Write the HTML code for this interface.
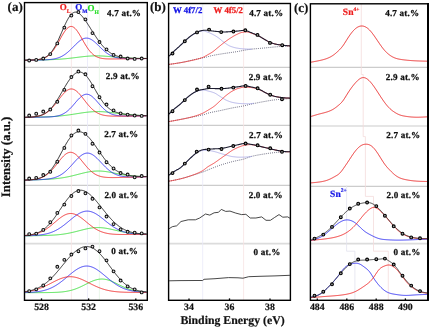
<!DOCTYPE html>
<html><head><meta charset="utf-8"><title>XPS spectra</title><style>
html,body{margin:0;padding:0;background:#fff;}
svg{display:block;will-change:transform;}
text{font-family:"Liberation Serif",serif;font-weight:bold;text-rendering:geometricPrecision;}
.lb{font-size:9.1px;fill:#111;stroke:#111;stroke-width:0.25px;letter-spacing:0.18px;}
.lw{font-size:8.8px;stroke-width:0.25px;}
.ls{font-size:9.6px;stroke-width:0.2px;}
.sup{font-size:5.5px;}
.sub{font-size:5.5px;}
.lo{font-size:9px;stroke-width:0.2px;}
.tk{font-size:9.8px;fill:#111;stroke:#111;stroke-width:0.2px;}
.ax{font-size:11.8px;fill:#111;stroke:#111;stroke-width:0.2px;}
.ay{font-size:12.9px;fill:#111;stroke:#111;stroke-width:0.2px;}
.pl{font-size:13px;fill:#111;stroke:#111;stroke-width:0.2px;}
</style></head>
<body><svg width="430" height="327" viewBox="0 0 430 327">
<rect width="430" height="327" fill="#fff"/>
<line x1="24.5" y1="67.3" x2="147.3" y2="67.3" stroke="#cccccc" stroke-width="1.2"/>
<line x1="24.5" y1="125.3" x2="147.3" y2="125.3" stroke="#cccccc" stroke-width="1.2"/>
<line x1="24.5" y1="185.3" x2="147.3" y2="185.3" stroke="#cccccc" stroke-width="1.2"/>
<line x1="24.5" y1="243.7" x2="147.3" y2="243.7" stroke="#dcdcdc" stroke-width="1.7"/>
<line x1="168.6" y1="67.3" x2="290.4" y2="67.3" stroke="#cccccc" stroke-width="1.2"/>
<line x1="168.6" y1="125.3" x2="290.4" y2="125.3" stroke="#cccccc" stroke-width="1.2"/>
<line x1="168.6" y1="185.3" x2="290.4" y2="185.3" stroke="#cccccc" stroke-width="1.2"/>
<line x1="168.6" y1="243.7" x2="290.4" y2="243.7" stroke="#dcdcdc" stroke-width="1.7"/>
<line x1="310.4" y1="67.3" x2="428.0" y2="67.3" stroke="#cccccc" stroke-width="1.2"/>
<line x1="310.4" y1="126.0" x2="428.0" y2="126.0" stroke="#cccccc" stroke-width="1.2"/>
<line x1="310.4" y1="186.4" x2="428.0" y2="186.4" stroke="#cccccc" stroke-width="1.2"/>
<line x1="310.4" y1="243.7" x2="428.0" y2="243.7" stroke="#dcdcdc" stroke-width="1.7"/>
<line x1="71.4" y1="2.6" x2="71.4" y2="300.0" stroke="#f6e2e2" stroke-width="0.8"/>
<line x1="87.5" y1="2.6" x2="87.5" y2="300.0" stroke="#e9e9f9" stroke-width="0.8"/>
<line x1="99.4" y1="2.6" x2="99.4" y2="300.0" stroke="#e4f5e4" stroke-width="0.8"/>
<line x1="202.7" y1="3.5" x2="202.7" y2="300" stroke="#e9e9f9" stroke-width="0.8"/>
<line x1="243.6" y1="3.5" x2="243.6" y2="300" stroke="#f6e2e2" stroke-width="0.8"/>
<path d="M361.3,3.8 V74.5 H363.2 V136.6 H365.4 V196.4 H373.5 V251.2 H388.3 V300" stroke="#f4dcdc" stroke-width="0.8" fill="none"/>
<path d="M346.6,185.5 V251.2 H354.9 V300" stroke="#e2e2ee" stroke-width="0.8" fill="none"/>
<path d="M25.1,60.22 L25.6,60.22 L26.1,60.21 L26.6,60.2 L27.1,60.19 L27.6,60.19 L28.1,60.18 L28.6,60.17 L29.1,60.16 L29.6,60.16 L30.1,60.15 L30.6,60.14 L31.1,60.13 L31.6,60.13 L32.1,60.12 L32.6,60.11 L33.1,60.1 L33.6,60.09 L34.1,60.09 L34.6,60.08 L35.1,60.07 L35.6,60.06 L36.1,60.05 L36.6,60.04 L37.1,60.03 L37.6,60.02 L38.1,60.01 L38.6,60.01 L39.1,60 L39.6,59.99 L40.1,59.98 L40.6,59.97 L41.1,59.95 L41.6,59.94 L42.1,59.93 L42.6,59.92 L43.1,59.91 L43.6,59.9 L44.1,59.88 L44.6,59.87 L45.1,59.86 L45.6,59.85 L46.1,59.83 L46.6,59.82 L47.1,59.8 L47.6,59.79 L48.1,59.77 L48.6,59.75 L49.1,59.74 L49.6,59.72 L50.1,59.7 L50.6,59.68 L51.1,59.66 L51.6,59.64 L52.1,59.62 L52.6,59.6 L53.1,59.58 L53.6,59.56 L54.1,59.53 L54.6,59.51 L55.1,59.48 L55.6,59.45 L56.1,59.43 L56.6,59.4 L57.1,59.37 L57.6,59.34 L58.1,59.31 L58.6,59.28 L59.1,59.24 L59.6,59.21 L60.1,59.17 L60.6,59.14 L61.1,59.1 L61.6,59.06 L62.1,59.02 L62.6,58.98 L63.1,58.94 L63.6,58.89 L64.1,58.85 L64.6,58.8 L65.1,58.76 L65.6,58.71 L66.1,58.66 L66.6,58.61 L67.1,58.56 L67.6,58.51 L68.1,58.46 L68.6,58.4 L69.1,58.35 L69.6,58.29 L70.1,58.24 L70.6,58.18 L71.1,58.12 L71.6,58.06 L72.1,58 L72.6,57.94 L73.1,57.88 L73.6,57.82 L74.1,57.76 L74.6,57.7 L75.1,57.63 L75.6,57.57 L76.1,57.51 L76.6,57.44 L77.1,57.38 L77.6,57.32 L78.1,57.26 L78.6,57.19 L79.1,57.13 L79.6,57.07 L80.1,57.01 L80.6,56.95 L81.1,56.89 L81.6,56.83 L82.1,56.77 L82.6,56.72 L83.1,56.66 L83.6,56.6 L84.1,56.55 L84.6,56.5 L85.1,56.45 L85.6,56.4 L86.1,56.35 L86.6,56.31 L87.1,56.26 L87.6,56.22 L88.1,56.18 L88.6,56.14 L89.1,56.11 L89.6,56.07 L90.1,56.04 L90.6,56.01 L91.1,55.98 L91.6,55.96 L92.1,55.94 L92.6,55.92 L93.1,55.9 L93.6,55.88 L94.1,55.87 L94.6,55.86 L95.1,55.85 L95.6,55.85 L96.1,55.84 L96.6,55.84 L97.1,55.85 L97.6,55.85 L98.1,55.86 L98.6,55.87 L99.1,55.88 L99.6,55.89 L100.1,55.91 L100.6,55.93 L101.1,55.95 L101.6,55.97 L102.1,56 L102.6,56.02 L103.1,56.05 L103.6,56.08 L104.1,56.12 L104.6,56.15 L105.1,56.19 L105.6,56.22 L106.1,56.26 L106.6,56.3 L107.1,56.34 L107.6,56.39 L108.1,56.43 L108.6,56.47 L109.1,56.52 L109.6,56.56 L110.1,56.61 L110.6,56.66 L111.1,56.71 L111.6,56.75 L112.1,56.8 L112.6,56.85 L113.1,56.9 L113.6,56.95 L114.1,57 L114.6,57.05 L115.1,57.1 L115.6,57.14 L116.1,57.19 L116.6,57.24 L117.1,57.29 L117.6,57.33 L118.1,57.38 L118.6,57.42 L119.1,57.47 L119.6,57.51 L120.1,57.56 L120.6,57.6 L121.1,57.64 L121.6,57.68 L122.1,57.72 L122.6,57.76 L123.1,57.79 L123.6,57.83 L124.1,57.87 L124.6,57.9 L125.1,57.93 L125.6,57.96 L126.1,58 L126.6,58.03 L127.1,58.05 L127.6,58.08 L128.1,58.11 L128.6,58.13 L129.1,58.16 L129.6,58.18 L130.1,58.2 L130.6,58.22 L131.1,58.24 L131.6,58.26 L132.1,58.28 L132.6,58.3 L133.1,58.31 L133.6,58.33 L134.1,58.34 L134.6,58.36 L135.1,58.37 L135.6,58.38 L136.1,58.39 L136.6,58.4 L137.1,58.41 L137.6,58.42 L138.1,58.42 L138.6,58.43 L139.1,58.44 L139.6,58.44 L140.1,58.44 L140.6,58.45 L141.1,58.45 L141.6,58.45 L142.1,58.46 L142.6,58.46 L143.1,58.46 L143.6,58.46 L144.1,58.46 L144.6,58.46 L145.1,58.46 L145.6,58.46 L146.1,58.46 L146.6,58.46" stroke="#33dd33" stroke-width="0.9" fill="none"/>
<path d="M25.1,60.23 L25.6,60.22 L26.1,60.21 L26.6,60.2 L27.1,60.2 L27.6,60.19 L28.1,60.18 L28.6,60.18 L29.1,60.17 L29.6,60.16 L30.1,60.15 L30.6,60.15 L31.1,60.14 L31.6,60.13 L32.1,60.12 L32.6,60.12 L33.1,60.11 L33.6,60.1 L34.1,60.09 L34.6,60.09 L35.1,60.08 L35.6,60.07 L36.1,60.06 L36.6,60.05 L37.1,60.04 L37.6,60.03 L38.1,60.03 L38.6,60.02 L39.1,60.01 L39.6,59.99 L40.1,59.98 L40.6,59.97 L41.1,59.96 L41.6,59.95 L42.1,59.93 L42.6,59.92 L43.1,59.9 L43.6,59.88 L44.1,59.87 L44.6,59.85 L45.1,59.82 L45.6,59.8 L46.1,59.78 L46.6,59.75 L47.1,59.72 L47.6,59.69 L48.1,59.65 L48.6,59.62 L49.1,59.58 L49.6,59.53 L50.1,59.48 L50.6,59.43 L51.1,59.38 L51.6,59.31 L52.1,59.25 L52.6,59.18 L53.1,59.1 L53.6,59.01 L54.1,58.92 L54.6,58.82 L55.1,58.72 L55.6,58.6 L56.1,58.48 L56.6,58.35 L57.1,58.2 L57.6,58.05 L58.1,57.89 L58.6,57.72 L59.1,57.53 L59.6,57.34 L60.1,57.13 L60.6,56.91 L61.1,56.67 L61.6,56.42 L62.1,56.16 L62.6,55.89 L63.1,55.6 L63.6,55.29 L64.1,54.97 L64.6,54.64 L65.1,54.3 L65.6,53.93 L66.1,53.56 L66.6,53.17 L67.1,52.77 L67.6,52.35 L68.1,51.92 L68.6,51.48 L69.1,51.03 L69.6,50.57 L70.1,50.1 L70.6,49.62 L71.1,49.13 L71.6,48.63 L72.1,48.13 L72.6,47.63 L73.1,47.12 L73.6,46.61 L74.1,46.1 L74.6,45.59 L75.1,45.09 L75.6,44.59 L76.1,44.1 L76.6,43.61 L77.1,43.14 L77.6,42.68 L78.1,42.23 L78.6,41.8 L79.1,41.38 L79.6,40.98 L80.1,40.6 L80.6,40.25 L81.1,39.92 L81.6,39.61 L82.1,39.32 L82.6,39.07 L83.1,38.84 L83.6,38.64 L84.1,38.48 L84.6,38.34 L85.1,38.23 L85.6,38.16 L86.1,38.12 L86.6,38.11 L87.1,38.13 L87.6,38.18 L88.1,38.27 L88.6,38.39 L89.1,38.53 L89.6,38.71 L90.1,38.92 L90.6,39.16 L91.1,39.42 L91.6,39.71 L92.1,40.02 L92.6,40.36 L93.1,40.72 L93.6,41.1 L94.1,41.5 L94.6,41.92 L95.1,42.35 L95.6,42.8 L96.1,43.25 L96.6,43.72 L97.1,44.2 L97.6,44.68 L98.1,45.17 L98.6,45.66 L99.1,46.16 L99.6,46.65 L100.1,47.15 L100.6,47.64 L101.1,48.13 L101.6,48.61 L102.1,49.09 L102.6,49.55 L103.1,50.01 L103.6,50.46 L104.1,50.9 L104.6,51.33 L105.1,51.75 L105.6,52.15 L106.1,52.54 L106.6,52.92 L107.1,53.29 L107.6,53.64 L108.1,53.97 L108.6,54.29 L109.1,54.6 L109.6,54.89 L110.1,55.17 L110.6,55.43 L111.1,55.68 L111.6,55.92 L112.1,56.14 L112.6,56.35 L113.1,56.55 L113.6,56.73 L114.1,56.91 L114.6,57.07 L115.1,57.22 L115.6,57.36 L116.1,57.49 L116.6,57.61 L117.1,57.72 L117.6,57.82 L118.1,57.91 L118.6,58 L119.1,58.08 L119.6,58.15 L120.1,58.22 L120.6,58.28 L121.1,58.33 L121.6,58.38 L122.1,58.42 L122.6,58.46 L123.1,58.49 L123.6,58.53 L124.1,58.55 L124.6,58.58 L125.1,58.6 L125.6,58.62 L126.1,58.63 L126.6,58.65 L127.1,58.66 L127.6,58.67 L128.1,58.67 L128.6,58.68 L129.1,58.68 L129.6,58.69 L130.1,58.69 L130.6,58.69 L131.1,58.69 L131.6,58.69 L132.1,58.69 L132.6,58.69 L133.1,58.68 L133.6,58.68 L134.1,58.68 L134.6,58.67 L135.1,58.67 L135.6,58.66 L136.1,58.66 L136.6,58.65 L137.1,58.65 L137.6,58.64 L138.1,58.64 L138.6,58.63 L139.1,58.62 L139.6,58.62 L140.1,58.61 L140.6,58.6 L141.1,58.6 L141.6,58.59 L142.1,58.58 L142.6,58.58 L143.1,58.57 L143.6,58.56 L144.1,58.56 L144.6,58.55 L145.1,58.54 L145.6,58.54 L146.1,58.53 L146.6,58.52" stroke="#2a2af0" stroke-width="0.9" fill="none"/>
<path d="M25.1,60.22 L25.6,60.21 L26.1,60.2 L26.6,60.19 L27.1,60.18 L27.6,60.17 L28.1,60.16 L28.6,60.15 L29.1,60.14 L29.6,60.13 L30.1,60.11 L30.6,60.1 L31.1,60.08 L31.6,60.06 L32.1,60.05 L32.6,60.03 L33.1,60 L33.6,59.98 L34.1,59.95 L34.6,59.92 L35.1,59.89 L35.6,59.85 L36.1,59.81 L36.6,59.76 L37.1,59.71 L37.6,59.66 L38.1,59.59 L38.6,59.52 L39.1,59.45 L39.6,59.36 L40.1,59.27 L40.6,59.16 L41.1,59.05 L41.6,58.93 L42.1,58.79 L42.6,58.64 L43.1,58.47 L43.6,58.29 L44.1,58.09 L44.6,57.88 L45.1,57.64 L45.6,57.39 L46.1,57.11 L46.6,56.82 L47.1,56.5 L47.6,56.15 L48.1,55.78 L48.6,55.39 L49.1,54.97 L49.6,54.52 L50.1,54.04 L50.6,53.54 L51.1,53.01 L51.6,52.44 L52.1,51.85 L52.6,51.23 L53.1,50.58 L53.6,49.9 L54.1,49.19 L54.6,48.46 L55.1,47.7 L55.6,46.92 L56.1,46.11 L56.6,45.28 L57.1,44.44 L57.6,43.57 L58.1,42.7 L58.6,41.81 L59.1,40.92 L59.6,40.02 L60.1,39.12 L60.6,38.22 L61.1,37.32 L61.6,36.44 L62.1,35.57 L62.6,34.72 L63.1,33.88 L63.6,33.08 L64.1,32.3 L64.6,31.56 L65.1,30.85 L65.6,30.19 L66.1,29.57 L66.6,29 L67.1,28.48 L67.6,28.01 L68.1,27.6 L68.6,27.25 L69.1,26.96 L69.6,26.73 L70.1,26.57 L70.6,26.47 L71.1,26.44 L71.6,26.47 L72.1,26.57 L72.6,26.73 L73.1,26.96 L73.6,27.25 L74.1,27.6 L74.6,28.01 L75.1,28.47 L75.6,28.99 L76.1,29.56 L76.6,30.17 L77.1,30.83 L77.6,31.53 L78.1,32.27 L78.6,33.04 L79.1,33.83 L79.6,34.66 L80.1,35.5 L80.6,36.36 L81.1,37.23 L81.6,38.11 L82.1,39 L82.6,39.88 L83.1,40.77 L83.6,41.65 L84.1,42.52 L84.6,43.38 L85.1,44.22 L85.6,45.05 L86.1,45.86 L86.6,46.65 L87.1,47.41 L87.6,48.15 L88.1,48.87 L88.6,49.55 L89.1,50.21 L89.6,50.84 L90.1,51.44 L90.6,52.02 L91.1,52.56 L91.6,53.07 L92.1,53.56 L92.6,54.01 L93.1,54.44 L93.6,54.84 L94.1,55.22 L94.6,55.57 L95.1,55.89 L95.6,56.19 L96.1,56.47 L96.6,56.73 L97.1,56.96 L97.6,57.18 L98.1,57.38 L98.6,57.56 L99.1,57.72 L99.6,57.87 L100.1,58 L100.6,58.12 L101.1,58.23 L101.6,58.33 L102.1,58.42 L102.6,58.5 L103.1,58.57 L103.6,58.63 L104.1,58.68 L104.6,58.73 L105.1,58.77 L105.6,58.8 L106.1,58.83 L106.6,58.86 L107.1,58.88 L107.6,58.9 L108.1,58.92 L108.6,58.93 L109.1,58.94 L109.6,58.95 L110.1,58.96 L110.6,58.96 L111.1,58.96 L111.6,58.96 L112.1,58.96 L112.6,58.96 L113.1,58.96 L113.6,58.96 L114.1,58.96 L114.6,58.95 L115.1,58.95 L115.6,58.94 L116.1,58.94 L116.6,58.93 L117.1,58.93 L117.6,58.92 L118.1,58.92 L118.6,58.91 L119.1,58.9 L119.6,58.9 L120.1,58.89 L120.6,58.88 L121.1,58.88 L121.6,58.87 L122.1,58.86 L122.6,58.86 L123.1,58.85 L123.6,58.84 L124.1,58.84 L124.6,58.83 L125.1,58.82 L125.6,58.82 L126.1,58.81 L126.6,58.8 L127.1,58.8 L127.6,58.79 L128.1,58.78 L128.6,58.77 L129.1,58.77 L129.6,58.76 L130.1,58.75 L130.6,58.75 L131.1,58.74 L131.6,58.73 L132.1,58.73 L132.6,58.72 L133.1,58.71 L133.6,58.7 L134.1,58.7 L134.6,58.69 L135.1,58.68 L135.6,58.68 L136.1,58.67 L136.6,58.66 L137.1,58.66 L137.6,58.65 L138.1,58.64 L138.6,58.63 L139.1,58.63 L139.6,58.62 L140.1,58.61 L140.6,58.61 L141.1,58.6 L141.6,58.59 L142.1,58.59 L142.6,58.58 L143.1,58.57 L143.6,58.56 L144.1,58.56 L144.6,58.55 L145.1,58.54 L145.6,58.54 L146.1,58.53 L146.6,58.52" stroke="#ee2222" stroke-width="0.9" fill="none"/>
<path d="M25.1,60.22 L25.6,60.21 L26.1,60.2 L26.6,60.19 L27.1,60.18 L27.6,60.17 L28.1,60.16 L28.6,60.14 L29.1,60.13 L29.6,60.12 L30.1,60.1 L30.6,60.09 L31.1,60.07 L31.6,60.05 L32.1,60.03 L32.6,60.01 L33.1,59.99 L33.6,59.96 L34.1,59.93 L34.6,59.9 L35.1,59.86 L35.6,59.82 L36.1,59.78 L36.6,59.73 L37.1,59.67 L37.6,59.61 L38.1,59.55 L38.6,59.47 L39.1,59.39 L39.6,59.3 L40.1,59.2 L40.6,59.09 L41.1,58.96 L41.6,58.83 L42.1,58.68 L42.6,58.51 L43.1,58.33 L43.6,58.14 L44.1,57.92 L44.6,57.69 L45.1,57.43 L45.6,57.16 L46.1,56.86 L46.6,56.54 L47.1,56.19 L47.6,55.81 L48.1,55.4 L48.6,54.97 L49.1,54.51 L49.6,54.01 L50.1,53.48 L50.6,52.92 L51.1,52.32 L51.6,51.69 L52.1,51.03 L52.6,50.32 L53.1,49.59 L53.6,48.81 L54.1,48.01 L54.6,47.16 L55.1,46.29 L55.6,45.38 L56.1,44.43 L56.6,43.46 L57.1,42.46 L57.6,41.43 L58.1,40.37 L58.6,39.29 L59.1,38.19 L59.6,37.08 L60.1,35.94 L60.6,34.8 L61.1,33.65 L61.6,32.49 L62.1,31.34 L62.6,30.18 L63.1,29.03 L63.6,27.89 L64.1,26.77 L64.6,25.66 L65.1,24.58 L65.6,23.52 L66.1,22.49 L66.6,21.49 L67.1,20.53 L67.6,19.61 L68.1,18.73 L68.6,17.9 L69.1,17.12 L69.6,16.39 L70.1,15.71 L70.6,15.09 L71.1,14.52 L71.6,14.02 L72.1,13.57 L72.6,13.18 L73.1,12.85 L73.6,12.59 L74.1,12.38 L74.6,12.23 L75.1,12.14 L75.6,12.11 L76.1,12.14 L76.6,12.22 L77.1,12.36 L77.6,12.55 L78.1,12.79 L78.6,13.07 L79.1,13.41 L79.6,13.78 L80.1,14.2 L80.6,14.66 L81.1,15.15 L81.6,15.68 L82.1,16.24 L82.6,16.83 L83.1,17.45 L83.6,18.09 L84.1,18.75 L84.6,19.43 L85.1,20.14 L85.6,20.85 L86.1,21.59 L86.6,22.33 L87.1,23.09 L87.6,23.86 L88.1,24.63 L88.6,25.41 L89.1,26.2 L89.6,26.98 L90.1,27.78 L90.6,28.57 L91.1,29.36 L91.6,30.15 L92.1,30.95 L92.6,31.73 L93.1,32.52 L93.6,33.3 L94.1,34.07 L94.6,34.84 L95.1,35.61 L95.6,36.36 L96.1,37.11 L96.6,37.85 L97.1,38.58 L97.6,39.29 L98.1,40 L98.6,40.7 L99.1,41.38 L99.6,42.05 L100.1,42.71 L100.6,43.36 L101.1,43.99 L101.6,44.61 L102.1,45.21 L102.6,45.8 L103.1,46.37 L103.6,46.93 L104.1,47.46 L104.6,47.99 L105.1,48.5 L105.6,48.99 L106.1,49.46 L106.6,49.92 L107.1,50.36 L107.6,50.79 L108.1,51.19 L108.6,51.59 L109.1,51.96 L109.6,52.32 L110.1,52.67 L110.6,53 L111.1,53.31 L111.6,53.61 L112.1,53.9 L112.6,54.17 L113.1,54.43 L113.6,54.67 L114.1,54.91 L114.6,55.13 L115.1,55.34 L115.6,55.53 L116.1,55.72 L116.6,55.9 L117.1,56.06 L117.6,56.22 L118.1,56.37 L118.6,56.51 L119.1,56.64 L119.6,56.76 L120.1,56.88 L120.6,56.98 L121.1,57.09 L121.6,57.18 L122.1,57.27 L122.6,57.36 L123.1,57.44 L123.6,57.51 L124.1,57.58 L124.6,57.65 L125.1,57.71 L125.6,57.76 L126.1,57.82 L126.6,57.87 L127.1,57.91 L127.6,57.96 L128.1,58 L128.6,58.04 L129.1,58.07 L129.6,58.11 L130.1,58.14 L130.6,58.17 L131.1,58.19 L131.6,58.22 L132.1,58.24 L132.6,58.26 L133.1,58.28 L133.6,58.3 L134.1,58.32 L134.6,58.34 L135.1,58.35 L135.6,58.36 L136.1,58.38 L136.6,58.39 L137.1,58.4 L137.6,58.41 L138.1,58.42 L138.6,58.42 L139.1,58.43 L139.6,58.44 L140.1,58.44 L140.6,58.45 L141.1,58.45 L141.6,58.45 L142.1,58.46 L142.6,58.46 L143.1,58.46 L143.6,58.46 L144.1,58.46 L144.6,58.46 L145.1,58.46 L145.6,58.46 L146.1,58.46 L146.6,58.46" stroke="#1a1a1a" stroke-width="0.9" fill="none"/>
<circle cx="29.2" cy="60.5" r="1.4" fill="#ddd" stroke="#111" stroke-width="1.05"/>
<circle cx="36.23" cy="59.9" r="1.4" fill="#ddd" stroke="#111" stroke-width="1.05"/>
<circle cx="43.26" cy="58.5" r="1.4" fill="#ddd" stroke="#111" stroke-width="1.05"/>
<circle cx="50.29" cy="54.1" r="1.4" fill="#ddd" stroke="#111" stroke-width="1.05"/>
<circle cx="57.32" cy="43.4" r="1.4" fill="#ddd" stroke="#111" stroke-width="1.05"/>
<circle cx="64.35" cy="27.6" r="1.4" fill="#ddd" stroke="#111" stroke-width="1.05"/>
<circle cx="71.38" cy="15.5" r="1.4" fill="#ddd" stroke="#111" stroke-width="1.05"/>
<circle cx="78.41" cy="12" r="1.4" fill="#ddd" stroke="#111" stroke-width="1.05"/>
<circle cx="85.44" cy="19.4" r="1.4" fill="#ddd" stroke="#111" stroke-width="1.05"/>
<circle cx="92.47" cy="33.1" r="1.4" fill="#ddd" stroke="#111" stroke-width="1.05"/>
<circle cx="99.5" cy="42" r="1.4" fill="#ddd" stroke="#111" stroke-width="1.05"/>
<circle cx="106.53" cy="49.4" r="1.4" fill="#ddd" stroke="#111" stroke-width="1.05"/>
<circle cx="113.56" cy="54.9" r="1.4" fill="#ddd" stroke="#111" stroke-width="1.05"/>
<circle cx="120.59" cy="56.5" r="1.4" fill="#ddd" stroke="#111" stroke-width="1.05"/>
<circle cx="127.62" cy="58.5" r="1.4" fill="#ddd" stroke="#111" stroke-width="1.05"/>
<circle cx="134.65" cy="58.9" r="1.4" fill="#ddd" stroke="#111" stroke-width="1.05"/>
<circle cx="141.68" cy="58.5" r="1.4" fill="#ddd" stroke="#111" stroke-width="1.05"/>
<text x="107.1" y="15.5" class="lb">4.7 at.%</text>
<path d="M25.1,117.33 L25.6,117.33 L26.1,117.32 L26.6,117.31 L27.1,117.3 L27.6,117.3 L28.1,117.29 L28.6,117.28 L29.1,117.27 L29.6,117.27 L30.1,117.26 L30.6,117.25 L31.1,117.24 L31.6,117.23 L32.1,117.23 L32.6,117.22 L33.1,117.21 L33.6,117.2 L34.1,117.19 L34.6,117.18 L35.1,117.17 L35.6,117.16 L36.1,117.15 L36.6,117.14 L37.1,117.13 L37.6,117.12 L38.1,117.11 L38.6,117.1 L39.1,117.09 L39.6,117.07 L40.1,117.06 L40.6,117.05 L41.1,117.03 L41.6,117.02 L42.1,117.01 L42.6,116.99 L43.1,116.98 L43.6,116.96 L44.1,116.94 L44.6,116.93 L45.1,116.91 L45.6,116.89 L46.1,116.87 L46.6,116.85 L47.1,116.83 L47.6,116.81 L48.1,116.79 L48.6,116.77 L49.1,116.74 L49.6,116.72 L50.1,116.69 L50.6,116.67 L51.1,116.64 L51.6,116.61 L52.1,116.58 L52.6,116.55 L53.1,116.52 L53.6,116.49 L54.1,116.45 L54.6,116.42 L55.1,116.39 L55.6,116.35 L56.1,116.31 L56.6,116.27 L57.1,116.23 L57.6,116.19 L58.1,116.15 L58.6,116.1 L59.1,116.06 L59.6,116.01 L60.1,115.96 L60.6,115.91 L61.1,115.86 L61.6,115.81 L62.1,115.76 L62.6,115.7 L63.1,115.65 L63.6,115.59 L64.1,115.53 L64.6,115.47 L65.1,115.41 L65.6,115.35 L66.1,115.28 L66.6,115.22 L67.1,115.15 L67.6,115.08 L68.1,115.02 L68.6,114.95 L69.1,114.88 L69.6,114.8 L70.1,114.73 L70.6,114.66 L71.1,114.58 L71.6,114.51 L72.1,114.43 L72.6,114.36 L73.1,114.28 L73.6,114.2 L74.1,114.12 L74.6,114.04 L75.1,113.97 L75.6,113.89 L76.1,113.81 L76.6,113.73 L77.1,113.65 L77.6,113.57 L78.1,113.49 L78.6,113.41 L79.1,113.33 L79.6,113.26 L80.1,113.18 L80.6,113.1 L81.1,113.03 L81.6,112.95 L82.1,112.88 L82.6,112.81 L83.1,112.73 L83.6,112.66 L84.1,112.6 L84.6,112.53 L85.1,112.46 L85.6,112.4 L86.1,112.34 L86.6,112.28 L87.1,112.22 L87.6,112.16 L88.1,112.11 L88.6,112.06 L89.1,112.01 L89.6,111.96 L90.1,111.92 L90.6,111.88 L91.1,111.84 L91.6,111.8 L92.1,111.77 L92.6,111.74 L93.1,111.71 L93.6,111.69 L94.1,111.66 L94.6,111.64 L95.1,111.63 L95.6,111.61 L96.1,111.6 L96.6,111.6 L97.1,111.59 L97.6,111.59 L98.1,111.59 L98.6,111.6 L99.1,111.6 L99.6,111.61 L100.1,111.63 L100.6,111.64 L101.1,111.66 L101.6,111.68 L102.1,111.71 L102.6,111.73 L103.1,111.76 L103.6,111.8 L104.1,111.83 L104.6,111.87 L105.1,111.91 L105.6,111.95 L106.1,111.99 L106.6,112.04 L107.1,112.09 L107.6,112.14 L108.1,112.19 L108.6,112.24 L109.1,112.3 L109.6,112.35 L110.1,112.41 L110.6,112.47 L111.1,112.53 L111.6,112.59 L112.1,112.65 L112.6,112.72 L113.1,112.78 L113.6,112.85 L114.1,112.91 L114.6,112.98 L115.1,113.04 L115.6,113.11 L116.1,113.18 L116.6,113.24 L117.1,113.31 L117.6,113.38 L118.1,113.44 L118.6,113.51 L119.1,113.58 L119.6,113.64 L120.1,113.71 L120.6,113.77 L121.1,113.84 L121.6,113.9 L122.1,113.96 L122.6,114.03 L123.1,114.09 L123.6,114.15 L124.1,114.21 L124.6,114.27 L125.1,114.32 L125.6,114.38 L126.1,114.43 L126.6,114.49 L127.1,114.54 L127.6,114.59 L128.1,114.64 L128.6,114.69 L129.1,114.74 L129.6,114.78 L130.1,114.83 L130.6,114.87 L131.1,114.91 L131.6,114.96 L132.1,115 L132.6,115.03 L133.1,115.07 L133.6,115.11 L134.1,115.14 L134.6,115.17 L135.1,115.21 L135.6,115.24 L136.1,115.26 L136.6,115.29 L137.1,115.32 L137.6,115.34 L138.1,115.37 L138.6,115.39 L139.1,115.41 L139.6,115.44 L140.1,115.46 L140.6,115.47 L141.1,115.49 L141.6,115.51 L142.1,115.52 L142.6,115.54 L143.1,115.55 L143.6,115.57 L144.1,115.58 L144.6,115.59 L145.1,115.6 L145.6,115.61 L146.1,115.62 L146.6,115.63" stroke="#33dd33" stroke-width="0.9" fill="none"/>
<path d="M25.1,117.34 L25.6,117.34 L26.1,117.33 L26.6,117.32 L27.1,117.32 L27.6,117.31 L28.1,117.3 L28.6,117.3 L29.1,117.29 L29.6,117.29 L30.1,117.28 L30.6,117.27 L31.1,117.27 L31.6,117.26 L32.1,117.26 L32.6,117.25 L33.1,117.24 L33.6,117.24 L34.1,117.23 L34.6,117.22 L35.1,117.22 L35.6,117.21 L36.1,117.2 L36.6,117.2 L37.1,117.19 L37.6,117.19 L38.1,117.18 L38.6,117.17 L39.1,117.16 L39.6,117.16 L40.1,117.15 L40.6,117.14 L41.1,117.13 L41.6,117.13 L42.1,117.12 L42.6,117.11 L43.1,117.1 L43.6,117.09 L44.1,117.08 L44.6,117.07 L45.1,117.06 L45.6,117.04 L46.1,117.03 L46.6,117.02 L47.1,117 L47.6,116.98 L48.1,116.96 L48.6,116.94 L49.1,116.92 L49.6,116.9 L50.1,116.87 L50.6,116.84 L51.1,116.81 L51.6,116.77 L52.1,116.73 L52.6,116.69 L53.1,116.64 L53.6,116.59 L54.1,116.53 L54.6,116.47 L55.1,116.4 L55.6,116.32 L56.1,116.24 L56.6,116.14 L57.1,116.04 L57.6,115.93 L58.1,115.82 L58.6,115.69 L59.1,115.55 L59.6,115.39 L60.1,115.23 L60.6,115.05 L61.1,114.86 L61.6,114.66 L62.1,114.44 L62.6,114.2 L63.1,113.95 L63.6,113.68 L64.1,113.4 L64.6,113.1 L65.1,112.78 L65.6,112.44 L66.1,112.08 L66.6,111.71 L67.1,111.32 L67.6,110.91 L68.1,110.48 L68.6,110.03 L69.1,109.57 L69.6,109.08 L70.1,108.59 L70.6,108.08 L71.1,107.55 L71.6,107.01 L72.1,106.46 L72.6,105.9 L73.1,105.33 L73.6,104.75 L74.1,104.16 L74.6,103.58 L75.1,102.99 L75.6,102.4 L76.1,101.82 L76.6,101.24 L77.1,100.67 L77.6,100.1 L78.1,99.56 L78.6,99.02 L79.1,98.5 L79.6,98 L80.1,97.53 L80.6,97.08 L81.1,96.65 L81.6,96.26 L82.1,95.89 L82.6,95.56 L83.1,95.26 L83.6,94.99 L84.1,94.77 L84.6,94.58 L85.1,94.43 L85.6,94.32 L86.1,94.26 L86.6,94.23 L87.1,94.25 L87.6,94.3 L88.1,94.4 L88.6,94.54 L89.1,94.71 L89.6,94.93 L90.1,95.18 L90.6,95.47 L91.1,95.79 L91.6,96.14 L92.1,96.53 L92.6,96.94 L93.1,97.38 L93.6,97.84 L94.1,98.33 L94.6,98.84 L95.1,99.36 L95.6,99.9 L96.1,100.45 L96.6,101.01 L97.1,101.57 L97.6,102.15 L98.1,102.72 L98.6,103.3 L99.1,103.87 L99.6,104.44 L100.1,105.01 L100.6,105.57 L101.1,106.11 L101.6,106.65 L102.1,107.18 L102.6,107.69 L103.1,108.19 L103.6,108.68 L104.1,109.15 L104.6,109.6 L105.1,110.03 L105.6,110.45 L106.1,110.85 L106.6,111.23 L107.1,111.59 L107.6,111.93 L108.1,112.26 L108.6,112.56 L109.1,112.85 L109.6,113.13 L110.1,113.38 L110.6,113.62 L111.1,113.84 L111.6,114.05 L112.1,114.24 L112.6,114.42 L113.1,114.58 L113.6,114.73 L114.1,114.87 L114.6,115 L115.1,115.12 L115.6,115.22 L116.1,115.32 L116.6,115.41 L117.1,115.49 L117.6,115.56 L118.1,115.62 L118.6,115.68 L119.1,115.73 L119.6,115.78 L120.1,115.82 L120.6,115.85 L121.1,115.89 L121.6,115.91 L122.1,115.94 L122.6,115.96 L123.1,115.97 L123.6,115.99 L124.1,116 L124.6,116.01 L125.1,116.02 L125.6,116.03 L126.1,116.03 L126.6,116.03 L127.1,116.04 L127.6,116.04 L128.1,116.04 L128.6,116.04 L129.1,116.04 L129.6,116.03 L130.1,116.03 L130.6,116.03 L131.1,116.03 L131.6,116.02 L132.1,116.02 L132.6,116.01 L133.1,116.01 L133.6,116 L134.1,116 L134.6,115.99 L135.1,115.99 L135.6,115.98 L136.1,115.98 L136.6,115.97 L137.1,115.97 L137.6,115.96 L138.1,115.95 L138.6,115.95 L139.1,115.94 L139.6,115.94 L140.1,115.93 L140.6,115.92 L141.1,115.92 L141.6,115.91 L142.1,115.91 L142.6,115.9 L143.1,115.89 L143.6,115.89 L144.1,115.88 L144.6,115.87 L145.1,115.87 L145.6,115.86 L146.1,115.86 L146.6,115.85" stroke="#2a2af0" stroke-width="0.9" fill="none"/>
<path d="M25.1,117.3 L25.6,117.28 L26.1,117.27 L26.6,117.26 L27.1,117.24 L27.6,117.22 L28.1,117.21 L28.6,117.19 L29.1,117.16 L29.6,117.14 L30.1,117.11 L30.6,117.09 L31.1,117.06 L31.6,117.02 L32.1,116.99 L32.6,116.95 L33.1,116.9 L33.6,116.85 L34.1,116.8 L34.6,116.75 L35.1,116.68 L35.6,116.62 L36.1,116.54 L36.6,116.46 L37.1,116.38 L37.6,116.28 L38.1,116.18 L38.6,116.07 L39.1,115.95 L39.6,115.82 L40.1,115.68 L40.6,115.53 L41.1,115.36 L41.6,115.19 L42.1,115 L42.6,114.8 L43.1,114.58 L43.6,114.36 L44.1,114.11 L44.6,113.85 L45.1,113.57 L45.6,113.28 L46.1,112.97 L46.6,112.64 L47.1,112.3 L47.6,111.93 L48.1,111.55 L48.6,111.15 L49.1,110.73 L49.6,110.29 L50.1,109.84 L50.6,109.36 L51.1,108.87 L51.6,108.35 L52.1,107.83 L52.6,107.28 L53.1,106.72 L53.6,106.14 L54.1,105.55 L54.6,104.94 L55.1,104.32 L55.6,103.7 L56.1,103.06 L56.6,102.41 L57.1,101.76 L57.6,101.1 L58.1,100.44 L58.6,99.78 L59.1,99.11 L59.6,98.46 L60.1,97.8 L60.6,97.16 L61.1,96.52 L61.6,95.9 L62.1,95.29 L62.6,94.69 L63.1,94.11 L63.6,93.56 L64.1,93.02 L64.6,92.52 L65.1,92.04 L65.6,91.58 L66.1,91.16 L66.6,90.77 L67.1,90.42 L67.6,90.1 L68.1,89.82 L68.6,89.58 L69.1,89.37 L69.6,89.21 L70.1,89.09 L70.6,89 L71.1,88.97 L71.6,88.97 L72.1,89.01 L72.6,89.1 L73.1,89.23 L73.6,89.4 L74.1,89.61 L74.6,89.85 L75.1,90.14 L75.6,90.46 L76.1,90.82 L76.6,91.21 L77.1,91.63 L77.6,92.08 L78.1,92.57 L78.6,93.07 L79.1,93.6 L79.6,94.16 L80.1,94.73 L80.6,95.32 L81.1,95.92 L81.6,96.54 L82.1,97.17 L82.6,97.81 L83.1,98.45 L83.6,99.1 L84.1,99.75 L84.6,100.4 L85.1,101.04 L85.6,101.69 L86.1,102.33 L86.6,102.96 L87.1,103.58 L87.6,104.19 L88.1,104.79 L88.6,105.38 L89.1,105.95 L89.6,106.51 L90.1,107.05 L90.6,107.58 L91.1,108.09 L91.6,108.58 L92.1,109.06 L92.6,109.51 L93.1,109.95 L93.6,110.37 L94.1,110.77 L94.6,111.15 L95.1,111.51 L95.6,111.85 L96.1,112.18 L96.6,112.48 L97.1,112.78 L97.6,113.05 L98.1,113.31 L98.6,113.55 L99.1,113.77 L99.6,113.98 L100.1,114.18 L100.6,114.36 L101.1,114.53 L101.6,114.69 L102.1,114.83 L102.6,114.97 L103.1,115.09 L103.6,115.21 L104.1,115.31 L104.6,115.4 L105.1,115.49 L105.6,115.57 L106.1,115.64 L106.6,115.71 L107.1,115.77 L107.6,115.82 L108.1,115.87 L108.6,115.91 L109.1,115.95 L109.6,115.98 L110.1,116.01 L110.6,116.04 L111.1,116.06 L111.6,116.08 L112.1,116.1 L112.6,116.11 L113.1,116.12 L113.6,116.13 L114.1,116.14 L114.6,116.15 L115.1,116.15 L115.6,116.16 L116.1,116.16 L116.6,116.16 L117.1,116.16 L117.6,116.16 L118.1,116.16 L118.6,116.16 L119.1,116.16 L119.6,116.16 L120.1,116.16 L120.6,116.15 L121.1,116.15 L121.6,116.14 L122.1,116.14 L122.6,116.14 L123.1,116.13 L123.6,116.13 L124.1,116.12 L124.6,116.12 L125.1,116.11 L125.6,116.1 L126.1,116.1 L126.6,116.09 L127.1,116.09 L127.6,116.08 L128.1,116.08 L128.6,116.07 L129.1,116.06 L129.6,116.06 L130.1,116.05 L130.6,116.05 L131.1,116.04 L131.6,116.03 L132.1,116.03 L132.6,116.02 L133.1,116.02 L133.6,116.01 L134.1,116 L134.6,116 L135.1,115.99 L135.6,115.99 L136.1,115.98 L136.6,115.97 L137.1,115.97 L137.6,115.96 L138.1,115.95 L138.6,115.95 L139.1,115.94 L139.6,115.94 L140.1,115.93 L140.6,115.92 L141.1,115.92 L141.6,115.91 L142.1,115.91 L142.6,115.9 L143.1,115.89 L143.6,115.89 L144.1,115.88 L144.6,115.87 L145.1,115.87 L145.6,115.86 L146.1,115.86 L146.6,115.85" stroke="#ee2222" stroke-width="0.9" fill="none"/>
<path d="M25.1,117.29 L25.6,117.27 L26.1,117.26 L26.6,117.24 L27.1,117.23 L27.6,117.21 L28.1,117.19 L28.6,117.17 L29.1,117.15 L29.6,117.12 L30.1,117.09 L30.6,117.06 L31.1,117.03 L31.6,116.99 L32.1,116.96 L32.6,116.91 L33.1,116.87 L33.6,116.82 L34.1,116.76 L34.6,116.7 L35.1,116.64 L35.6,116.56 L36.1,116.49 L36.6,116.4 L37.1,116.31 L37.6,116.21 L38.1,116.1 L38.6,115.98 L39.1,115.86 L39.6,115.72 L40.1,115.57 L40.6,115.41 L41.1,115.24 L41.6,115.06 L42.1,114.86 L42.6,114.65 L43.1,114.42 L43.6,114.18 L44.1,113.92 L44.6,113.64 L45.1,113.35 L45.6,113.04 L46.1,112.71 L46.6,112.36 L47.1,111.99 L47.6,111.6 L48.1,111.19 L48.6,110.75 L49.1,110.3 L49.6,109.83 L50.1,109.33 L50.6,108.81 L51.1,108.27 L51.6,107.7 L52.1,107.12 L52.6,106.51 L53.1,105.88 L53.6,105.23 L54.1,104.56 L54.6,103.87 L55.1,103.16 L55.6,102.43 L56.1,101.68 L56.6,100.91 L57.1,100.13 L57.6,99.34 L58.1,98.53 L58.6,97.7 L59.1,96.87 L59.6,96.02 L60.1,95.17 L60.6,94.31 L61.1,93.45 L61.6,92.58 L62.1,91.7 L62.6,90.83 L63.1,89.96 L63.6,89.09 L64.1,88.23 L64.6,87.37 L65.1,86.52 L65.6,85.68 L66.1,84.85 L66.6,84.04 L67.1,83.23 L67.6,82.45 L68.1,81.68 L68.6,80.94 L69.1,80.21 L69.6,79.5 L70.1,78.83 L70.6,78.17 L71.1,77.54 L71.6,76.94 L72.1,76.37 L72.6,75.83 L73.1,75.33 L73.6,74.85 L74.1,74.41 L74.6,74.01 L75.1,73.64 L75.6,73.31 L76.1,73.01 L76.6,72.76 L77.1,72.54 L77.6,72.36 L78.1,72.23 L78.6,72.13 L79.1,72.08 L79.6,72.07 L80.1,72.1 L80.6,72.18 L81.1,72.29 L81.6,72.45 L82.1,72.65 L82.6,72.9 L83.1,73.18 L83.6,73.51 L84.1,73.88 L84.6,74.28 L85.1,74.73 L85.6,75.21 L86.1,75.74 L86.6,76.29 L87.1,76.88 L87.6,77.51 L88.1,78.16 L88.6,78.85 L89.1,79.56 L89.6,80.3 L90.1,81.06 L90.6,81.85 L91.1,82.65 L91.6,83.48 L92.1,84.31 L92.6,85.16 L93.1,86.02 L93.6,86.89 L94.1,87.77 L94.6,88.65 L95.1,89.53 L95.6,90.41 L96.1,91.29 L96.6,92.16 L97.1,93.02 L97.6,93.88 L98.1,94.73 L98.6,95.56 L99.1,96.38 L99.6,97.18 L100.1,97.97 L100.6,98.74 L101.1,99.49 L101.6,100.22 L102.1,100.93 L102.6,101.62 L103.1,102.28 L103.6,102.92 L104.1,103.54 L104.6,104.14 L105.1,104.71 L105.6,105.26 L106.1,105.79 L106.6,106.29 L107.1,106.77 L107.6,107.23 L108.1,107.66 L108.6,108.08 L109.1,108.47 L109.6,108.85 L110.1,109.2 L110.6,109.54 L111.1,109.86 L111.6,110.16 L112.1,110.44 L112.6,110.71 L113.1,110.96 L113.6,111.2 L114.1,111.43 L114.6,111.64 L115.1,111.84 L115.6,112.03 L116.1,112.21 L116.6,112.38 L117.1,112.54 L117.6,112.69 L118.1,112.83 L118.6,112.97 L119.1,113.09 L119.6,113.22 L120.1,113.33 L120.6,113.44 L121.1,113.54 L121.6,113.64 L122.1,113.74 L122.6,113.83 L123.1,113.91 L123.6,114 L124.1,114.08 L124.6,114.15 L125.1,114.22 L125.6,114.29 L126.1,114.36 L126.6,114.42 L127.1,114.48 L127.6,114.54 L128.1,114.6 L128.6,114.66 L129.1,114.71 L129.6,114.76 L130.1,114.81 L130.6,114.85 L131.1,114.9 L131.6,114.94 L132.1,114.98 L132.6,115.02 L133.1,115.06 L133.6,115.1 L134.1,115.13 L134.6,115.17 L135.1,115.2 L135.6,115.23 L136.1,115.26 L136.6,115.29 L137.1,115.32 L137.6,115.34 L138.1,115.37 L138.6,115.39 L139.1,115.41 L139.6,115.43 L140.1,115.45 L140.6,115.47 L141.1,115.49 L141.6,115.51 L142.1,115.52 L142.6,115.54 L143.1,115.55 L143.6,115.57 L144.1,115.58 L144.6,115.59 L145.1,115.6 L145.6,115.61 L146.1,115.62 L146.6,115.63" stroke="#1a1a1a" stroke-width="0.9" fill="none"/>
<circle cx="29.2" cy="115.5" r="1.4" fill="#ddd" stroke="#111" stroke-width="1.05"/>
<circle cx="36.23" cy="113.7" r="1.4" fill="#ddd" stroke="#111" stroke-width="1.05"/>
<circle cx="43.26" cy="111.5" r="1.4" fill="#ddd" stroke="#111" stroke-width="1.05"/>
<circle cx="50.29" cy="109.5" r="1.4" fill="#ddd" stroke="#111" stroke-width="1.05"/>
<circle cx="57.32" cy="101.75" r="1.4" fill="#ddd" stroke="#111" stroke-width="1.05"/>
<circle cx="64.35" cy="89.8" r="1.4" fill="#ddd" stroke="#111" stroke-width="1.05"/>
<circle cx="71.38" cy="77" r="1.4" fill="#ddd" stroke="#111" stroke-width="1.05"/>
<circle cx="78.41" cy="71.5" r="1.4" fill="#ddd" stroke="#111" stroke-width="1.05"/>
<circle cx="85.44" cy="74.25" r="1.4" fill="#ddd" stroke="#111" stroke-width="1.05"/>
<circle cx="92.47" cy="86.2" r="1.4" fill="#ddd" stroke="#111" stroke-width="1.05"/>
<circle cx="99.5" cy="97.2" r="1.4" fill="#ddd" stroke="#111" stroke-width="1.05"/>
<circle cx="106.53" cy="104.5" r="1.4" fill="#ddd" stroke="#111" stroke-width="1.05"/>
<circle cx="113.56" cy="110.4" r="1.4" fill="#ddd" stroke="#111" stroke-width="1.05"/>
<circle cx="120.59" cy="113.3" r="1.4" fill="#ddd" stroke="#111" stroke-width="1.05"/>
<circle cx="127.62" cy="114.6" r="1.4" fill="#ddd" stroke="#111" stroke-width="1.05"/>
<circle cx="134.65" cy="115.5" r="1.4" fill="#ddd" stroke="#111" stroke-width="1.05"/>
<circle cx="141.68" cy="115.9" r="1.4" fill="#ddd" stroke="#111" stroke-width="1.05"/>
<text x="105.8" y="79.4" class="lb">2.9 at.%</text>
<path d="M25.1,180.13 L25.6,180.12 L26.1,180.1 L26.6,180.09 L27.1,180.07 L27.6,180.06 L28.1,180.05 L28.6,180.03 L29.1,180.02 L29.6,180 L30.1,179.99 L30.6,179.97 L31.1,179.96 L31.6,179.94 L32.1,179.92 L32.6,179.91 L33.1,179.89 L33.6,179.88 L34.1,179.86 L34.6,179.84 L35.1,179.83 L35.6,179.81 L36.1,179.79 L36.6,179.78 L37.1,179.76 L37.6,179.74 L38.1,179.72 L38.6,179.71 L39.1,179.69 L39.6,179.67 L40.1,179.65 L40.6,179.63 L41.1,179.61 L41.6,179.59 L42.1,179.57 L42.6,179.55 L43.1,179.52 L43.6,179.5 L44.1,179.48 L44.6,179.45 L45.1,179.43 L45.6,179.4 L46.1,179.38 L46.6,179.35 L47.1,179.32 L47.6,179.29 L48.1,179.26 L48.6,179.23 L49.1,179.2 L49.6,179.17 L50.1,179.13 L50.6,179.1 L51.1,179.06 L51.6,179.02 L52.1,178.98 L52.6,178.94 L53.1,178.9 L53.6,178.86 L54.1,178.81 L54.6,178.77 L55.1,178.72 L55.6,178.67 L56.1,178.62 L56.6,178.57 L57.1,178.51 L57.6,178.46 L58.1,178.4 L58.6,178.34 L59.1,178.27 L59.6,178.21 L60.1,178.14 L60.6,178.07 L61.1,178 L61.6,177.93 L62.1,177.85 L62.6,177.77 L63.1,177.69 L63.6,177.61 L64.1,177.53 L64.6,177.44 L65.1,177.35 L65.6,177.26 L66.1,177.17 L66.6,177.07 L67.1,176.97 L67.6,176.87 L68.1,176.77 L68.6,176.66 L69.1,176.56 L69.6,176.45 L70.1,176.34 L70.6,176.22 L71.1,176.11 L71.6,175.99 L72.1,175.88 L72.6,175.76 L73.1,175.63 L73.6,175.51 L74.1,175.39 L74.6,175.26 L75.1,175.14 L75.6,175.01 L76.1,174.88 L76.6,174.75 L77.1,174.62 L77.6,174.49 L78.1,174.36 L78.6,174.23 L79.1,174.1 L79.6,173.97 L80.1,173.84 L80.6,173.72 L81.1,173.59 L81.6,173.46 L82.1,173.34 L82.6,173.21 L83.1,173.09 L83.6,172.97 L84.1,172.85 L84.6,172.74 L85.1,172.62 L85.6,172.51 L86.1,172.4 L86.6,172.3 L87.1,172.2 L87.6,172.1 L88.1,172 L88.6,171.91 L89.1,171.82 L89.6,171.74 L90.1,171.66 L90.6,171.58 L91.1,171.51 L91.6,171.44 L92.1,171.38 L92.6,171.32 L93.1,171.27 L93.6,171.22 L94.1,171.18 L94.6,171.14 L95.1,171.1 L95.6,171.08 L96.1,171.05 L96.6,171.03 L97.1,171.02 L97.6,171.01 L98.1,171.01 L98.6,171.01 L99.1,171.02 L99.6,171.03 L100.1,171.05 L100.6,171.07 L101.1,171.1 L101.6,171.13 L102.1,171.17 L102.6,171.21 L103.1,171.25 L103.6,171.3 L104.1,171.36 L104.6,171.41 L105.1,171.48 L105.6,171.54 L106.1,171.61 L106.6,171.68 L107.1,171.76 L107.6,171.84 L108.1,171.92 L108.6,172 L109.1,172.09 L109.6,172.18 L110.1,172.27 L110.6,172.36 L111.1,172.46 L111.6,172.55 L112.1,172.65 L112.6,172.75 L113.1,172.85 L113.6,172.95 L114.1,173.05 L114.6,173.15 L115.1,173.25 L115.6,173.36 L116.1,173.46 L116.6,173.56 L117.1,173.66 L117.6,173.76 L118.1,173.86 L118.6,173.96 L119.1,174.06 L119.6,174.15 L120.1,174.25 L120.6,174.34 L121.1,174.44 L121.6,174.53 L122.1,174.62 L122.6,174.71 L123.1,174.79 L123.6,174.88 L124.1,174.96 L124.6,175.04 L125.1,175.12 L125.6,175.19 L126.1,175.27 L126.6,175.34 L127.1,175.41 L127.6,175.48 L128.1,175.54 L128.6,175.6 L129.1,175.66 L129.6,175.72 L130.1,175.78 L130.6,175.83 L131.1,175.88 L131.6,175.93 L132.1,175.98 L132.6,176.02 L133.1,176.06 L133.6,176.1 L134.1,176.14 L134.6,176.18 L135.1,176.21 L135.6,176.24 L136.1,176.27 L136.6,176.3 L137.1,176.33 L137.6,176.35 L138.1,176.37 L138.6,176.4 L139.1,176.41 L139.6,176.43 L140.1,176.45 L140.6,176.46 L141.1,176.48 L141.6,176.49 L142.1,176.5 L142.6,176.51 L143.1,176.52 L143.6,176.52 L144.1,176.53 L144.6,176.53 L145.1,176.54 L145.6,176.54 L146.1,176.54 L146.6,176.54" stroke="#33dd33" stroke-width="0.9" fill="none"/>
<path d="M25.1,180.14 L25.6,180.12 L26.1,180.11 L26.6,180.09 L27.1,180.08 L27.6,180.06 L28.1,180.05 L28.6,180.03 L29.1,180.02 L29.6,180.01 L30.1,179.99 L30.6,179.98 L31.1,179.96 L31.6,179.95 L32.1,179.93 L32.6,179.91 L33.1,179.9 L33.6,179.88 L34.1,179.87 L34.6,179.85 L35.1,179.83 L35.6,179.81 L36.1,179.8 L36.6,179.78 L37.1,179.76 L37.6,179.74 L38.1,179.72 L38.6,179.7 L39.1,179.67 L39.6,179.65 L40.1,179.63 L40.6,179.6 L41.1,179.58 L41.6,179.55 L42.1,179.52 L42.6,179.49 L43.1,179.45 L43.6,179.42 L44.1,179.38 L44.6,179.34 L45.1,179.3 L45.6,179.25 L46.1,179.2 L46.6,179.15 L47.1,179.1 L47.6,179.04 L48.1,178.98 L48.6,178.91 L49.1,178.84 L49.6,178.76 L50.1,178.67 L50.6,178.59 L51.1,178.49 L51.6,178.39 L52.1,178.28 L52.6,178.16 L53.1,178.04 L53.6,177.91 L54.1,177.77 L54.6,177.62 L55.1,177.46 L55.6,177.29 L56.1,177.11 L56.6,176.92 L57.1,176.72 L57.6,176.51 L58.1,176.28 L58.6,176.04 L59.1,175.79 L59.6,175.53 L60.1,175.25 L60.6,174.96 L61.1,174.66 L61.6,174.34 L62.1,174.01 L62.6,173.66 L63.1,173.3 L63.6,172.93 L64.1,172.54 L64.6,172.14 L65.1,171.72 L65.6,171.29 L66.1,170.84 L66.6,170.39 L67.1,169.92 L67.6,169.43 L68.1,168.94 L68.6,168.43 L69.1,167.92 L69.6,167.39 L70.1,166.86 L70.6,166.32 L71.1,165.77 L71.6,165.22 L72.1,164.66 L72.6,164.11 L73.1,163.54 L73.6,162.98 L74.1,162.42 L74.6,161.87 L75.1,161.31 L75.6,160.77 L76.1,160.22 L76.6,159.69 L77.1,159.17 L77.6,158.66 L78.1,158.17 L78.6,157.69 L79.1,157.22 L79.6,156.78 L80.1,156.35 L80.6,155.94 L81.1,155.56 L81.6,155.2 L82.1,154.87 L82.6,154.56 L83.1,154.28 L83.6,154.02 L84.1,153.8 L84.6,153.6 L85.1,153.44 L85.6,153.31 L86.1,153.21 L86.6,153.14 L87.1,153.1 L87.6,153.1 L88.1,153.12 L88.6,153.18 L89.1,153.27 L89.6,153.39 L90.1,153.55 L90.6,153.73 L91.1,153.94 L91.6,154.18 L92.1,154.45 L92.6,154.75 L93.1,155.07 L93.6,155.41 L94.1,155.78 L94.6,156.17 L95.1,156.58 L95.6,157.01 L96.1,157.45 L96.6,157.92 L97.1,158.39 L97.6,158.88 L98.1,159.38 L98.6,159.89 L99.1,160.4 L99.6,160.93 L100.1,161.45 L100.6,161.99 L101.1,162.52 L101.6,163.05 L102.1,163.58 L102.6,164.11 L103.1,164.64 L103.6,165.16 L104.1,165.68 L104.6,166.18 L105.1,166.68 L105.6,167.18 L106.1,167.66 L106.6,168.13 L107.1,168.59 L107.6,169.04 L108.1,169.47 L108.6,169.9 L109.1,170.3 L109.6,170.7 L110.1,171.08 L110.6,171.45 L111.1,171.8 L111.6,172.14 L112.1,172.47 L112.6,172.78 L113.1,173.07 L113.6,173.35 L114.1,173.62 L114.6,173.88 L115.1,174.12 L115.6,174.34 L116.1,174.56 L116.6,174.76 L117.1,174.95 L117.6,175.13 L118.1,175.3 L118.6,175.45 L119.1,175.6 L119.6,175.74 L120.1,175.86 L120.6,175.98 L121.1,176.09 L121.6,176.18 L122.1,176.28 L122.6,176.36 L123.1,176.44 L123.6,176.51 L124.1,176.57 L124.6,176.63 L125.1,176.68 L125.6,176.73 L126.1,176.77 L126.6,176.81 L127.1,176.84 L127.6,176.87 L128.1,176.89 L128.6,176.91 L129.1,176.93 L129.6,176.95 L130.1,176.96 L130.6,176.97 L131.1,176.98 L131.6,176.99 L132.1,176.99 L132.6,176.99 L133.1,176.99 L133.6,176.99 L134.1,176.99 L134.6,176.99 L135.1,176.98 L135.6,176.98 L136.1,176.97 L136.6,176.96 L137.1,176.96 L137.6,176.95 L138.1,176.94 L138.6,176.93 L139.1,176.92 L139.6,176.91 L140.1,176.9 L140.6,176.88 L141.1,176.87 L141.6,176.86 L142.1,176.85 L142.6,176.84 L143.1,176.82 L143.6,176.81 L144.1,176.8 L144.6,176.79 L145.1,176.77 L145.6,176.76 L146.1,176.75 L146.6,176.73" stroke="#2a2af0" stroke-width="0.9" fill="none"/>
<path d="M25.1,180.09 L25.6,180.07 L26.1,180.04 L26.6,180.02 L27.1,180 L27.6,179.97 L28.1,179.94 L28.6,179.91 L29.1,179.88 L29.6,179.85 L30.1,179.82 L30.6,179.78 L31.1,179.74 L31.6,179.69 L32.1,179.65 L32.6,179.6 L33.1,179.54 L33.6,179.48 L34.1,179.42 L34.6,179.35 L35.1,179.28 L35.6,179.2 L36.1,179.11 L36.6,179.02 L37.1,178.92 L37.6,178.81 L38.1,178.69 L38.6,178.57 L39.1,178.43 L39.6,178.29 L40.1,178.13 L40.6,177.96 L41.1,177.78 L41.6,177.59 L42.1,177.38 L42.6,177.17 L43.1,176.93 L43.6,176.68 L44.1,176.42 L44.6,176.14 L45.1,175.85 L45.6,175.53 L46.1,175.2 L46.6,174.86 L47.1,174.49 L47.6,174.11 L48.1,173.71 L48.6,173.29 L49.1,172.85 L49.6,172.39 L50.1,171.92 L50.6,171.43 L51.1,170.92 L51.6,170.39 L52.1,169.85 L52.6,169.3 L53.1,168.72 L53.6,168.14 L54.1,167.54 L54.6,166.93 L55.1,166.31 L55.6,165.68 L56.1,165.05 L56.6,164.41 L57.1,163.77 L57.6,163.12 L58.1,162.47 L58.6,161.83 L59.1,161.19 L59.6,160.56 L60.1,159.93 L60.6,159.32 L61.1,158.71 L61.6,158.13 L62.1,157.56 L62.6,157 L63.1,156.48 L63.6,155.97 L64.1,155.49 L64.6,155.04 L65.1,154.61 L65.6,154.22 L66.1,153.86 L66.6,153.54 L67.1,153.25 L67.6,153 L68.1,152.78 L68.6,152.61 L69.1,152.47 L69.6,152.38 L70.1,152.32 L70.6,152.31 L71.1,152.34 L71.6,152.4 L72.1,152.51 L72.6,152.66 L73.1,152.85 L73.6,153.07 L74.1,153.34 L74.6,153.63 L75.1,153.97 L75.6,154.33 L76.1,154.73 L76.6,155.15 L77.1,155.61 L77.6,156.09 L78.1,156.59 L78.6,157.11 L79.1,157.65 L79.6,158.21 L80.1,158.79 L80.6,159.38 L81.1,159.97 L81.6,160.58 L82.1,161.19 L82.6,161.81 L83.1,162.43 L83.6,163.04 L84.1,163.66 L84.6,164.27 L85.1,164.88 L85.6,165.48 L86.1,166.07 L86.6,166.65 L87.1,167.22 L87.6,167.78 L88.1,168.32 L88.6,168.85 L89.1,169.36 L89.6,169.86 L90.1,170.34 L90.6,170.8 L91.1,171.25 L91.6,171.67 L92.1,172.08 L92.6,172.47 L93.1,172.85 L93.6,173.2 L94.1,173.54 L94.6,173.86 L95.1,174.16 L95.6,174.44 L96.1,174.71 L96.6,174.96 L97.1,175.19 L97.6,175.41 L98.1,175.62 L98.6,175.81 L99.1,175.99 L99.6,176.15 L100.1,176.3 L100.6,176.44 L101.1,176.57 L101.6,176.69 L102.1,176.79 L102.6,176.89 L103.1,176.98 L103.6,177.06 L104.1,177.13 L104.6,177.2 L105.1,177.25 L105.6,177.31 L106.1,177.35 L106.6,177.39 L107.1,177.43 L107.6,177.46 L108.1,177.48 L108.6,177.51 L109.1,177.53 L109.6,177.54 L110.1,177.55 L110.6,177.56 L111.1,177.57 L111.6,177.57 L112.1,177.58 L112.6,177.58 L113.1,177.58 L113.6,177.58 L114.1,177.57 L114.6,177.57 L115.1,177.56 L115.6,177.55 L116.1,177.55 L116.6,177.54 L117.1,177.53 L117.6,177.52 L118.1,177.51 L118.6,177.5 L119.1,177.49 L119.6,177.48 L120.1,177.46 L120.6,177.45 L121.1,177.44 L121.6,177.43 L122.1,177.41 L122.6,177.4 L123.1,177.39 L123.6,177.37 L124.1,177.36 L124.6,177.35 L125.1,177.33 L125.6,177.32 L126.1,177.31 L126.6,177.29 L127.1,177.28 L127.6,177.27 L128.1,177.25 L128.6,177.24 L129.1,177.22 L129.6,177.21 L130.1,177.2 L130.6,177.18 L131.1,177.17 L131.6,177.15 L132.1,177.14 L132.6,177.13 L133.1,177.11 L133.6,177.1 L134.1,177.08 L134.6,177.07 L135.1,177.06 L135.6,177.04 L136.1,177.03 L136.6,177.01 L137.1,177 L137.6,176.99 L138.1,176.97 L138.6,176.96 L139.1,176.94 L139.6,176.93 L140.1,176.92 L140.6,176.9 L141.1,176.89 L141.6,176.87 L142.1,176.86 L142.6,176.85 L143.1,176.83 L143.6,176.82 L144.1,176.8 L144.6,176.79 L145.1,176.78 L145.6,176.76 L146.1,176.75 L146.6,176.73" stroke="#ee2222" stroke-width="0.9" fill="none"/>
<path d="M25.1,180.08 L25.6,180.06 L26.1,180.04 L26.6,180.01 L27.1,179.99 L27.6,179.96 L28.1,179.93 L28.6,179.9 L29.1,179.87 L29.6,179.84 L30.1,179.8 L30.6,179.76 L31.1,179.72 L31.6,179.67 L32.1,179.62 L32.6,179.57 L33.1,179.51 L33.6,179.44 L34.1,179.38 L34.6,179.3 L35.1,179.22 L35.6,179.14 L36.1,179.04 L36.6,178.94 L37.1,178.83 L37.6,178.72 L38.1,178.59 L38.6,178.45 L39.1,178.3 L39.6,178.14 L40.1,177.97 L40.6,177.79 L41.1,177.59 L41.6,177.38 L42.1,177.15 L42.6,176.9 L43.1,176.64 L43.6,176.37 L44.1,176.07 L44.6,175.75 L45.1,175.42 L45.6,175.06 L46.1,174.69 L46.6,174.29 L47.1,173.87 L47.6,173.43 L48.1,172.96 L48.6,172.47 L49.1,171.95 L49.6,171.42 L50.1,170.85 L50.6,170.27 L51.1,169.65 L51.6,169.02 L52.1,168.36 L52.6,167.67 L53.1,166.96 L53.6,166.23 L54.1,165.47 L54.6,164.7 L55.1,163.9 L55.6,163.08 L56.1,162.24 L56.6,161.39 L57.1,160.51 L57.6,159.63 L58.1,158.73 L58.6,157.81 L59.1,156.89 L59.6,155.95 L60.1,155.01 L60.6,154.07 L61.1,153.12 L61.6,152.17 L62.1,151.22 L62.6,150.27 L63.1,149.33 L63.6,148.39 L64.1,147.47 L64.6,146.55 L65.1,145.65 L65.6,144.76 L66.1,143.89 L66.6,143.04 L67.1,142.21 L67.6,141.41 L68.1,140.62 L68.6,139.87 L69.1,139.14 L69.6,138.44 L70.1,137.77 L70.6,137.13 L71.1,136.52 L71.6,135.95 L72.1,135.41 L72.6,134.91 L73.1,134.44 L73.6,134.01 L74.1,133.62 L74.6,133.26 L75.1,132.94 L75.6,132.66 L76.1,132.41 L76.6,132.21 L77.1,132.04 L77.6,131.91 L78.1,131.81 L78.6,131.75 L79.1,131.73 L79.6,131.74 L80.1,131.79 L80.6,131.87 L81.1,131.99 L81.6,132.13 L82.1,132.31 L82.6,132.53 L83.1,132.77 L83.6,133.04 L84.1,133.34 L84.6,133.67 L85.1,134.03 L85.6,134.41 L86.1,134.82 L86.6,135.26 L87.1,135.71 L87.6,136.19 L88.1,136.7 L88.6,137.22 L89.1,137.76 L89.6,138.33 L90.1,138.91 L90.6,139.51 L91.1,140.12 L91.6,140.75 L92.1,141.39 L92.6,142.05 L93.1,142.72 L93.6,143.39 L94.1,144.08 L94.6,144.78 L95.1,145.49 L95.6,146.2 L96.1,146.92 L96.6,147.64 L97.1,148.36 L97.6,149.09 L98.1,149.82 L98.6,150.55 L99.1,151.28 L99.6,152.01 L100.1,152.73 L100.6,153.45 L101.1,154.17 L101.6,154.88 L102.1,155.58 L102.6,156.28 L103.1,156.97 L103.6,157.64 L104.1,158.31 L104.6,158.97 L105.1,159.62 L105.6,160.26 L106.1,160.88 L106.6,161.49 L107.1,162.09 L107.6,162.68 L108.1,163.25 L108.6,163.81 L109.1,164.35 L109.6,164.88 L110.1,165.39 L110.6,165.89 L111.1,166.37 L111.6,166.84 L112.1,167.29 L112.6,167.73 L113.1,168.15 L113.6,168.56 L114.1,168.95 L114.6,169.33 L115.1,169.7 L115.6,170.05 L116.1,170.39 L116.6,170.71 L117.1,171.02 L117.6,171.32 L118.1,171.6 L118.6,171.87 L119.1,172.13 L119.6,172.38 L120.1,172.62 L120.6,172.85 L121.1,173.06 L121.6,173.27 L122.1,173.47 L122.6,173.65 L123.1,173.83 L123.6,174 L124.1,174.16 L124.6,174.31 L125.1,174.46 L125.6,174.59 L126.1,174.72 L126.6,174.85 L127.1,174.96 L127.6,175.07 L128.1,175.18 L128.6,175.28 L129.1,175.37 L129.6,175.46 L130.1,175.54 L130.6,175.62 L131.1,175.69 L131.6,175.76 L132.1,175.83 L132.6,175.89 L133.1,175.94 L133.6,176 L134.1,176.05 L134.6,176.09 L135.1,176.14 L135.6,176.18 L136.1,176.22 L136.6,176.25 L137.1,176.28 L137.6,176.31 L138.1,176.34 L138.6,176.37 L139.1,176.39 L139.6,176.41 L140.1,176.43 L140.6,176.45 L141.1,176.46 L141.6,176.47 L142.1,176.49 L142.6,176.5 L143.1,176.51 L143.6,176.51 L144.1,176.52 L144.6,176.53 L145.1,176.53 L145.6,176.53 L146.1,176.54 L146.6,176.54" stroke="#1a1a1a" stroke-width="0.9" fill="none"/>
<circle cx="29.2" cy="178.5" r="1.4" fill="#ddd" stroke="#111" stroke-width="1.05"/>
<circle cx="36.23" cy="177.8" r="1.4" fill="#ddd" stroke="#111" stroke-width="1.05"/>
<circle cx="43.26" cy="175" r="1.4" fill="#ddd" stroke="#111" stroke-width="1.05"/>
<circle cx="50.29" cy="171.75" r="1.4" fill="#ddd" stroke="#111" stroke-width="1.05"/>
<circle cx="57.32" cy="161.7" r="1.4" fill="#ddd" stroke="#111" stroke-width="1.05"/>
<circle cx="64.35" cy="147.9" r="1.4" fill="#ddd" stroke="#111" stroke-width="1.05"/>
<circle cx="71.38" cy="135.45" r="1.4" fill="#ddd" stroke="#111" stroke-width="1.05"/>
<circle cx="78.41" cy="130.5" r="1.4" fill="#ddd" stroke="#111" stroke-width="1.05"/>
<circle cx="85.44" cy="133.8" r="1.4" fill="#ddd" stroke="#111" stroke-width="1.05"/>
<circle cx="92.47" cy="143.7" r="1.4" fill="#ddd" stroke="#111" stroke-width="1.05"/>
<circle cx="99.5" cy="152.5" r="1.4" fill="#ddd" stroke="#111" stroke-width="1.05"/>
<circle cx="106.53" cy="162.2" r="1.4" fill="#ddd" stroke="#111" stroke-width="1.05"/>
<circle cx="113.56" cy="168.45" r="1.4" fill="#ddd" stroke="#111" stroke-width="1.05"/>
<circle cx="120.59" cy="173" r="1.4" fill="#ddd" stroke="#111" stroke-width="1.05"/>
<circle cx="127.62" cy="174.5" r="1.4" fill="#ddd" stroke="#111" stroke-width="1.05"/>
<circle cx="134.65" cy="177.25" r="1.4" fill="#ddd" stroke="#111" stroke-width="1.05"/>
<circle cx="141.68" cy="176" r="1.4" fill="#ddd" stroke="#111" stroke-width="1.05"/>
<text x="104.2" y="136.9" class="lb">2.7 at.%</text>
<path d="M25.1,235.84 L25.6,235.84 L26.1,235.83 L26.6,235.82 L27.1,235.81 L27.6,235.81 L28.1,235.8 L28.6,235.79 L29.1,235.79 L29.6,235.78 L30.1,235.77 L30.6,235.77 L31.1,235.76 L31.6,235.75 L32.1,235.74 L32.6,235.74 L33.1,235.73 L33.6,235.72 L34.1,235.71 L34.6,235.7 L35.1,235.7 L35.6,235.69 L36.1,235.68 L36.6,235.67 L37.1,235.66 L37.6,235.65 L38.1,235.64 L38.6,235.63 L39.1,235.62 L39.6,235.61 L40.1,235.6 L40.6,235.59 L41.1,235.58 L41.6,235.57 L42.1,235.56 L42.6,235.55 L43.1,235.53 L43.6,235.52 L44.1,235.51 L44.6,235.49 L45.1,235.48 L45.6,235.46 L46.1,235.45 L46.6,235.43 L47.1,235.41 L47.6,235.39 L48.1,235.37 L48.6,235.35 L49.1,235.33 L49.6,235.31 L50.1,235.29 L50.6,235.26 L51.1,235.24 L51.6,235.21 L52.1,235.18 L52.6,235.15 L53.1,235.12 L53.6,235.09 L54.1,235.06 L54.6,235.02 L55.1,234.99 L55.6,234.95 L56.1,234.91 L56.6,234.87 L57.1,234.83 L57.6,234.78 L58.1,234.73 L58.6,234.69 L59.1,234.63 L59.6,234.58 L60.1,234.53 L60.6,234.47 L61.1,234.41 L61.6,234.35 L62.1,234.28 L62.6,234.22 L63.1,234.15 L63.6,234.08 L64.1,234 L64.6,233.93 L65.1,233.85 L65.6,233.77 L66.1,233.68 L66.6,233.6 L67.1,233.51 L67.6,233.42 L68.1,233.32 L68.6,233.23 L69.1,233.13 L69.6,233.03 L70.1,232.92 L70.6,232.82 L71.1,232.71 L71.6,232.6 L72.1,232.49 L72.6,232.37 L73.1,232.25 L73.6,232.14 L74.1,232.02 L74.6,231.89 L75.1,231.77 L75.6,231.65 L76.1,231.52 L76.6,231.39 L77.1,231.27 L77.6,231.14 L78.1,231.01 L78.6,230.88 L79.1,230.75 L79.6,230.62 L80.1,230.49 L80.6,230.36 L81.1,230.23 L81.6,230.1 L82.1,229.97 L82.6,229.85 L83.1,229.72 L83.6,229.6 L84.1,229.48 L84.6,229.36 L85.1,229.24 L85.6,229.13 L86.1,229.01 L86.6,228.9 L87.1,228.8 L87.6,228.69 L88.1,228.59 L88.6,228.5 L89.1,228.41 L89.6,228.32 L90.1,228.23 L90.6,228.15 L91.1,228.08 L91.6,228.01 L92.1,227.94 L92.6,227.88 L93.1,227.83 L93.6,227.78 L94.1,227.73 L94.6,227.69 L95.1,227.66 L95.6,227.63 L96.1,227.61 L96.6,227.59 L97.1,227.58 L97.6,227.57 L98.1,227.57 L98.6,227.58 L99.1,227.59 L99.6,227.6 L100.1,227.63 L100.6,227.65 L101.1,227.69 L101.6,227.72 L102.1,227.77 L102.6,227.82 L103.1,227.87 L103.6,227.93 L104.1,227.99 L104.6,228.06 L105.1,228.13 L105.6,228.21 L106.1,228.29 L106.6,228.37 L107.1,228.46 L107.6,228.55 L108.1,228.64 L108.6,228.74 L109.1,228.84 L109.6,228.94 L110.1,229.05 L110.6,229.15 L111.1,229.26 L111.6,229.37 L112.1,229.48 L112.6,229.6 L113.1,229.71 L113.6,229.83 L114.1,229.94 L114.6,230.06 L115.1,230.18 L115.6,230.3 L116.1,230.41 L116.6,230.53 L117.1,230.65 L117.6,230.76 L118.1,230.88 L118.6,230.99 L119.1,231.1 L119.6,231.21 L120.1,231.33 L120.6,231.43 L121.1,231.54 L121.6,231.65 L122.1,231.75 L122.6,231.85 L123.1,231.95 L123.6,232.05 L124.1,232.14 L124.6,232.23 L125.1,232.33 L125.6,232.41 L126.1,232.5 L126.6,232.58 L127.1,232.66 L127.6,232.74 L128.1,232.82 L128.6,232.89 L129.1,232.96 L129.6,233.03 L130.1,233.09 L130.6,233.16 L131.1,233.22 L131.6,233.28 L132.1,233.33 L132.6,233.38 L133.1,233.44 L133.6,233.48 L134.1,233.53 L134.6,233.58 L135.1,233.62 L135.6,233.66 L136.1,233.69 L136.6,233.73 L137.1,233.76 L137.6,233.8 L138.1,233.83 L138.6,233.85 L139.1,233.88 L139.6,233.91 L140.1,233.93 L140.6,233.95 L141.1,233.97 L141.6,233.99 L142.1,234.01 L142.6,234.02 L143.1,234.04 L143.6,234.05 L144.1,234.06 L144.6,234.07 L145.1,234.08 L145.6,234.09 L146.1,234.1 L146.6,234.11" stroke="#33dd33" stroke-width="0.9" fill="none"/>
<path d="M25.1,235.79 L25.6,235.78 L26.1,235.77 L26.6,235.76 L27.1,235.74 L27.6,235.73 L28.1,235.71 L28.6,235.7 L29.1,235.68 L29.6,235.66 L30.1,235.65 L30.6,235.63 L31.1,235.61 L31.6,235.59 L32.1,235.56 L32.6,235.54 L33.1,235.51 L33.6,235.49 L34.1,235.46 L34.6,235.43 L35.1,235.4 L35.6,235.36 L36.1,235.33 L36.6,235.29 L37.1,235.25 L37.6,235.2 L38.1,235.16 L38.6,235.11 L39.1,235.06 L39.6,235 L40.1,234.95 L40.6,234.88 L41.1,234.82 L41.6,234.75 L42.1,234.68 L42.6,234.6 L43.1,234.52 L43.6,234.44 L44.1,234.34 L44.6,234.25 L45.1,234.15 L45.6,234.04 L46.1,233.93 L46.6,233.82 L47.1,233.69 L47.6,233.56 L48.1,233.43 L48.6,233.29 L49.1,233.14 L49.6,232.98 L50.1,232.82 L50.6,232.65 L51.1,232.47 L51.6,232.29 L52.1,232.1 L52.6,231.9 L53.1,231.69 L53.6,231.47 L54.1,231.25 L54.6,231.01 L55.1,230.77 L55.6,230.52 L56.1,230.26 L56.6,230 L57.1,229.72 L57.6,229.44 L58.1,229.14 L58.6,228.84 L59.1,228.53 L59.6,228.21 L60.1,227.89 L60.6,227.56 L61.1,227.21 L61.6,226.86 L62.1,226.51 L62.6,226.15 L63.1,225.78 L63.6,225.4 L64.1,225.02 L64.6,224.63 L65.1,224.24 L65.6,223.84 L66.1,223.44 L66.6,223.03 L67.1,222.62 L67.6,222.21 L68.1,221.79 L68.6,221.38 L69.1,220.96 L69.6,220.54 L70.1,220.13 L70.6,219.71 L71.1,219.3 L71.6,218.89 L72.1,218.48 L72.6,218.07 L73.1,217.67 L73.6,217.28 L74.1,216.89 L74.6,216.51 L75.1,216.13 L75.6,215.77 L76.1,215.41 L76.6,215.06 L77.1,214.73 L77.6,214.4 L78.1,214.09 L78.6,213.79 L79.1,213.5 L79.6,213.23 L80.1,212.97 L80.6,212.72 L81.1,212.49 L81.6,212.28 L82.1,212.08 L82.6,211.91 L83.1,211.74 L83.6,211.6 L84.1,211.47 L84.6,211.37 L85.1,211.28 L85.6,211.21 L86.1,211.16 L86.6,211.12 L87.1,211.11 L87.6,211.12 L88.1,211.14 L88.6,211.19 L89.1,211.25 L89.6,211.33 L90.1,211.43 L90.6,211.55 L91.1,211.69 L91.6,211.84 L92.1,212.02 L92.6,212.21 L93.1,212.41 L93.6,212.63 L94.1,212.87 L94.6,213.12 L95.1,213.39 L95.6,213.66 L96.1,213.96 L96.6,214.26 L97.1,214.58 L97.6,214.9 L98.1,215.24 L98.6,215.59 L99.1,215.95 L99.6,216.31 L100.1,216.68 L100.6,217.06 L101.1,217.44 L101.6,217.83 L102.1,218.22 L102.6,218.62 L103.1,219.02 L103.6,219.42 L104.1,219.83 L104.6,220.23 L105.1,220.63 L105.6,221.04 L106.1,221.44 L106.6,221.84 L107.1,222.24 L107.6,222.63 L108.1,223.03 L108.6,223.41 L109.1,223.8 L109.6,224.18 L110.1,224.55 L110.6,224.92 L111.1,225.28 L111.6,225.63 L112.1,225.98 L112.6,226.32 L113.1,226.66 L113.6,226.98 L114.1,227.3 L114.6,227.61 L115.1,227.91 L115.6,228.21 L116.1,228.49 L116.6,228.77 L117.1,229.04 L117.6,229.3 L118.1,229.55 L118.6,229.79 L119.1,230.03 L119.6,230.25 L120.1,230.47 L120.6,230.68 L121.1,230.88 L121.6,231.07 L122.1,231.26 L122.6,231.44 L123.1,231.61 L123.6,231.77 L124.1,231.92 L124.6,232.07 L125.1,232.21 L125.6,232.34 L126.1,232.47 L126.6,232.59 L127.1,232.7 L127.6,232.81 L128.1,232.91 L128.6,233.01 L129.1,233.1 L129.6,233.19 L130.1,233.27 L130.6,233.34 L131.1,233.41 L131.6,233.48 L132.1,233.54 L132.6,233.6 L133.1,233.66 L133.6,233.71 L134.1,233.75 L134.6,233.8 L135.1,233.84 L135.6,233.88 L136.1,233.91 L136.6,233.94 L137.1,233.97 L137.6,234 L138.1,234.02 L138.6,234.05 L139.1,234.07 L139.6,234.09 L140.1,234.1 L140.6,234.12 L141.1,234.13 L141.6,234.14 L142.1,234.15 L142.6,234.16 L143.1,234.17 L143.6,234.18 L144.1,234.18 L144.6,234.19 L145.1,234.19 L145.6,234.2 L146.1,234.2 L146.6,234.2" stroke="#2a2af0" stroke-width="0.9" fill="none"/>
<path d="M25.1,235.52 L25.6,235.49 L26.1,235.45 L26.6,235.4 L27.1,235.36 L27.6,235.31 L28.1,235.26 L28.6,235.2 L29.1,235.14 L29.6,235.08 L30.1,235.01 L30.6,234.94 L31.1,234.86 L31.6,234.78 L32.1,234.69 L32.6,234.6 L33.1,234.5 L33.6,234.4 L34.1,234.29 L34.6,234.17 L35.1,234.05 L35.6,233.92 L36.1,233.78 L36.6,233.63 L37.1,233.48 L37.6,233.32 L38.1,233.15 L38.6,232.97 L39.1,232.78 L39.6,232.59 L40.1,232.38 L40.6,232.17 L41.1,231.94 L41.6,231.71 L42.1,231.46 L42.6,231.21 L43.1,230.95 L43.6,230.68 L44.1,230.39 L44.6,230.1 L45.1,229.8 L45.6,229.49 L46.1,229.16 L46.6,228.83 L47.1,228.49 L47.6,228.14 L48.1,227.78 L48.6,227.42 L49.1,227.04 L49.6,226.66 L50.1,226.27 L50.6,225.87 L51.1,225.47 L51.6,225.06 L52.1,224.65 L52.6,224.23 L53.1,223.81 L53.6,223.39 L54.1,222.96 L54.6,222.53 L55.1,222.11 L55.6,221.68 L56.1,221.25 L56.6,220.83 L57.1,220.41 L57.6,219.99 L58.1,219.58 L58.6,219.17 L59.1,218.77 L59.6,218.38 L60.1,218 L60.6,217.62 L61.1,217.26 L61.6,216.91 L62.1,216.57 L62.6,216.25 L63.1,215.94 L63.6,215.64 L64.1,215.36 L64.6,215.1 L65.1,214.86 L65.6,214.63 L66.1,214.42 L66.6,214.24 L67.1,214.07 L67.6,213.92 L68.1,213.8 L68.6,213.69 L69.1,213.61 L69.6,213.55 L70.1,213.51 L70.6,213.49 L71.1,213.5 L71.6,213.53 L72.1,213.58 L72.6,213.65 L73.1,213.74 L73.6,213.86 L74.1,213.99 L74.6,214.15 L75.1,214.33 L75.6,214.52 L76.1,214.74 L76.6,214.97 L77.1,215.22 L77.6,215.49 L78.1,215.77 L78.6,216.07 L79.1,216.39 L79.6,216.71 L80.1,217.05 L80.6,217.4 L81.1,217.76 L81.6,218.13 L82.1,218.51 L82.6,218.9 L83.1,219.3 L83.6,219.7 L84.1,220.1 L84.6,220.51 L85.1,220.92 L85.6,221.34 L86.1,221.75 L86.6,222.17 L87.1,222.58 L87.6,222.99 L88.1,223.41 L88.6,223.81 L89.1,224.22 L89.6,224.62 L90.1,225.01 L90.6,225.4 L91.1,225.78 L91.6,226.16 L92.1,226.53 L92.6,226.89 L93.1,227.24 L93.6,227.59 L94.1,227.92 L94.6,228.25 L95.1,228.57 L95.6,228.87 L96.1,229.17 L96.6,229.46 L97.1,229.74 L97.6,230.01 L98.1,230.27 L98.6,230.52 L99.1,230.76 L99.6,230.99 L100.1,231.21 L100.6,231.42 L101.1,231.62 L101.6,231.81 L102.1,231.99 L102.6,232.16 L103.1,232.33 L103.6,232.48 L104.1,232.63 L104.6,232.77 L105.1,232.9 L105.6,233.03 L106.1,233.15 L106.6,233.26 L107.1,233.36 L107.6,233.46 L108.1,233.55 L108.6,233.63 L109.1,233.71 L109.6,233.79 L110.1,233.85 L110.6,233.92 L111.1,233.98 L111.6,234.03 L112.1,234.08 L112.6,234.13 L113.1,234.17 L113.6,234.21 L114.1,234.24 L114.6,234.28 L115.1,234.31 L115.6,234.33 L116.1,234.36 L116.6,234.38 L117.1,234.4 L117.6,234.42 L118.1,234.43 L118.6,234.45 L119.1,234.46 L119.6,234.47 L120.1,234.48 L120.6,234.48 L121.1,234.49 L121.6,234.5 L122.1,234.5 L122.6,234.5 L123.1,234.51 L123.6,234.51 L124.1,234.51 L124.6,234.51 L125.1,234.51 L125.6,234.51 L126.1,234.51 L126.6,234.5 L127.1,234.5 L127.6,234.5 L128.1,234.49 L128.6,234.49 L129.1,234.49 L129.6,234.48 L130.1,234.48 L130.6,234.47 L131.1,234.47 L131.6,234.46 L132.1,234.46 L132.6,234.45 L133.1,234.45 L133.6,234.44 L134.1,234.44 L134.6,234.43 L135.1,234.43 L135.6,234.42 L136.1,234.41 L136.6,234.41 L137.1,234.4 L137.6,234.4 L138.1,234.39 L138.6,234.38 L139.1,234.38 L139.6,234.37 L140.1,234.36 L140.6,234.36 L141.1,234.35 L141.6,234.35 L142.1,234.34 L142.6,234.33 L143.1,234.33 L143.6,234.32 L144.1,234.31 L144.6,234.31 L145.1,234.3 L145.6,234.29 L146.1,234.29 L146.6,234.28" stroke="#ee2222" stroke-width="0.9" fill="none"/>
<path d="M25.1,235.47 L25.6,235.43 L26.1,235.38 L26.6,235.33 L27.1,235.28 L27.6,235.22 L28.1,235.16 L28.6,235.1 L29.1,235.03 L29.6,234.95 L30.1,234.87 L30.6,234.78 L31.1,234.69 L31.6,234.59 L32.1,234.49 L32.6,234.38 L33.1,234.26 L33.6,234.14 L34.1,234 L34.6,233.86 L35.1,233.71 L35.6,233.55 L36.1,233.38 L36.6,233.2 L37.1,233.01 L37.6,232.81 L38.1,232.59 L38.6,232.37 L39.1,232.14 L39.6,231.89 L40.1,231.63 L40.6,231.35 L41.1,231.07 L41.6,230.77 L42.1,230.45 L42.6,230.12 L43.1,229.78 L43.6,229.42 L44.1,229.04 L44.6,228.66 L45.1,228.25 L45.6,227.83 L46.1,227.39 L46.6,226.94 L47.1,226.47 L47.6,225.99 L48.1,225.49 L48.6,224.97 L49.1,224.44 L49.6,223.9 L50.1,223.33 L50.6,222.76 L51.1,222.16 L51.6,221.56 L52.1,220.94 L52.6,220.3 L53.1,219.66 L53.6,219 L54.1,218.33 L54.6,217.64 L55.1,216.95 L55.6,216.25 L56.1,215.53 L56.6,214.81 L57.1,214.09 L57.6,213.35 L58.1,212.61 L58.6,211.87 L59.1,211.12 L59.6,210.37 L60.1,209.62 L60.6,208.87 L61.1,208.12 L61.6,207.37 L62.1,206.63 L62.6,205.88 L63.1,205.15 L63.6,204.42 L64.1,203.7 L64.6,202.98 L65.1,202.28 L65.6,201.59 L66.1,200.91 L66.6,200.24 L67.1,199.59 L67.6,198.95 L68.1,198.33 L68.6,197.73 L69.1,197.14 L69.6,196.57 L70.1,196.03 L70.6,195.5 L71.1,195 L71.6,194.52 L72.1,194.06 L72.6,193.63 L73.1,193.22 L73.6,192.83 L74.1,192.47 L74.6,192.14 L75.1,191.83 L75.6,191.55 L76.1,191.29 L76.6,191.06 L77.1,190.86 L77.6,190.69 L78.1,190.54 L78.6,190.42 L79.1,190.33 L79.6,190.27 L80.1,190.23 L80.6,190.22 L81.1,190.24 L81.6,190.28 L82.1,190.35 L82.6,190.44 L83.1,190.57 L83.6,190.71 L84.1,190.88 L84.6,191.08 L85.1,191.29 L85.6,191.54 L86.1,191.8 L86.6,192.09 L87.1,192.4 L87.6,192.72 L88.1,193.07 L88.6,193.44 L89.1,193.83 L89.6,194.24 L90.1,194.66 L90.6,195.1 L91.1,195.56 L91.6,196.03 L92.1,196.52 L92.6,197.02 L93.1,197.54 L93.6,198.07 L94.1,198.61 L94.6,199.16 L95.1,199.72 L95.6,200.29 L96.1,200.87 L96.6,201.46 L97.1,202.06 L97.6,202.66 L98.1,203.27 L98.6,203.89 L99.1,204.5 L99.6,205.13 L100.1,205.75 L100.6,206.38 L101.1,207.01 L101.6,207.64 L102.1,208.27 L102.6,208.91 L103.1,209.54 L103.6,210.16 L104.1,210.79 L104.6,211.42 L105.1,212.04 L105.6,212.65 L106.1,213.27 L106.6,213.87 L107.1,214.48 L107.6,215.07 L108.1,215.66 L108.6,216.24 L109.1,216.82 L109.6,217.39 L110.1,217.95 L110.6,218.5 L111.1,219.04 L111.6,219.57 L112.1,220.1 L112.6,220.61 L113.1,221.11 L113.6,221.61 L114.1,222.09 L114.6,222.56 L115.1,223.02 L115.6,223.48 L116.1,223.92 L116.6,224.34 L117.1,224.76 L117.6,225.17 L118.1,225.56 L118.6,225.95 L119.1,226.32 L119.6,226.68 L120.1,227.03 L120.6,227.37 L121.1,227.69 L121.6,228.01 L122.1,228.32 L122.6,228.61 L123.1,228.89 L123.6,229.17 L124.1,229.43 L124.6,229.68 L125.1,229.93 L125.6,230.16 L126.1,230.38 L126.6,230.6 L127.1,230.8 L127.6,231 L128.1,231.19 L128.6,231.36 L129.1,231.53 L129.6,231.7 L130.1,231.85 L130.6,232 L131.1,232.14 L131.6,232.27 L132.1,232.4 L132.6,232.52 L133.1,232.63 L133.6,232.74 L134.1,232.84 L134.6,232.93 L135.1,233.02 L135.6,233.11 L136.1,233.19 L136.6,233.26 L137.1,233.33 L137.6,233.4 L138.1,233.46 L138.6,233.51 L139.1,233.57 L139.6,233.62 L140.1,233.66 L140.6,233.71 L141.1,233.75 L141.6,233.79 L142.1,233.82 L142.6,233.85 L143.1,233.88 L143.6,233.91 L144.1,233.93 L144.6,233.96 L145.1,233.98 L145.6,233.99 L146.1,234.01 L146.6,234.03" stroke="#1a1a1a" stroke-width="0.9" fill="none"/>
<circle cx="29.2" cy="234.1" r="1.4" fill="#ddd" stroke="#111" stroke-width="1.05"/>
<circle cx="36.23" cy="233.6" r="1.4" fill="#ddd" stroke="#111" stroke-width="1.05"/>
<circle cx="43.26" cy="229.9" r="1.4" fill="#ddd" stroke="#111" stroke-width="1.05"/>
<circle cx="50.29" cy="222.2" r="1.4" fill="#ddd" stroke="#111" stroke-width="1.05"/>
<circle cx="57.32" cy="212.9" r="1.4" fill="#ddd" stroke="#111" stroke-width="1.05"/>
<circle cx="64.35" cy="204.6" r="1.4" fill="#ddd" stroke="#111" stroke-width="1.05"/>
<circle cx="71.38" cy="196" r="1.4" fill="#ddd" stroke="#111" stroke-width="1.05"/>
<circle cx="78.41" cy="191" r="1.4" fill="#ddd" stroke="#111" stroke-width="1.05"/>
<circle cx="85.44" cy="193.25" r="1.4" fill="#ddd" stroke="#111" stroke-width="1.05"/>
<circle cx="92.47" cy="198.75" r="1.4" fill="#ddd" stroke="#111" stroke-width="1.05"/>
<circle cx="99.5" cy="207.4" r="1.4" fill="#ddd" stroke="#111" stroke-width="1.05"/>
<circle cx="106.53" cy="216.5" r="1.4" fill="#ddd" stroke="#111" stroke-width="1.05"/>
<circle cx="113.56" cy="224.05" r="1.4" fill="#ddd" stroke="#111" stroke-width="1.05"/>
<circle cx="120.59" cy="229.4" r="1.4" fill="#ddd" stroke="#111" stroke-width="1.05"/>
<circle cx="127.62" cy="231.75" r="1.4" fill="#ddd" stroke="#111" stroke-width="1.05"/>
<circle cx="134.65" cy="232.7" r="1.4" fill="#ddd" stroke="#111" stroke-width="1.05"/>
<circle cx="141.68" cy="233.4" r="1.4" fill="#ddd" stroke="#111" stroke-width="1.05"/>
<text x="104.4" y="197.6" class="lb">2.0 at.%</text>
<path d="M25.1,292.67 L25.6,292.67 L26.1,292.67 L26.6,292.67 L27.1,292.66 L27.6,292.66 L28.1,292.66 L28.6,292.66 L29.1,292.66 L29.6,292.66 L30.1,292.66 L30.6,292.66 L31.1,292.65 L31.6,292.65 L32.1,292.65 L32.6,292.65 L33.1,292.65 L33.6,292.65 L34.1,292.65 L34.6,292.65 L35.1,292.64 L35.6,292.64 L36.1,292.64 L36.6,292.64 L37.1,292.64 L37.6,292.64 L38.1,292.63 L38.6,292.63 L39.1,292.63 L39.6,292.63 L40.1,292.63 L40.6,292.62 L41.1,292.62 L41.6,292.62 L42.1,292.62 L42.6,292.61 L43.1,292.61 L43.6,292.61 L44.1,292.6 L44.6,292.6 L45.1,292.6 L45.6,292.59 L46.1,292.59 L46.6,292.58 L47.1,292.58 L47.6,292.57 L48.1,292.56 L48.6,292.56 L49.1,292.55 L49.6,292.54 L50.1,292.53 L50.6,292.52 L51.1,292.51 L51.6,292.5 L52.1,292.49 L52.6,292.48 L53.1,292.46 L53.6,292.45 L54.1,292.43 L54.6,292.41 L55.1,292.39 L55.6,292.37 L56.1,292.35 L56.6,292.33 L57.1,292.3 L57.6,292.27 L58.1,292.24 L58.6,292.21 L59.1,292.18 L59.6,292.14 L60.1,292.1 L60.6,292.06 L61.1,292.02 L61.6,291.97 L62.1,291.92 L62.6,291.87 L63.1,291.81 L63.6,291.75 L64.1,291.68 L64.6,291.62 L65.1,291.55 L65.6,291.47 L66.1,291.39 L66.6,291.31 L67.1,291.22 L67.6,291.12 L68.1,291.03 L68.6,290.92 L69.1,290.81 L69.6,290.7 L70.1,290.58 L70.6,290.46 L71.1,290.33 L71.6,290.2 L72.1,290.06 L72.6,289.91 L73.1,289.76 L73.6,289.6 L74.1,289.44 L74.6,289.27 L75.1,289.09 L75.6,288.91 L76.1,288.73 L76.6,288.54 L77.1,288.34 L77.6,288.14 L78.1,287.93 L78.6,287.72 L79.1,287.5 L79.6,287.28 L80.1,287.05 L80.6,286.82 L81.1,286.59 L81.6,286.35 L82.1,286.11 L82.6,285.87 L83.1,285.62 L83.6,285.37 L84.1,285.12 L84.6,284.87 L85.1,284.62 L85.6,284.37 L86.1,284.11 L86.6,283.86 L87.1,283.61 L87.6,283.36 L88.1,283.11 L88.6,282.87 L89.1,282.62 L89.6,282.38 L90.1,282.15 L90.6,281.92 L91.1,281.7 L91.6,281.48 L92.1,281.27 L92.6,281.06 L93.1,280.86 L93.6,280.67 L94.1,280.49 L94.6,280.32 L95.1,280.15 L95.6,280 L96.1,279.86 L96.6,279.72 L97.1,279.6 L97.6,279.49 L98.1,279.39 L98.6,279.3 L99.1,279.23 L99.6,279.17 L100.1,279.12 L100.6,279.08 L101.1,279.05 L101.6,279.04 L102.1,279.04 L102.6,279.05 L103.1,279.08 L103.6,279.12 L104.1,279.17 L104.6,279.23 L105.1,279.31 L105.6,279.4 L106.1,279.5 L106.6,279.61 L107.1,279.73 L107.6,279.86 L108.1,280.01 L108.6,280.16 L109.1,280.32 L109.6,280.5 L110.1,280.68 L110.6,280.87 L111.1,281.06 L111.6,281.27 L112.1,281.48 L112.6,281.7 L113.1,281.92 L113.6,282.15 L114.1,282.38 L114.6,282.62 L115.1,282.86 L115.6,283.11 L116.1,283.35 L116.6,283.6 L117.1,283.85 L117.6,284.1 L118.1,284.35 L118.6,284.6 L119.1,284.85 L119.6,285.1 L120.1,285.35 L120.6,285.6 L121.1,285.84 L121.6,286.08 L122.1,286.32 L122.6,286.55 L123.1,286.78 L123.6,287.01 L124.1,287.23 L124.6,287.45 L125.1,287.67 L125.6,287.88 L126.1,288.08 L126.6,288.28 L127.1,288.47 L127.6,288.66 L128.1,288.84 L128.6,289.02 L129.1,289.19 L129.6,289.35 L130.1,289.51 L130.6,289.67 L131.1,289.82 L131.6,289.96 L132.1,290.1 L132.6,290.23 L133.1,290.35 L133.6,290.47 L134.1,290.59 L134.6,290.7 L135.1,290.8 L135.6,290.9 L136.1,291 L136.6,291.09 L137.1,291.17 L137.6,291.25 L138.1,291.33 L138.6,291.4 L139.1,291.47 L139.6,291.54 L140.1,291.6 L140.6,291.65 L141.1,291.71 L141.6,291.76 L142.1,291.81 L142.6,291.85 L143.1,291.89 L143.6,291.93 L144.1,291.97 L144.6,292 L145.1,292.03 L145.6,292.06 L146.1,292.09 L146.6,292.11" stroke="#33dd33" stroke-width="0.9" fill="none"/>
<path d="M25.1,292.53 L25.6,292.51 L26.1,292.5 L26.6,292.48 L27.1,292.47 L27.6,292.45 L28.1,292.43 L28.6,292.41 L29.1,292.39 L29.6,292.36 L30.1,292.34 L30.6,292.31 L31.1,292.28 L31.6,292.25 L32.1,292.22 L32.6,292.18 L33.1,292.14 L33.6,292.1 L34.1,292.06 L34.6,292.02 L35.1,291.97 L35.6,291.92 L36.1,291.87 L36.6,291.81 L37.1,291.75 L37.6,291.68 L38.1,291.62 L38.6,291.54 L39.1,291.47 L39.6,291.39 L40.1,291.3 L40.6,291.21 L41.1,291.12 L41.6,291.02 L42.1,290.92 L42.6,290.81 L43.1,290.7 L43.6,290.58 L44.1,290.45 L44.6,290.32 L45.1,290.18 L45.6,290.03 L46.1,289.88 L46.6,289.73 L47.1,289.56 L47.6,289.39 L48.1,289.21 L48.6,289.03 L49.1,288.83 L49.6,288.63 L50.1,288.42 L50.6,288.21 L51.1,287.98 L51.6,287.75 L52.1,287.51 L52.6,287.26 L53.1,287 L53.6,286.74 L54.1,286.47 L54.6,286.19 L55.1,285.9 L55.6,285.6 L56.1,285.3 L56.6,284.98 L57.1,284.66 L57.6,284.33 L58.1,284 L58.6,283.65 L59.1,283.3 L59.6,282.95 L60.1,282.58 L60.6,282.21 L61.1,281.83 L61.6,281.45 L62.1,281.06 L62.6,280.67 L63.1,280.27 L63.6,279.86 L64.1,279.46 L64.6,279.05 L65.1,278.63 L65.6,278.21 L66.1,277.79 L66.6,277.37 L67.1,276.95 L67.6,276.53 L68.1,276.11 L68.6,275.68 L69.1,275.26 L69.6,274.84 L70.1,274.43 L70.6,274.01 L71.1,273.6 L71.6,273.2 L72.1,272.79 L72.6,272.4 L73.1,272.01 L73.6,271.63 L74.1,271.25 L74.6,270.89 L75.1,270.53 L75.6,270.18 L76.1,269.85 L76.6,269.52 L77.1,269.2 L77.6,268.9 L78.1,268.61 L78.6,268.33 L79.1,268.07 L79.6,267.82 L80.1,267.59 L80.6,267.37 L81.1,267.16 L81.6,266.97 L82.1,266.8 L82.6,266.65 L83.1,266.51 L83.6,266.39 L84.1,266.29 L84.6,266.2 L85.1,266.14 L85.6,266.09 L86.1,266.06 L86.6,266.04 L87.1,266.05 L87.6,266.07 L88.1,266.11 L88.6,266.17 L89.1,266.25 L89.6,266.35 L90.1,266.46 L90.6,266.59 L91.1,266.74 L91.6,266.91 L92.1,267.09 L92.6,267.29 L93.1,267.5 L93.6,267.73 L94.1,267.97 L94.6,268.23 L95.1,268.5 L95.6,268.78 L96.1,269.08 L96.6,269.39 L97.1,269.71 L97.6,270.04 L98.1,270.39 L98.6,270.74 L99.1,271.1 L99.6,271.47 L100.1,271.85 L100.6,272.23 L101.1,272.63 L101.6,273.02 L102.1,273.43 L102.6,273.83 L103.1,274.24 L103.6,274.66 L104.1,275.07 L104.6,275.49 L105.1,275.91 L105.6,276.33 L106.1,276.75 L106.6,277.17 L107.1,277.59 L107.6,278.01 L108.1,278.43 L108.6,278.84 L109.1,279.25 L109.6,279.66 L110.1,280.06 L110.6,280.46 L111.1,280.85 L111.6,281.24 L112.1,281.62 L112.6,282 L113.1,282.37 L113.6,282.73 L114.1,283.09 L114.6,283.44 L115.1,283.78 L115.6,284.12 L116.1,284.45 L116.6,284.77 L117.1,285.08 L117.6,285.39 L118.1,285.68 L118.6,285.97 L119.1,286.25 L119.6,286.53 L120.1,286.79 L120.6,287.05 L121.1,287.3 L121.6,287.54 L122.1,287.77 L122.6,287.99 L123.1,288.21 L123.6,288.42 L124.1,288.62 L124.6,288.81 L125.1,289 L125.6,289.18 L126.1,289.35 L126.6,289.51 L127.1,289.67 L127.6,289.82 L128.1,289.96 L128.6,290.1 L129.1,290.23 L129.6,290.36 L130.1,290.48 L130.6,290.59 L131.1,290.7 L131.6,290.8 L132.1,290.9 L132.6,290.99 L133.1,291.08 L133.6,291.16 L134.1,291.24 L134.6,291.32 L135.1,291.39 L135.6,291.45 L136.1,291.52 L136.6,291.58 L137.1,291.63 L137.6,291.69 L138.1,291.73 L138.6,291.78 L139.1,291.82 L139.6,291.87 L140.1,291.9 L140.6,291.94 L141.1,291.97 L141.6,292 L142.1,292.03 L142.6,292.06 L143.1,292.09 L143.6,292.11 L144.1,292.13 L144.6,292.15 L145.1,292.17 L145.6,292.19 L146.1,292.2 L146.6,292.22" stroke="#2a2af0" stroke-width="0.9" fill="none"/>
<path d="M25.1,291.79 L25.6,291.73 L26.1,291.67 L26.6,291.61 L27.1,291.54 L27.6,291.47 L28.1,291.39 L28.6,291.31 L29.1,291.23 L29.6,291.14 L30.1,291.05 L30.6,290.96 L31.1,290.86 L31.6,290.75 L32.1,290.65 L32.6,290.53 L33.1,290.42 L33.6,290.3 L34.1,290.17 L34.6,290.04 L35.1,289.9 L35.6,289.76 L36.1,289.62 L36.6,289.47 L37.1,289.31 L37.6,289.15 L38.1,288.98 L38.6,288.81 L39.1,288.64 L39.6,288.46 L40.1,288.27 L40.6,288.08 L41.1,287.88 L41.6,287.68 L42.1,287.48 L42.6,287.27 L43.1,287.05 L43.6,286.84 L44.1,286.61 L44.6,286.39 L45.1,286.16 L45.6,285.92 L46.1,285.68 L46.6,285.44 L47.1,285.2 L47.6,284.95 L48.1,284.7 L48.6,284.45 L49.1,284.2 L49.6,283.94 L50.1,283.69 L50.6,283.43 L51.1,283.17 L51.6,282.92 L52.1,282.66 L52.6,282.4 L53.1,282.14 L53.6,281.89 L54.1,281.63 L54.6,281.38 L55.1,281.13 L55.6,280.89 L56.1,280.64 L56.6,280.4 L57.1,280.17 L57.6,279.94 L58.1,279.71 L58.6,279.49 L59.1,279.28 L59.6,279.07 L60.1,278.87 L60.6,278.67 L61.1,278.48 L61.6,278.3 L62.1,278.13 L62.6,277.97 L63.1,277.81 L63.6,277.67 L64.1,277.53 L64.6,277.4 L65.1,277.29 L65.6,277.18 L66.1,277.08 L66.6,276.99 L67.1,276.92 L67.6,276.85 L68.1,276.8 L68.6,276.76 L69.1,276.73 L69.6,276.7 L70.1,276.7 L70.6,276.7 L71.1,276.71 L71.6,276.74 L72.1,276.77 L72.6,276.82 L73.1,276.88 L73.6,276.95 L74.1,277.03 L74.6,277.12 L75.1,277.22 L75.6,277.33 L76.1,277.45 L76.6,277.58 L77.1,277.72 L77.6,277.87 L78.1,278.03 L78.6,278.19 L79.1,278.37 L79.6,278.55 L80.1,278.74 L80.6,278.94 L81.1,279.14 L81.6,279.35 L82.1,279.57 L82.6,279.79 L83.1,280.01 L83.6,280.24 L84.1,280.48 L84.6,280.72 L85.1,280.96 L85.6,281.21 L86.1,281.46 L86.6,281.71 L87.1,281.96 L87.6,282.21 L88.1,282.47 L88.6,282.72 L89.1,282.98 L89.6,283.24 L90.1,283.49 L90.6,283.75 L91.1,284 L91.6,284.25 L92.1,284.5 L92.6,284.75 L93.1,284.99 L93.6,285.24 L94.1,285.48 L94.6,285.71 L95.1,285.95 L95.6,286.18 L96.1,286.4 L96.6,286.63 L97.1,286.84 L97.6,287.06 L98.1,287.27 L98.6,287.47 L99.1,287.67 L99.6,287.87 L100.1,288.06 L100.6,288.24 L101.1,288.43 L101.6,288.6 L102.1,288.77 L102.6,288.94 L103.1,289.1 L103.6,289.25 L104.1,289.41 L104.6,289.55 L105.1,289.69 L105.6,289.83 L106.1,289.96 L106.6,290.08 L107.1,290.21 L107.6,290.32 L108.1,290.43 L108.6,290.54 L109.1,290.65 L109.6,290.74 L110.1,290.84 L110.6,290.93 L111.1,291.02 L111.6,291.1 L112.1,291.18 L112.6,291.25 L113.1,291.32 L113.6,291.39 L114.1,291.46 L114.6,291.52 L115.1,291.57 L115.6,291.63 L116.1,291.68 L116.6,291.73 L117.1,291.78 L117.6,291.82 L118.1,291.86 L118.6,291.9 L119.1,291.94 L119.6,291.97 L120.1,292.01 L120.6,292.04 L121.1,292.06 L121.6,292.09 L122.1,292.12 L122.6,292.14 L123.1,292.16 L123.6,292.18 L124.1,292.2 L124.6,292.22 L125.1,292.24 L125.6,292.25 L126.1,292.27 L126.6,292.28 L127.1,292.29 L127.6,292.3 L128.1,292.31 L128.6,292.32 L129.1,292.33 L129.6,292.34 L130.1,292.35 L130.6,292.35 L131.1,292.36 L131.6,292.36 L132.1,292.37 L132.6,292.37 L133.1,292.38 L133.6,292.38 L134.1,292.39 L134.6,292.39 L135.1,292.39 L135.6,292.39 L136.1,292.4 L136.6,292.4 L137.1,292.4 L137.6,292.4 L138.1,292.4 L138.6,292.4 L139.1,292.4 L139.6,292.41 L140.1,292.41 L140.6,292.41 L141.1,292.41 L141.6,292.41 L142.1,292.41 L142.6,292.41 L143.1,292.41 L143.6,292.41 L144.1,292.41 L144.6,292.41 L145.1,292.4 L145.6,292.4 L146.1,292.4 L146.6,292.4" stroke="#ee2222" stroke-width="0.9" fill="none"/>
<path d="M25.1,291.65 L25.6,291.58 L26.1,291.5 L26.6,291.42 L27.1,291.34 L27.6,291.25 L28.1,291.16 L28.6,291.06 L29.1,290.95 L29.6,290.84 L30.1,290.73 L30.6,290.61 L31.1,290.48 L31.6,290.35 L32.1,290.21 L32.6,290.06 L33.1,289.91 L33.6,289.75 L34.1,289.58 L34.6,289.41 L35.1,289.22 L35.6,289.03 L36.1,288.83 L36.6,288.63 L37.1,288.41 L37.6,288.19 L38.1,287.95 L38.6,287.71 L39.1,287.46 L39.6,287.2 L40.1,286.93 L40.6,286.65 L41.1,286.36 L41.6,286.06 L42.1,285.75 L42.6,285.43 L43.1,285.1 L43.6,284.76 L44.1,284.41 L44.6,284.05 L45.1,283.68 L45.6,283.3 L46.1,282.91 L46.6,282.51 L47.1,282.09 L47.6,281.67 L48.1,281.24 L48.6,280.8 L49.1,280.35 L49.6,279.88 L50.1,279.41 L50.6,278.93 L51.1,278.44 L51.6,277.94 L52.1,277.43 L52.6,276.92 L53.1,276.39 L53.6,275.86 L54.1,275.32 L54.6,274.77 L55.1,274.22 L55.6,273.65 L56.1,273.09 L56.6,272.51 L57.1,271.93 L57.6,271.35 L58.1,270.76 L58.6,270.16 L59.1,269.57 L59.6,268.97 L60.1,268.36 L60.6,267.76 L61.1,267.15 L61.6,266.54 L62.1,265.93 L62.6,265.32 L63.1,264.72 L63.6,264.11 L64.1,263.5 L64.6,262.9 L65.1,262.3 L65.6,261.7 L66.1,261.1 L66.6,260.52 L67.1,259.93 L67.6,259.35 L68.1,258.78 L68.6,258.21 L69.1,257.65 L69.6,257.1 L70.1,256.56 L70.6,256.03 L71.1,255.5 L71.6,254.99 L72.1,254.49 L72.6,253.99 L73.1,253.51 L73.6,253.05 L74.1,252.59 L74.6,252.15 L75.1,251.72 L75.6,251.3 L76.1,250.9 L76.6,250.52 L77.1,250.15 L77.6,249.8 L78.1,249.46 L78.6,249.14 L79.1,248.83 L79.6,248.55 L80.1,248.28 L80.6,248.03 L81.1,247.8 L81.6,247.58 L82.1,247.39 L82.6,247.21 L83.1,247.06 L83.6,246.92 L84.1,246.81 L84.6,246.71 L85.1,246.64 L85.6,246.58 L86.1,246.55 L86.6,246.54 L87.1,246.55 L87.6,246.58 L88.1,246.63 L88.6,246.7 L89.1,246.8 L89.6,246.91 L90.1,247.05 L90.6,247.2 L91.1,247.38 L91.6,247.58 L92.1,247.81 L92.6,248.05 L93.1,248.31 L93.6,248.59 L94.1,248.9 L94.6,249.22 L95.1,249.57 L95.6,249.93 L96.1,250.31 L96.6,250.71 L97.1,251.13 L97.6,251.57 L98.1,252.02 L98.6,252.5 L99.1,252.98 L99.6,253.49 L100.1,254.01 L100.6,254.54 L101.1,255.09 L101.6,255.66 L102.1,256.23 L102.6,256.82 L103.1,257.42 L103.6,258.03 L104.1,258.65 L104.6,259.28 L105.1,259.92 L105.6,260.57 L106.1,261.22 L106.6,261.88 L107.1,262.55 L107.6,263.22 L108.1,263.89 L108.6,264.57 L109.1,265.24 L109.6,265.92 L110.1,266.61 L110.6,267.29 L111.1,267.97 L111.6,268.64 L112.1,269.32 L112.6,269.99 L113.1,270.66 L113.6,271.32 L114.1,271.98 L114.6,272.63 L115.1,273.27 L115.6,273.91 L116.1,274.54 L116.6,275.16 L117.1,275.77 L117.6,276.37 L118.1,276.96 L118.6,277.54 L119.1,278.11 L119.6,278.67 L120.1,279.22 L120.6,279.75 L121.1,280.28 L121.6,280.79 L122.1,281.28 L122.6,281.77 L123.1,282.24 L123.6,282.7 L124.1,283.14 L124.6,283.57 L125.1,283.99 L125.6,284.4 L126.1,284.79 L126.6,285.17 L127.1,285.53 L127.6,285.88 L128.1,286.22 L128.6,286.55 L129.1,286.86 L129.6,287.16 L130.1,287.45 L130.6,287.73 L131.1,287.99 L131.6,288.25 L132.1,288.49 L132.6,288.72 L133.1,288.94 L133.6,289.15 L134.1,289.35 L134.6,289.54 L135.1,289.72 L135.6,289.89 L136.1,290.05 L136.6,290.21 L137.1,290.35 L137.6,290.49 L138.1,290.62 L138.6,290.74 L139.1,290.85 L139.6,290.96 L140.1,291.06 L140.6,291.16 L141.1,291.25 L141.6,291.33 L142.1,291.41 L142.6,291.49 L143.1,291.56 L143.6,291.62 L144.1,291.68 L144.6,291.73 L145.1,291.79 L145.6,291.83 L146.1,291.88 L146.6,291.92" stroke="#1a1a1a" stroke-width="0.9" fill="none"/>
<circle cx="29.2" cy="291.1" r="1.4" fill="#ddd" stroke="#111" stroke-width="1.05"/>
<circle cx="36.23" cy="289.3" r="1.4" fill="#ddd" stroke="#111" stroke-width="1.05"/>
<circle cx="43.26" cy="285.45" r="1.4" fill="#ddd" stroke="#111" stroke-width="1.05"/>
<circle cx="50.29" cy="278.3" r="1.4" fill="#ddd" stroke="#111" stroke-width="1.05"/>
<circle cx="57.32" cy="266.75" r="1.4" fill="#ddd" stroke="#111" stroke-width="1.05"/>
<circle cx="64.35" cy="259.8" r="1.4" fill="#ddd" stroke="#111" stroke-width="1.05"/>
<circle cx="71.38" cy="254.5" r="1.4" fill="#ddd" stroke="#111" stroke-width="1.05"/>
<circle cx="78.41" cy="251.2" r="1.4" fill="#ddd" stroke="#111" stroke-width="1.05"/>
<circle cx="85.44" cy="248.4" r="1.4" fill="#ddd" stroke="#111" stroke-width="1.05"/>
<circle cx="92.47" cy="246.6" r="1.4" fill="#ddd" stroke="#111" stroke-width="1.05"/>
<circle cx="99.5" cy="251.2" r="1.4" fill="#ddd" stroke="#111" stroke-width="1.05"/>
<circle cx="106.53" cy="260.3" r="1.4" fill="#ddd" stroke="#111" stroke-width="1.05"/>
<circle cx="113.56" cy="271.3" r="1.4" fill="#ddd" stroke="#111" stroke-width="1.05"/>
<circle cx="120.59" cy="280.5" r="1.4" fill="#ddd" stroke="#111" stroke-width="1.05"/>
<circle cx="127.62" cy="286.4" r="1.4" fill="#ddd" stroke="#111" stroke-width="1.05"/>
<circle cx="134.65" cy="289.3" r="1.4" fill="#ddd" stroke="#111" stroke-width="1.05"/>
<circle cx="141.68" cy="292.4" r="1.4" fill="#ddd" stroke="#111" stroke-width="1.05"/>
<text x="111.3" y="254.4" class="lb">0 at.%</text>
<path d="M169.1,64.38 L169.6,64.33 L170.1,64.27 L170.6,64.21 L171.1,64.15 L171.6,64.09 L172.1,64.02 L172.6,63.95 L173.1,63.88 L173.6,63.81 L174.1,63.74 L174.6,63.67 L175.1,63.6 L175.6,63.52 L176.1,63.44 L176.6,63.36 L177.1,63.29 L177.6,63.2 L178.1,63.12 L178.6,63.04 L179.1,62.95 L179.6,62.87 L180.1,62.78 L180.6,62.69 L181.1,62.6 L181.6,62.5 L182.1,62.4 L182.6,62.3 L183.1,62.19 L183.6,62.08 L184.1,61.97 L184.6,61.86 L185.1,61.74 L185.6,61.63 L186.1,61.51 L186.6,61.39 L187.1,61.27 L187.6,61.15 L188.1,61.03 L188.6,60.91 L189.1,60.79 L189.6,60.67 L190.1,60.55 L190.6,60.43 L191.1,60.32 L191.6,60.2 L192.1,60.09 L192.6,59.98 L193.1,59.87 L193.6,59.75 L194.1,59.64 L194.6,59.53 L195.1,59.42 L195.6,59.3 L196.1,59.19 L196.6,59.08 L197.1,58.97 L197.6,58.86 L198.1,58.75 L198.6,58.65 L199.1,58.54 L199.6,58.44 L200.1,58.34 L200.6,58.25 L201.1,58.16 L201.6,58.07 L202.1,57.98 L202.6,57.9 L203.1,57.81 L203.6,57.72 L204.1,57.62 L204.6,57.52 L205.1,57.41 L205.6,57.29 L206.1,57.17 L206.6,57.04 L207.1,56.9 L207.6,56.76 L208.1,56.62 L208.6,56.48 L209.1,56.34 L209.6,56.2 L210.1,56.06 L210.6,55.93 L211.1,55.8 L211.6,55.69 L212.1,55.58 L212.6,55.48 L213.1,55.37 L213.6,55.28 L214.1,55.18 L214.6,55.08 L215.1,54.99 L215.6,54.9 L216.1,54.81 L216.6,54.72 L217.1,54.64 L217.6,54.55 L218.1,54.47 L218.6,54.39 L219.1,54.31 L219.6,54.23 L220.1,54.15 L220.6,54.07 L221.1,53.99 L221.6,53.91 L222.1,53.83 L222.6,53.75 L223.1,53.67 L223.6,53.59 L224.1,53.52 L224.6,53.44 L225.1,53.36 L225.6,53.28 L226.1,53.21 L226.6,53.14 L227.1,53.06 L227.6,52.99 L228.1,52.92 L228.6,52.85 L229.1,52.78 L229.6,52.71 L230.1,52.64 L230.6,52.57 L231.1,52.5 L231.6,52.43 L232.1,52.36 L232.6,52.29 L233.1,52.22 L233.6,52.14 L234.1,52.07 L234.6,52 L235.1,51.92 L235.6,51.84 L236.1,51.76 L236.6,51.68 L237.1,51.6 L237.6,51.52 L238.1,51.43 L238.6,51.34 L239.1,51.24 L239.6,51.15 L240.1,51.05 L240.6,50.96 L241.1,50.86 L241.6,50.76 L242.1,50.66 L242.6,50.57 L243.1,50.47 L243.6,50.37 L244.1,50.28 L244.6,50.18 L245.1,50.09 L245.6,50 L246.1,49.91 L246.6,49.83 L247.1,49.74 L247.6,49.66 L248.1,49.59 L248.6,49.51 L249.1,49.45 L249.6,49.38 L250.1,49.32 L250.6,49.26 L251.1,49.2 L251.6,49.14 L252.1,49.09 L252.6,49.04 L253.1,48.99 L253.6,48.94 L254.1,48.89 L254.6,48.84 L255.1,48.79 L255.6,48.75 L256.1,48.7 L256.6,48.66 L257.1,48.62 L257.6,48.57 L258.1,48.53 L258.6,48.49 L259.1,48.45 L259.6,48.4 L260.1,48.36 L260.6,48.32 L261.1,48.28 L261.6,48.23 L262.1,48.19 L262.6,48.15 L263.1,48.1 L263.6,48.06 L264.1,48.01 L264.6,47.96 L265.1,47.91 L265.6,47.87 L266.1,47.82 L266.6,47.77 L267.1,47.72 L267.6,47.67 L268.1,47.62 L268.6,47.56 L269.1,47.51 L269.6,47.46 L270.1,47.41 L270.6,47.36 L271.1,47.31 L271.6,47.26 L272.1,47.21 L272.6,47.16 L273.1,47.11 L273.6,47.06 L274.1,47.01 L274.6,46.97 L275.1,46.92 L275.6,46.88 L276.1,46.83 L276.6,46.79 L277.1,46.75 L277.6,46.71 L278.1,46.67 L278.6,46.63 L279.1,46.59 L279.6,46.55 L280.1,46.51 L280.6,46.47 L281.1,46.43 L281.6,46.39 L282.1,46.36 L282.6,46.32 L283.1,46.28 L283.6,46.25 L284.1,46.21 L284.6,46.17 L285.1,46.14 L285.6,46.11 L286.1,46.07 L286.6,46.04 L287.1,46 L287.6,45.97 L288.1,45.94 L288.6,45.91 L289.1,45.88 L289.6,45.85 L289.9,45.83" stroke="#3a3a55" stroke-width="0.85" stroke-dasharray="0.9,1.2" fill="none"/>
<path d="M168,57.2 L168.5,56.68 L169,56.16 L169.5,55.64 L170,55.13 L170.5,54.63 L171,54.12 L171.5,53.62 L172,53.13 L172.5,52.64 L173,52.15 L173.5,51.67 L174,51.19 L174.5,50.72 L175,50.26 L175.5,49.81 L176,49.36 L176.5,48.91 L177,48.47 L177.5,48.03 L178,47.59 L178.5,47.14 L179,46.7 L179.5,46.25 L180,45.79 L180.5,45.32 L181,44.84 L181.5,44.35 L182,43.85 L182.5,43.35 L183,42.85 L183.5,42.34 L184,41.85 L184.5,41.36 L185,40.88 L185.5,40.41 L186,39.96 L186.5,39.53 L187,39.1 L187.5,38.67 L188,38.25 L188.5,37.84 L189,37.43 L189.5,37.03 L190,36.64 L190.5,36.26 L191,35.9 L191.5,35.55 L192,35.22 L192.5,34.9 L193,34.59 L193.5,34.29 L194,33.99 L194.5,33.7 L195,33.42 L195.5,33.14 L196,32.88 L196.5,32.64 L197,32.41 L197.5,32.19 L198,32 L198.5,31.83 L199,31.67 L199.5,31.52 L200,31.36 L200.5,31.21 L201,31.08 L201.5,30.97 L202,30.88 L202.5,30.82 L203,30.8 L203.5,30.83 L204,30.91 L204.5,31.03 L205,31.19 L205.5,31.36 L206,31.54 L206.5,31.73 L207,31.9 L207.5,32.07 L208,32.25 L208.5,32.44 L209,32.64 L209.5,32.85 L210,33.07 L210.5,33.29 L211,33.52 L211.5,33.76 L212,34 L212.5,34.25 L213,34.51 L213.5,34.77 L214,35.05 L214.5,35.33 L215,35.62 L215.5,35.92 L216,36.23 L216.5,36.55 L217,36.87 L217.5,37.2 L218,37.53 L218.5,37.88 L219,38.26 L219.5,38.65 L220,39.06 L220.5,39.48 L221,39.91 L221.5,40.34 L222,40.77 L222.5,41.19 L223,41.6 L223.5,41.99 L224,42.36 L224.5,42.71 L225,43.06 L225.5,43.4 L226,43.75 L226.5,44.09 L227,44.42 L227.5,44.74 L228,45.04 L228.5,45.33 L229,45.6 L229.5,45.85 L230,46.08 L230.5,46.28 L231,46.47 L231.5,46.65 L232,46.82 L232.5,46.99 L233,47.15 L233.5,47.3 L234,47.44 L234.5,47.57 L235,47.69 L235.5,47.8 L236,47.91 L236.5,48 L237,48.09 L237.5,48.17 L238,48.25 L238.5,48.33 L239,48.4 L239.5,48.47 L240,48.54 L240.5,48.6 L241,48.66 L241.5,48.71 L242,48.76 L242.5,48.81 L243,48.85 L243.5,48.88 L244,48.91 L244.5,48.94 L245,48.97 L245.5,48.99 L246,49.02 L246.5,49.05 L247,49.07 L247.5,49.09 L248,49.11 L248.5,49.13 L249,49.15 L249.5,49.16 L250,49.18 L250.5,49.19 L251,49.19 L251.5,49.2 L252,49.2" stroke="#9a9ae0" stroke-width="0.7" fill="none"/>
<path d="M169.1,64.36 L169.6,64.3 L170.1,64.23 L170.6,64.16 L171.1,64.1 L171.6,64.03 L172.1,63.96 L172.6,63.89 L173.1,63.81 L173.6,63.74 L174.1,63.67 L174.6,63.59 L175.1,63.52 L175.6,63.44 L176.1,63.36 L176.6,63.29 L177.1,63.21 L177.6,63.13 L178.1,63.05 L178.6,62.97 L179.1,62.88 L179.6,62.8 L180.1,62.72 L180.6,62.63 L181.1,62.55 L181.6,62.46 L182.1,62.37 L182.6,62.29 L183.1,62.2 L183.6,62.11 L184.1,62.02 L184.6,61.93 L185.1,61.83 L185.6,61.74 L186.1,61.64 L186.6,61.55 L187.1,61.45 L187.6,61.35 L188.1,61.25 L188.6,61.15 L189.1,61.04 L189.6,60.94 L190.1,60.83 L190.6,60.72 L191.1,60.62 L191.6,60.5 L192.1,60.39 L192.6,60.28 L193.1,60.16 L193.6,60.05 L194.1,59.93 L194.6,59.81 L195.1,59.7 L195.6,59.58 L196.1,59.45 L196.6,59.33 L197.1,59.2 L197.6,59.07 L198.1,58.94 L198.6,58.8 L199.1,58.65 L199.6,58.51 L200.1,58.35 L200.6,58.19 L201.1,58.03 L201.6,57.85 L202.1,57.67 L202.6,57.48 L203.1,57.27 L203.6,57.04 L204.1,56.79 L204.6,56.53 L205.1,56.26 L205.6,55.97 L206.1,55.69 L206.6,55.4 L207.1,55.11 L207.6,54.82 L208.1,54.54 L208.6,54.27 L209.1,54 L209.6,53.73 L210.1,53.45 L210.6,53.16 L211.1,52.87 L211.6,52.56 L212.1,52.23 L212.6,51.89 L213.1,51.52 L213.6,51.14 L214.1,50.74 L214.6,50.33 L215.1,49.92 L215.6,49.49 L216.1,49.07 L216.6,48.64 L217.1,48.22 L217.6,47.81 L218.1,47.4 L218.6,47 L219.1,46.59 L219.6,46.18 L220.1,45.77 L220.6,45.36 L221.1,44.95 L221.6,44.54 L222.1,44.14 L222.6,43.74 L223.1,43.34 L223.6,42.96 L224.1,42.58 L224.6,42.2 L225.1,41.83 L225.6,41.46 L226.1,41.09 L226.6,40.73 L227.1,40.37 L227.6,40.02 L228.1,39.67 L228.6,39.32 L229.1,38.98 L229.6,38.65 L230.1,38.33 L230.6,38.01 L231.1,37.69 L231.6,37.38 L232.1,37.06 L232.6,36.75 L233.1,36.45 L233.6,36.15 L234.1,35.86 L234.6,35.58 L235.1,35.31 L235.6,35.04 L236.1,34.79 L236.6,34.55 L237.1,34.31 L237.6,34.07 L238.1,33.83 L238.6,33.59 L239.1,33.36 L239.6,33.14 L240.1,32.94 L240.6,32.76 L241.1,32.61 L241.6,32.48 L242.1,32.38 L242.6,32.3 L243.1,32.22 L243.6,32.14 L244.1,32.07 L244.6,32.01 L245.1,31.96 L245.6,31.93 L246.1,31.91 L246.6,31.9 L247.1,31.93 L247.6,32 L248.1,32.1 L248.6,32.23 L249.1,32.38 L249.6,32.55 L250.1,32.73 L250.6,32.91 L251.1,33.09 L251.6,33.27 L252.1,33.43 L252.6,33.59 L253.1,33.76 L253.6,33.93 L254.1,34.1 L254.6,34.28 L255.1,34.46 L255.6,34.65 L256.1,34.85 L256.6,35.05 L257.1,35.26 L257.6,35.48 L258.1,35.7 L258.6,35.94 L259.1,36.19 L259.6,36.46 L260.1,36.75 L260.6,37.04 L261.1,37.34 L261.6,37.65 L262.1,37.95 L262.6,38.26 L263.1,38.56 L263.6,38.86 L264.1,39.14 L264.6,39.43 L265.1,39.72 L265.6,40.01 L266.1,40.31 L266.6,40.61 L267.1,40.9 L267.6,41.19 L268.1,41.46 L268.6,41.73 L269.1,41.98 L269.6,42.21 L270.1,42.42 L270.6,42.61 L271.1,42.79 L271.6,42.97 L272.1,43.14 L272.6,43.3 L273.1,43.45 L273.6,43.6 L274.1,43.74 L274.6,43.87 L275.1,43.99 L275.6,44.11 L276.1,44.22 L276.6,44.32 L277.1,44.41 L277.6,44.5 L278.1,44.59 L278.6,44.67 L279.1,44.74 L279.6,44.82 L280.1,44.89 L280.6,44.95 L281.1,45.02 L281.6,45.08 L282.1,45.14 L282.6,45.2 L283.1,45.26 L283.6,45.32 L284.1,45.37 L284.6,45.43 L285.1,45.48 L285.6,45.53 L286.1,45.58 L286.6,45.63 L287.1,45.67 L287.6,45.72 L288.1,45.76 L288.6,45.79 L289.1,45.83 L289.6,45.86 L289.9,45.87" stroke="#ee2222" stroke-width="0.8" fill="none"/>
<path d="M169.1,56.06 L169.6,55.55 L170.1,55.04 L170.6,54.53 L171.1,54.02 L171.6,53.52 L172.1,53.02 L172.6,52.53 L173.1,52.05 L173.6,51.57 L174.1,51.1 L174.6,50.64 L175.1,50.18 L175.6,49.73 L176.1,49.29 L176.6,48.84 L177.1,48.4 L177.6,47.96 L178.1,47.51 L178.6,47.07 L179.1,46.61 L179.6,46.16 L180.1,45.69 L180.6,45.22 L181.1,44.74 L181.6,44.26 L182.1,43.77 L182.6,43.27 L183.1,42.78 L183.6,42.29 L184.1,41.8 L184.6,41.31 L185.1,40.83 L185.6,40.35 L186.1,39.88 L186.6,39.43 L187.1,38.98 L187.6,38.55 L188.1,38.12 L188.6,37.71 L189.1,37.3 L189.6,36.91 L190.1,36.52 L190.6,36.14 L191.1,35.78 L191.6,35.42 L192.1,35.07 L192.6,34.73 L193.1,34.4 L193.6,34.08 L194.1,33.77 L194.6,33.47 L195.1,33.18 L195.6,32.9 L196.1,32.64 L196.6,32.38 L197.1,32.14 L197.6,31.91 L198.1,31.7 L198.6,31.5 L199.1,31.32 L199.6,31.14 L200.1,30.99 L200.6,30.85 L201.1,30.72 L201.6,30.61 L202.1,30.51 L202.6,30.42 L203.1,30.35 L203.6,30.29 L204.1,30.24 L204.6,30.21 L205.1,30.19 L205.6,30.18 L206.1,30.18 L206.6,30.2 L207.1,30.22 L207.6,30.26 L208.1,30.31 L208.6,30.37 L209.1,30.44 L209.6,30.51 L210.1,30.59 L210.6,30.67 L211.1,30.75 L211.6,30.84 L212.1,30.92 L212.6,30.99 L213.1,31.06 L213.6,31.13 L214.1,31.19 L214.6,31.26 L215.1,31.31 L215.6,31.37 L216.1,31.42 L216.6,31.47 L217.1,31.52 L217.6,31.56 L218.1,31.61 L218.6,31.65 L219.1,31.69 L219.6,31.73 L220.1,31.77 L220.6,31.8 L221.1,31.83 L221.6,31.86 L222.1,31.88 L222.6,31.9 L223.1,31.92 L223.6,31.93 L224.1,31.94 L224.6,31.94 L225.1,31.94 L225.6,31.93 L226.1,31.92 L226.6,31.9 L227.1,31.88 L227.6,31.85 L228.1,31.82 L228.6,31.78 L229.1,31.74 L229.6,31.7 L230.1,31.66 L230.6,31.61 L231.1,31.57 L231.6,31.52 L232.1,31.48 L232.6,31.43 L233.1,31.39 L233.6,31.35 L234.1,31.32 L234.6,31.28 L235.1,31.24 L235.6,31.21 L236.1,31.17 L236.6,31.13 L237.1,31.09 L237.6,31.04 L238.1,30.99 L238.6,30.94 L239.1,30.87 L239.6,30.81 L240.1,30.74 L240.6,30.67 L241.1,30.6 L241.6,30.54 L242.1,30.49 L242.6,30.45 L243.1,30.42 L243.6,30.41 L244.1,30.42 L244.6,30.46 L245.1,30.51 L245.6,30.6 L246.1,30.71 L246.6,30.84 L247.1,30.99 L247.6,31.15 L248.1,31.34 L248.6,31.53 L249.1,31.74 L249.6,31.95 L250.1,32.17 L250.6,32.39 L251.1,32.61 L251.6,32.83 L252.1,33.04 L252.6,33.25 L253.1,33.46 L253.6,33.66 L254.1,33.86 L254.6,34.06 L255.1,34.26 L255.6,34.47 L256.1,34.68 L256.6,34.89 L257.1,35.12 L257.6,35.35 L258.1,35.6 L258.6,35.86 L259.1,36.13 L259.6,36.41 L260.1,36.7 L260.6,36.99 L261.1,37.29 L261.6,37.6 L262.1,37.91 L262.6,38.22 L263.1,38.53 L263.6,38.83 L264.1,39.14 L264.6,39.44 L265.1,39.74 L265.6,40.03 L266.1,40.31 L266.6,40.59 L267.1,40.86 L267.6,41.12 L268.1,41.38 L268.6,41.63 L269.1,41.87 L269.6,42.1 L270.1,42.31 L270.6,42.52 L271.1,42.72 L271.6,42.91 L272.1,43.09 L272.6,43.26 L273.1,43.42 L273.6,43.58 L274.1,43.72 L274.6,43.86 L275.1,43.98 L275.6,44.1 L276.1,44.22 L276.6,44.32 L277.1,44.42 L277.6,44.51 L278.1,44.6 L278.6,44.68 L279.1,44.75 L279.6,44.83 L280.1,44.89 L280.6,44.96 L281.1,45.02 L281.6,45.08 L282.1,45.14 L282.6,45.2 L283.1,45.26 L283.6,45.32 L284.1,45.37 L284.6,45.43 L285.1,45.48 L285.6,45.53 L286.1,45.58 L286.6,45.63 L287.1,45.68 L287.6,45.72 L288.1,45.76 L288.6,45.79 L289.1,45.83 L289.6,45.86 L289.9,45.87" stroke="#1c1c30" stroke-width="1.1" fill="none"/>
<circle cx="172.5" cy="53.5" r="1.4" fill="#999" stroke="#000" stroke-width="1.1"/>
<circle cx="184.8" cy="41.3" r="1.4" fill="#999" stroke="#000" stroke-width="1.1"/>
<circle cx="197" cy="32.4" r="1.4" fill="#999" stroke="#000" stroke-width="1.1"/>
<circle cx="209.1" cy="29.6" r="1.4" fill="#999" stroke="#000" stroke-width="1.1"/>
<circle cx="221.2" cy="32.1" r="1.4" fill="#999" stroke="#000" stroke-width="1.1"/>
<circle cx="233.4" cy="31.5" r="1.4" fill="#999" stroke="#000" stroke-width="1.1"/>
<circle cx="245.3" cy="30.3" r="1.4" fill="#999" stroke="#000" stroke-width="1.1"/>
<circle cx="257.5" cy="34.9" r="1.4" fill="#999" stroke="#000" stroke-width="1.1"/>
<circle cx="270" cy="42.9" r="1.4" fill="#999" stroke="#000" stroke-width="1.1"/>
<circle cx="282.2" cy="45.2" r="1.4" fill="#999" stroke="#000" stroke-width="1.1"/>
<text x="249.2" y="15.5" class="lb">4.7 at.%</text>
<path d="M169.1,121.51 L169.6,121.43 L170.1,121.34 L170.6,121.25 L171.1,121.17 L171.6,121.08 L172.1,120.99 L172.6,120.9 L173.1,120.81 L173.6,120.72 L174.1,120.63 L174.6,120.54 L175.1,120.45 L175.6,120.36 L176.1,120.27 L176.6,120.18 L177.1,120.08 L177.6,119.99 L178.1,119.9 L178.6,119.8 L179.1,119.71 L179.6,119.61 L180.1,119.52 L180.6,119.42 L181.1,119.33 L181.6,119.23 L182.1,119.13 L182.6,119.03 L183.1,118.93 L183.6,118.83 L184.1,118.73 L184.6,118.62 L185.1,118.52 L185.6,118.42 L186.1,118.31 L186.6,118.21 L187.1,118.11 L187.6,118 L188.1,117.9 L188.6,117.8 L189.1,117.69 L189.6,117.59 L190.1,117.49 L190.6,117.38 L191.1,117.28 L191.6,117.18 L192.1,117.08 L192.6,116.98 L193.1,116.88 L193.6,116.78 L194.1,116.69 L194.6,116.59 L195.1,116.5 L195.6,116.4 L196.1,116.3 L196.6,116.21 L197.1,116.11 L197.6,116.01 L198.1,115.9 L198.6,115.8 L199.1,115.69 L199.6,115.59 L200.1,115.49 L200.6,115.38 L201.1,115.28 L201.6,115.17 L202.1,115.06 L202.6,114.94 L203.1,114.82 L203.6,114.7 L204.1,114.57 L204.6,114.43 L205.1,114.27 L205.6,114.09 L206.1,113.9 L206.6,113.7 L207.1,113.5 L207.6,113.32 L208.1,113.17 L208.6,113.03 L209.1,112.9 L209.6,112.78 L210.1,112.65 L210.6,112.53 L211.1,112.42 L211.6,112.31 L212.1,112.2 L212.6,112.1 L213.1,112 L213.6,111.9 L214.1,111.8 L214.6,111.7 L215.1,111.61 L215.6,111.51 L216.1,111.42 L216.6,111.32 L217.1,111.23 L217.6,111.13 L218.1,111.03 L218.6,110.93 L219.1,110.83 L219.6,110.73 L220.1,110.62 L220.6,110.51 L221.1,110.4 L221.6,110.29 L222.1,110.18 L222.6,110.07 L223.1,109.96 L223.6,109.84 L224.1,109.73 L224.6,109.62 L225.1,109.5 L225.6,109.39 L226.1,109.28 L226.6,109.17 L227.1,109.05 L227.6,108.94 L228.1,108.83 L228.6,108.72 L229.1,108.61 L229.6,108.5 L230.1,108.39 L230.6,108.29 L231.1,108.18 L231.6,108.08 L232.1,107.98 L232.6,107.88 L233.1,107.78 L233.6,107.69 L234.1,107.6 L234.6,107.51 L235.1,107.42 L235.6,107.33 L236.1,107.24 L236.6,107.16 L237.1,107.07 L237.6,106.99 L238.1,106.91 L238.6,106.82 L239.1,106.74 L239.6,106.65 L240.1,106.57 L240.6,106.48 L241.1,106.39 L241.6,106.3 L242.1,106.21 L242.6,106.12 L243.1,106.02 L243.6,105.93 L244.1,105.82 L244.6,105.72 L245.1,105.61 L245.6,105.5 L246.1,105.38 L246.6,105.25 L247.1,105.12 L247.6,104.99 L248.1,104.87 L248.6,104.74 L249.1,104.61 L249.6,104.49 L250.1,104.38 L250.6,104.26 L251.1,104.15 L251.6,104.04 L252.1,103.93 L252.6,103.82 L253.1,103.71 L253.6,103.61 L254.1,103.5 L254.6,103.39 L255.1,103.29 L255.6,103.19 L256.1,103.08 L256.6,102.98 L257.1,102.88 L257.6,102.78 L258.1,102.68 L258.6,102.58 L259.1,102.48 L259.6,102.39 L260.1,102.29 L260.6,102.2 L261.1,102.1 L261.6,102.01 L262.1,101.92 L262.6,101.83 L263.1,101.74 L263.6,101.65 L264.1,101.55 L264.6,101.46 L265.1,101.37 L265.6,101.28 L266.1,101.19 L266.6,101.1 L267.1,101.02 L267.6,100.93 L268.1,100.84 L268.6,100.76 L269.1,100.67 L269.6,100.59 L270.1,100.51 L270.6,100.43 L271.1,100.36 L271.6,100.28 L272.1,100.21 L272.6,100.14 L273.1,100.07 L273.6,100.01 L274.1,99.95 L274.6,99.89 L275.1,99.83 L275.6,99.78 L276.1,99.72 L276.6,99.67 L277.1,99.62 L277.6,99.58 L278.1,99.53 L278.6,99.48 L279.1,99.44 L279.6,99.4 L280.1,99.35 L280.6,99.31 L281.1,99.27 L281.6,99.23 L282.1,99.19 L282.6,99.14 L283.1,99.1 L283.6,99.06 L284.1,99.02 L284.6,98.97 L285.1,98.93 L285.6,98.89 L286.1,98.85 L286.6,98.81 L287.1,98.76 L287.6,98.72 L288.1,98.68 L288.6,98.64 L289.1,98.6 L289.6,98.56 L289.9,98.54" stroke="#3a3a55" stroke-width="0.85" stroke-dasharray="0.9,1.2" fill="none"/>
<path d="M168,115.2 L168.5,114.65 L169,114.12 L169.5,113.59 L170,113.06 L170.5,112.55 L171,112.04 L171.5,111.54 L172,111.05 L172.5,110.57 L173,110.1 L173.5,109.64 L174,109.19 L174.5,108.75 L175,108.33 L175.5,107.92 L176,107.52 L176.5,107.13 L177,106.75 L177.5,106.37 L178,105.98 L178.5,105.6 L179,105.2 L179.5,104.79 L180,104.37 L180.5,103.94 L181,103.48 L181.5,103.01 L182,102.52 L182.5,102.03 L183,101.54 L183.5,101.04 L184,100.54 L184.5,100.05 L185,99.58 L185.5,99.11 L186,98.66 L186.5,98.23 L187,97.8 L187.5,97.37 L188,96.95 L188.5,96.52 L189,96.11 L189.5,95.7 L190,95.31 L190.5,94.93 L191,94.57 L191.5,94.22 L192,93.9 L192.5,93.6 L193,93.31 L193.5,93.03 L194,92.75 L194.5,92.48 L195,92.22 L195.5,91.97 L196,91.73 L196.5,91.51 L197,91.3 L197.5,91.12 L198,90.96 L198.5,90.82 L199,90.71 L199.5,90.59 L200,90.47 L200.5,90.36 L201,90.26 L201.5,90.18 L202,90.1 L202.5,90.05 L203,90.01 L203.5,90 L204,90.02 L204.5,90.08 L205,90.18 L205.5,90.29 L206,90.43 L206.5,90.57 L207,90.72 L207.5,90.87 L208,91 L208.5,91.13 L209,91.25 L209.5,91.38 L210,91.51 L210.5,91.64 L211,91.78 L211.5,91.92 L212,92.07 L212.5,92.23 L213,92.39 L213.5,92.57 L214,92.76 L214.5,92.97 L215,93.21 L215.5,93.48 L216,93.76 L216.5,94.07 L217,94.39 L217.5,94.72 L218,95.06 L218.5,95.4 L219,95.73 L219.5,96.06 L220,96.38 L220.5,96.68 L221,97 L221.5,97.32 L222,97.65 L222.5,97.98 L223,98.31 L223.5,98.63 L224,98.95 L224.5,99.25 L225,99.54 L225.5,99.81 L226,100.06 L226.5,100.29 L227,100.51 L227.5,100.72 L228,100.93 L228.5,101.14 L229,101.33 L229.5,101.52 L230,101.69 L230.5,101.86 L231,102.01 L231.5,102.16 L232,102.29 L232.5,102.4 L233,102.51 L233.5,102.61 L234,102.71 L234.5,102.8 L235,102.9 L235.5,102.98 L236,103.07 L236.5,103.14 L237,103.22 L237.5,103.28 L238,103.34 L238.5,103.4 L239,103.44 L239.5,103.48 L240,103.51 L240.5,103.54 L241,103.57 L241.5,103.6 L242,103.62 L242.5,103.65 L243,103.67 L243.5,103.69 L244,103.72 L244.5,103.73 L245,103.75 L245.5,103.76 L246,103.78 L246.5,103.79 L247,103.79 L247.5,103.8 L248,103.8 L248.5,103.79 L249,103.78 L249.5,103.75 L250,103.71 L250.5,103.67 L251,103.62 L251.5,103.56 L252,103.5 L252.5,103.43 L253,103.35 L253.5,103.28 L254,103.2" stroke="#9a9ae0" stroke-width="0.7" fill="none"/>
<path d="M169.1,121.52 L169.6,121.44 L170.1,121.35 L170.6,121.27 L171.1,121.19 L171.6,121.1 L172.1,121.01 L172.6,120.92 L173.1,120.84 L173.6,120.75 L174.1,120.66 L174.6,120.57 L175.1,120.47 L175.6,120.38 L176.1,120.29 L176.6,120.2 L177.1,120.1 L177.6,120.01 L178.1,119.91 L178.6,119.81 L179.1,119.72 L179.6,119.62 L180.1,119.52 L180.6,119.42 L181.1,119.32 L181.6,119.22 L182.1,119.13 L182.6,119.03 L183.1,118.93 L183.6,118.83 L184.1,118.73 L184.6,118.63 L185.1,118.52 L185.6,118.42 L186.1,118.32 L186.6,118.21 L187.1,118.1 L187.6,117.99 L188.1,117.88 L188.6,117.77 L189.1,117.65 L189.6,117.54 L190.1,117.42 L190.6,117.29 L191.1,117.17 L191.6,117.04 L192.1,116.91 L192.6,116.77 L193.1,116.64 L193.6,116.49 L194.1,116.35 L194.6,116.2 L195.1,116.05 L195.6,115.9 L196.1,115.74 L196.6,115.57 L197.1,115.41 L197.6,115.24 L198.1,115.06 L198.6,114.88 L199.1,114.7 L199.6,114.51 L200.1,114.31 L200.6,114.11 L201.1,113.91 L201.6,113.7 L202.1,113.49 L202.6,113.27 L203.1,113.03 L203.6,112.77 L204.1,112.51 L204.6,112.23 L205.1,111.94 L205.6,111.65 L206.1,111.35 L206.6,111.05 L207.1,110.74 L207.6,110.44 L208.1,110.14 L208.6,109.84 L209.1,109.55 L209.6,109.25 L210.1,108.95 L210.6,108.64 L211.1,108.33 L211.6,108.02 L212.1,107.7 L212.6,107.36 L213.1,107.02 L213.6,106.67 L214.1,106.3 L214.6,105.91 L215.1,105.51 L215.6,105.08 L216.1,104.64 L216.6,104.18 L217.1,103.71 L217.6,103.24 L218.1,102.77 L218.6,102.29 L219.1,101.82 L219.6,101.35 L220.1,100.89 L220.6,100.44 L221.1,99.98 L221.6,99.51 L222.1,99.04 L222.6,98.57 L223.1,98.1 L223.6,97.64 L224.1,97.18 L224.6,96.73 L225.1,96.29 L225.6,95.87 L226.1,95.46 L226.6,95.07 L227.1,94.68 L227.6,94.29 L228.1,93.91 L228.6,93.54 L229.1,93.18 L229.6,92.82 L230.1,92.47 L230.6,92.14 L231.1,91.82 L231.6,91.51 L232.1,91.22 L232.6,90.95 L233.1,90.68 L233.6,90.41 L234.1,90.15 L234.6,89.9 L235.1,89.66 L235.6,89.42 L236.1,89.2 L236.6,88.99 L237.1,88.79 L237.6,88.61 L238.1,88.45 L238.6,88.3 L239.1,88.16 L239.6,88.02 L240.1,87.89 L240.6,87.75 L241.1,87.62 L241.6,87.5 L242.1,87.39 L242.6,87.3 L243.1,87.22 L243.6,87.16 L244.1,87.12 L244.6,87.1 L245.1,87.1 L245.6,87.11 L246.1,87.13 L246.6,87.15 L247.1,87.18 L247.6,87.21 L248.1,87.25 L248.6,87.28 L249.1,87.32 L249.6,87.37 L250.1,87.41 L250.6,87.46 L251.1,87.52 L251.6,87.58 L252.1,87.66 L252.6,87.74 L253.1,87.83 L253.6,87.93 L254.1,88.03 L254.6,88.14 L255.1,88.26 L255.6,88.38 L256.1,88.5 L256.6,88.64 L257.1,88.79 L257.6,88.97 L258.1,89.16 L258.6,89.36 L259.1,89.57 L259.6,89.8 L260.1,90.02 L260.6,90.26 L261.1,90.49 L261.6,90.72 L262.1,90.95 L262.6,91.19 L263.1,91.43 L263.6,91.69 L264.1,91.95 L264.6,92.22 L265.1,92.5 L265.6,92.77 L266.1,93.04 L266.6,93.3 L267.1,93.55 L267.6,93.79 L268.1,94.01 L268.6,94.23 L269.1,94.43 L269.6,94.64 L270.1,94.84 L270.6,95.04 L271.1,95.23 L271.6,95.41 L272.1,95.59 L272.6,95.76 L273.1,95.92 L273.6,96.06 L274.1,96.2 L274.6,96.32 L275.1,96.44 L275.6,96.55 L276.1,96.66 L276.6,96.76 L277.1,96.85 L277.6,96.94 L278.1,97.03 L278.6,97.11 L279.1,97.19 L279.6,97.26 L280.1,97.33 L280.6,97.4 L281.1,97.46 L281.6,97.53 L282.1,97.59 L282.6,97.65 L283.1,97.71 L283.6,97.76 L284.1,97.81 L284.6,97.86 L285.1,97.9 L285.6,97.94 L286.1,97.97 L286.6,98 L287.1,98.02 L287.6,98.04 L288.1,98.05 L288.6,98.07 L289.1,98.08 L289.6,98.09 L289.9,98.1" stroke="#ee2222" stroke-width="0.8" fill="none"/>
<path d="M169.1,114.03 L169.6,113.5 L170.1,112.98 L170.6,112.46 L171.1,111.95 L171.6,111.45 L172.1,110.95 L172.6,110.47 L173.1,110 L173.6,109.54 L174.1,109.1 L174.6,108.67 L175.1,108.26 L175.6,107.86 L176.1,107.46 L176.6,107.07 L177.1,106.69 L177.6,106.3 L178.1,105.91 L178.6,105.52 L179.1,105.12 L179.6,104.71 L180.1,104.29 L180.6,103.85 L181.1,103.4 L181.6,102.93 L182.1,102.46 L182.6,101.98 L183.1,101.49 L183.6,101 L184.1,100.51 L184.6,100.02 L185.1,99.54 L185.6,99.06 L186.1,98.59 L186.6,98.13 L187.1,97.68 L187.6,97.24 L188.1,96.81 L188.6,96.39 L189.1,95.99 L189.6,95.59 L190.1,95.21 L190.6,94.83 L191.1,94.47 L191.6,94.11 L192.1,93.77 L192.6,93.43 L193.1,93.11 L193.6,92.79 L194.1,92.49 L194.6,92.2 L195.1,91.92 L195.6,91.65 L196.1,91.4 L196.6,91.17 L197.1,90.95 L197.6,90.75 L198.1,90.57 L198.6,90.4 L199.1,90.25 L199.6,90.12 L200.1,90.01 L200.6,89.91 L201.1,89.81 L201.6,89.72 L202.1,89.64 L202.6,89.56 L203.1,89.47 L203.6,89.38 L204.1,89.29 L204.6,89.19 L205.1,89.09 L205.6,88.99 L206.1,88.9 L206.6,88.81 L207.1,88.72 L207.6,88.65 L208.1,88.59 L208.6,88.54 L209.1,88.5 L209.6,88.48 L210.1,88.46 L210.6,88.45 L211.1,88.46 L211.6,88.46 L212.1,88.47 L212.6,88.49 L213.1,88.51 L213.6,88.53 L214.1,88.55 L214.6,88.57 L215.1,88.59 L215.6,88.61 L216.1,88.62 L216.6,88.63 L217.1,88.64 L217.6,88.65 L218.1,88.65 L218.6,88.65 L219.1,88.65 L219.6,88.64 L220.1,88.63 L220.6,88.62 L221.1,88.61 L221.6,88.6 L222.1,88.58 L222.6,88.56 L223.1,88.54 L223.6,88.52 L224.1,88.49 L224.6,88.46 L225.1,88.43 L225.6,88.39 L226.1,88.35 L226.6,88.3 L227.1,88.25 L227.6,88.2 L228.1,88.14 L228.6,88.08 L229.1,88.01 L229.6,87.94 L230.1,87.87 L230.6,87.79 L231.1,87.72 L231.6,87.65 L232.1,87.57 L232.6,87.5 L233.1,87.43 L233.6,87.36 L234.1,87.29 L234.6,87.23 L235.1,87.17 L235.6,87.1 L236.1,87.04 L236.6,86.98 L237.1,86.91 L237.6,86.84 L238.1,86.77 L238.6,86.7 L239.1,86.62 L239.6,86.54 L240.1,86.45 L240.6,86.35 L241.1,86.25 L241.6,86.16 L242.1,86.07 L242.6,85.99 L243.1,85.91 L243.6,85.85 L244.1,85.81 L244.6,85.78 L245.1,85.78 L245.6,85.8 L246.1,85.85 L246.6,85.92 L247.1,86.01 L247.6,86.11 L248.1,86.23 L248.6,86.35 L249.1,86.48 L249.6,86.6 L250.1,86.72 L250.6,86.83 L251.1,86.94 L251.6,87.04 L252.1,87.14 L252.6,87.24 L253.1,87.34 L253.6,87.45 L254.1,87.56 L254.6,87.68 L255.1,87.8 L255.6,87.94 L256.1,88.1 L256.6,88.27 L257.1,88.46 L257.6,88.66 L258.1,88.87 L258.6,89.09 L259.1,89.32 L259.6,89.56 L260.1,89.81 L260.6,90.06 L261.1,90.32 L261.6,90.58 L262.1,90.85 L262.6,91.11 L263.1,91.38 L263.6,91.64 L264.1,91.9 L264.6,92.16 L265.1,92.42 L265.6,92.68 L266.1,92.93 L266.6,93.18 L267.1,93.43 L267.6,93.67 L268.1,93.91 L268.6,94.14 L269.1,94.36 L269.6,94.58 L270.1,94.79 L270.6,94.99 L271.1,95.19 L271.6,95.38 L272.1,95.56 L272.6,95.73 L273.1,95.89 L273.6,96.05 L274.1,96.19 L274.6,96.33 L275.1,96.45 L275.6,96.57 L276.1,96.68 L276.6,96.78 L277.1,96.87 L277.6,96.96 L278.1,97.04 L278.6,97.12 L279.1,97.2 L279.6,97.27 L280.1,97.33 L280.6,97.4 L281.1,97.46 L281.6,97.53 L282.1,97.59 L282.6,97.65 L283.1,97.7 L283.6,97.75 L284.1,97.8 L284.6,97.85 L285.1,97.89 L285.6,97.93 L286.1,97.97 L286.6,97.99 L287.1,98.02 L287.6,98.04 L288.1,98.06 L288.6,98.07 L289.1,98.08 L289.6,98.09 L289.9,98.09" stroke="#1c1c30" stroke-width="1.1" fill="none"/>
<circle cx="172.5" cy="111.2" r="1.4" fill="#999" stroke="#000" stroke-width="1.1"/>
<circle cx="184.8" cy="100.1" r="1.4" fill="#999" stroke="#000" stroke-width="1.1"/>
<circle cx="197" cy="89.5" r="1.4" fill="#999" stroke="#000" stroke-width="1.1"/>
<circle cx="208.6" cy="86.7" r="1.4" fill="#999" stroke="#000" stroke-width="1.1"/>
<circle cx="221.5" cy="88.8" r="1.4" fill="#999" stroke="#000" stroke-width="1.1"/>
<circle cx="233.3" cy="87.6" r="1.4" fill="#999" stroke="#000" stroke-width="1.1"/>
<circle cx="245.6" cy="85.9" r="1.4" fill="#999" stroke="#000" stroke-width="1.1"/>
<circle cx="257.6" cy="88.3" r="1.4" fill="#999" stroke="#000" stroke-width="1.1"/>
<circle cx="270.2" cy="94.7" r="1.4" fill="#999" stroke="#000" stroke-width="1.1"/>
<circle cx="282" cy="99.2" r="1.4" fill="#999" stroke="#000" stroke-width="1.1"/>
<text x="248.7" y="79.6" class="lb">2.9 at.%</text>
<path d="M169.1,181.13 L169.6,181.05 L170.1,180.97 L170.6,180.88 L171.1,180.8 L171.6,180.71 L172.1,180.62 L172.6,180.52 L173.1,180.43 L173.6,180.33 L174.1,180.23 L174.6,180.13 L175.1,180.03 L175.6,179.93 L176.1,179.82 L176.6,179.71 L177.1,179.6 L177.6,179.49 L178.1,179.38 L178.6,179.27 L179.1,179.16 L179.6,179.04 L180.1,178.92 L180.6,178.8 L181.1,178.68 L181.6,178.55 L182.1,178.42 L182.6,178.29 L183.1,178.15 L183.6,178.01 L184.1,177.87 L184.6,177.73 L185.1,177.58 L185.6,177.43 L186.1,177.28 L186.6,177.13 L187.1,176.97 L187.6,176.82 L188.1,176.66 L188.6,176.51 L189.1,176.35 L189.6,176.2 L190.1,176.04 L190.6,175.88 L191.1,175.73 L191.6,175.57 L192.1,175.42 L192.6,175.27 L193.1,175.12 L193.6,174.97 L194.1,174.81 L194.6,174.66 L195.1,174.51 L195.6,174.35 L196.1,174.2 L196.6,174.04 L197.1,173.88 L197.6,173.72 L198.1,173.56 L198.6,173.4 L199.1,173.24 L199.6,173.07 L200.1,172.91 L200.6,172.74 L201.1,172.58 L201.6,172.41 L202.1,172.24 L202.6,172.07 L203.1,171.89 L203.6,171.71 L204.1,171.53 L204.6,171.34 L205.1,171.14 L205.6,170.93 L206.1,170.72 L206.6,170.5 L207.1,170.28 L207.6,170.07 L208.1,169.86 L208.6,169.66 L209.1,169.45 L209.6,169.25 L210.1,169.04 L210.6,168.84 L211.1,168.64 L211.6,168.43 L212.1,168.23 L212.6,168.03 L213.1,167.83 L213.6,167.63 L214.1,167.44 L214.6,167.24 L215.1,167.05 L215.6,166.85 L216.1,166.66 L216.6,166.48 L217.1,166.29 L217.6,166.11 L218.1,165.93 L218.6,165.75 L219.1,165.57 L219.6,165.4 L220.1,165.23 L220.6,165.07 L221.1,164.9 L221.6,164.74 L222.1,164.58 L222.6,164.42 L223.1,164.26 L223.6,164.11 L224.1,163.96 L224.6,163.8 L225.1,163.65 L225.6,163.5 L226.1,163.36 L226.6,163.21 L227.1,163.07 L227.6,162.92 L228.1,162.78 L228.6,162.64 L229.1,162.5 L229.6,162.37 L230.1,162.23 L230.6,162.1 L231.1,161.97 L231.6,161.83 L232.1,161.7 L232.6,161.57 L233.1,161.45 L233.6,161.33 L234.1,161.21 L234.6,161.1 L235.1,160.99 L235.6,160.88 L236.1,160.77 L236.6,160.67 L237.1,160.57 L237.6,160.46 L238.1,160.36 L238.6,160.26 L239.1,160.15 L239.6,160.05 L240.1,159.94 L240.6,159.83 L241.1,159.72 L241.6,159.61 L242.1,159.49 L242.6,159.37 L243.1,159.24 L243.6,159.11 L244.1,158.97 L244.6,158.83 L245.1,158.67 L245.6,158.5 L246.1,158.31 L246.6,158.1 L247.1,157.89 L247.6,157.68 L248.1,157.47 L248.6,157.27 L249.1,157.09 L249.6,156.92 L250.1,156.77 L250.6,156.64 L251.1,156.51 L251.6,156.38 L252.1,156.25 L252.6,156.13 L253.1,156.02 L253.6,155.9 L254.1,155.79 L254.6,155.69 L255.1,155.58 L255.6,155.48 L256.1,155.38 L256.6,155.28 L257.1,155.19 L257.6,155.09 L258.1,155 L258.6,154.91 L259.1,154.82 L259.6,154.74 L260.1,154.65 L260.6,154.57 L261.1,154.48 L261.6,154.4 L262.1,154.32 L262.6,154.23 L263.1,154.15 L263.6,154.07 L264.1,153.99 L264.6,153.91 L265.1,153.83 L265.6,153.76 L266.1,153.68 L266.6,153.61 L267.1,153.53 L267.6,153.46 L268.1,153.39 L268.6,153.32 L269.1,153.25 L269.6,153.18 L270.1,153.11 L270.6,153.05 L271.1,152.99 L271.6,152.92 L272.1,152.86 L272.6,152.81 L273.1,152.75 L273.6,152.69 L274.1,152.64 L274.6,152.59 L275.1,152.54 L275.6,152.49 L276.1,152.44 L276.6,152.4 L277.1,152.35 L277.6,152.31 L278.1,152.27 L278.6,152.23 L279.1,152.19 L279.6,152.15 L280.1,152.11 L280.6,152.07 L281.1,152.03 L281.6,152 L282.1,151.96 L282.6,151.92 L283.1,151.89 L283.6,151.85 L284.1,151.81 L284.6,151.78 L285.1,151.74 L285.6,151.71 L286.1,151.67 L286.6,151.64 L287.1,151.61 L287.6,151.57 L288.1,151.54 L288.6,151.51 L289.1,151.48 L289.6,151.45 L289.9,151.43" stroke="#3a3a55" stroke-width="0.85" stroke-dasharray="0.9,1.2" fill="none"/>
<path d="M168,176 L168.5,175.6 L169,175.2 L169.5,174.81 L170,174.42 L170.5,174.04 L171,173.67 L171.5,173.3 L172,172.94 L172.5,172.59 L173,172.24 L173.5,171.9 L174,171.57 L174.5,171.24 L175,170.94 L175.5,170.65 L176,170.38 L176.5,170.1 L177,169.84 L177.5,169.57 L178,169.29 L178.5,169 L179,168.7 L179.5,168.38 L180,168.04 L180.5,167.68 L181,167.27 L181.5,166.84 L182,166.38 L182.5,165.91 L183,165.41 L183.5,164.91 L184,164.4 L184.5,163.89 L185,163.38 L185.5,162.88 L186,162.39 L186.5,161.91 L187,161.43 L187.5,160.95 L188,160.47 L188.5,159.98 L189,159.49 L189.5,159.01 L190,158.54 L190.5,158.07 L191,157.61 L191.5,157.16 L192,156.72 L192.5,156.3 L193,155.88 L193.5,155.46 L194,155.03 L194.5,154.61 L195,154.19 L195.5,153.79 L196,153.4 L196.5,153.03 L197,152.68 L197.5,152.37 L198,152.09 L198.5,151.84 L199,151.63 L199.5,151.41 L200,151.2 L200.5,150.99 L201,150.81 L201.5,150.64 L202,150.5 L202.5,150.39 L203,150.32 L203.5,150.3 L204,150.3 L204.5,150.31 L205,150.31 L205.5,150.32 L206,150.33 L206.5,150.35 L207,150.36 L207.5,150.38 L208,150.4 L208.5,150.43 L209,150.47 L209.5,150.54 L210,150.61 L210.5,150.7 L211,150.8 L211.5,150.9 L212,151.01 L212.5,151.13 L213,151.25 L213.5,151.36 L214,151.48 L214.5,151.59 L215,151.72 L215.5,151.85 L216,152 L216.5,152.15 L217,152.3 L217.5,152.46 L218,152.61 L218.5,152.77 L219,152.93 L219.5,153.09 L220,153.24 L220.5,153.39 L221,153.54 L221.5,153.69 L222,153.84 L222.5,153.99 L223,154.15 L223.5,154.3 L224,154.45 L224.5,154.59 L225,154.74 L225.5,154.88 L226,155.02 L226.5,155.15 L227,155.29 L227.5,155.43 L228,155.57 L228.5,155.71 L229,155.85 L229.5,155.99 L230,156.11 L230.5,156.23 L231,156.35 L231.5,156.44 L232,156.53 L232.5,156.6 L233,156.66 L233.5,156.72 L234,156.78 L234.5,156.84 L235,156.9 L235.5,156.95 L236,157 L236.5,157.04 L237,157.09 L237.5,157.12 L238,157.15 L238.5,157.17 L239,157.19 L239.5,157.2 L240,157.2 L240.5,157.2 L241,157.19 L241.5,157.18 L242,157.17 L242.5,157.16 L243,157.14 L243.5,157.13 L244,157.11 L244.5,157.09 L245,157.06 L245.5,157.04 L246,157.01 L246.5,156.99 L247,156.96 L247.5,156.93 L248,156.9 L248.5,156.86 L249,156.82 L249.5,156.76 L250,156.7 L250.5,156.63 L251,156.55 L251.5,156.48 L252,156.4" stroke="#9a9ae0" stroke-width="0.7" fill="none"/>
<path d="M169.1,181.13 L169.6,181.06 L170.1,180.97 L170.6,180.89 L171.1,180.8 L171.6,180.72 L172.1,180.62 L172.6,180.53 L173.1,180.44 L173.6,180.34 L174.1,180.24 L174.6,180.14 L175.1,180.04 L175.6,179.93 L176.1,179.83 L176.6,179.72 L177.1,179.61 L177.6,179.5 L178.1,179.39 L178.6,179.27 L179.1,179.16 L179.6,179.04 L180.1,178.92 L180.6,178.8 L181.1,178.68 L181.6,178.56 L182.1,178.43 L182.6,178.3 L183.1,178.16 L183.6,178.03 L184.1,177.89 L184.6,177.75 L185.1,177.61 L185.6,177.46 L186.1,177.31 L186.6,177.16 L187.1,177.01 L187.6,176.85 L188.1,176.69 L188.6,176.53 L189.1,176.37 L189.6,176.2 L190.1,176.04 L190.6,175.87 L191.1,175.69 L191.6,175.52 L192.1,175.34 L192.6,175.16 L193.1,174.98 L193.6,174.8 L194.1,174.61 L194.6,174.43 L195.1,174.23 L195.6,174.04 L196.1,173.84 L196.6,173.63 L197.1,173.43 L197.6,173.21 L198.1,172.99 L198.6,172.77 L199.1,172.54 L199.6,172.3 L200.1,172.06 L200.6,171.81 L201.1,171.55 L201.6,171.29 L202.1,171.01 L202.6,170.72 L203.1,170.41 L203.6,170.06 L204.1,169.69 L204.6,169.3 L205.1,168.91 L205.6,168.51 L206.1,168.11 L206.6,167.71 L207.1,167.33 L207.6,166.97 L208.1,166.63 L208.6,166.32 L209.1,166.01 L209.6,165.71 L210.1,165.43 L210.6,165.14 L211.1,164.86 L211.6,164.58 L212.1,164.3 L212.6,164.01 L213.1,163.72 L213.6,163.41 L214.1,163.1 L214.6,162.77 L215.1,162.44 L215.6,162.1 L216.1,161.75 L216.6,161.39 L217.1,161.03 L217.6,160.67 L218.1,160.31 L218.6,159.95 L219.1,159.59 L219.6,159.23 L220.1,158.87 L220.6,158.52 L221.1,158.16 L221.6,157.81 L222.1,157.46 L222.6,157.1 L223.1,156.75 L223.6,156.4 L224.1,156.05 L224.6,155.69 L225.1,155.34 L225.6,154.99 L226.1,154.64 L226.6,154.29 L227.1,153.93 L227.6,153.57 L228.1,153.2 L228.6,152.84 L229.1,152.47 L229.6,152.11 L230.1,151.75 L230.6,151.41 L231.1,151.07 L231.6,150.75 L232.1,150.44 L232.6,150.14 L233.1,149.86 L233.6,149.58 L234.1,149.31 L234.6,149.05 L235.1,148.79 L235.6,148.54 L236.1,148.29 L236.6,148.06 L237.1,147.83 L237.6,147.61 L238.1,147.4 L238.6,147.2 L239.1,147 L239.6,146.8 L240.1,146.61 L240.6,146.41 L241.1,146.23 L241.6,146.04 L242.1,145.87 L242.6,145.71 L243.1,145.56 L243.6,145.43 L244.1,145.31 L244.6,145.22 L245.1,145.13 L245.6,145.05 L246.1,144.97 L246.6,144.89 L247.1,144.82 L247.6,144.76 L248.1,144.7 L248.6,144.66 L249.1,144.62 L249.6,144.61 L250.1,144.6 L250.6,144.61 L251.1,144.64 L251.6,144.68 L252.1,144.74 L252.6,144.8 L253.1,144.88 L253.6,144.96 L254.1,145.04 L254.6,145.13 L255.1,145.22 L255.6,145.31 L256.1,145.4 L256.6,145.49 L257.1,145.59 L257.6,145.71 L258.1,145.83 L258.6,145.95 L259.1,146.09 L259.6,146.22 L260.1,146.36 L260.6,146.49 L261.1,146.62 L261.6,146.75 L262.1,146.88 L262.6,146.99 L263.1,147.11 L263.6,147.23 L264.1,147.34 L264.6,147.45 L265.1,147.57 L265.6,147.68 L266.1,147.79 L266.6,147.91 L267.1,148.02 L267.6,148.14 L268.1,148.25 L268.6,148.37 L269.1,148.49 L269.6,148.61 L270.1,148.74 L270.6,148.86 L271.1,148.99 L271.6,149.11 L272.1,149.24 L272.6,149.36 L273.1,149.48 L273.6,149.6 L274.1,149.71 L274.6,149.82 L275.1,149.93 L275.6,150.04 L276.1,150.15 L276.6,150.26 L277.1,150.36 L277.6,150.47 L278.1,150.57 L278.6,150.66 L279.1,150.75 L279.6,150.84 L280.1,150.92 L280.6,151 L281.1,151.07 L281.6,151.15 L282.1,151.22 L282.6,151.29 L283.1,151.36 L283.6,151.42 L284.1,151.48 L284.6,151.54 L285.1,151.59 L285.6,151.63 L286.1,151.67 L286.6,151.7 L287.1,151.72 L287.6,151.74 L288.1,151.75 L288.6,151.77 L289.1,151.78 L289.6,151.79 L289.9,151.8" stroke="#ee2222" stroke-width="0.8" fill="none"/>
<path d="M169.1,175.12 L169.6,174.72 L170.1,174.33 L170.6,173.94 L171.1,173.56 L171.6,173.19 L172.1,172.83 L172.6,172.48 L173.1,172.14 L173.6,171.81 L174.1,171.5 L174.6,171.2 L175.1,170.92 L175.6,170.64 L176.1,170.37 L176.6,170.11 L177.1,169.84 L177.6,169.56 L178.1,169.28 L178.6,168.98 L179.1,168.66 L179.6,168.33 L180.1,167.97 L180.6,167.59 L181.1,167.18 L181.6,166.75 L182.1,166.3 L182.6,165.83 L183.1,165.35 L183.6,164.85 L184.1,164.35 L184.6,163.84 L185.1,163.33 L185.6,162.81 L186.1,162.3 L186.6,161.8 L187.1,161.3 L187.6,160.8 L188.1,160.31 L188.6,159.83 L189.1,159.35 L189.6,158.88 L190.1,158.41 L190.6,157.94 L191.1,157.48 L191.6,157.02 L192.1,156.56 L192.6,156.11 L193.1,155.66 L193.6,155.21 L194.1,154.77 L194.6,154.34 L195.1,153.92 L195.6,153.51 L196.1,153.11 L196.6,152.73 L197.1,152.37 L197.6,152.03 L198.1,151.7 L198.6,151.4 L199.1,151.12 L199.6,150.87 L200.1,150.64 L200.6,150.43 L201.1,150.24 L201.6,150.07 L202.1,149.92 L202.6,149.79 L203.1,149.68 L203.6,149.58 L204.1,149.5 L204.6,149.44 L205.1,149.38 L205.6,149.34 L206.1,149.3 L206.6,149.27 L207.1,149.24 L207.6,149.22 L208.1,149.2 L208.6,149.17 L209.1,149.14 L209.6,149.12 L210.1,149.09 L210.6,149.06 L211.1,149.03 L211.6,149 L212.1,148.97 L212.6,148.94 L213.1,148.91 L213.6,148.89 L214.1,148.86 L214.6,148.83 L215.1,148.81 L215.6,148.79 L216.1,148.77 L216.6,148.74 L217.1,148.72 L217.6,148.7 L218.1,148.68 L218.6,148.65 L219.1,148.62 L219.6,148.59 L220.1,148.55 L220.6,148.5 L221.1,148.45 L221.6,148.39 L222.1,148.32 L222.6,148.24 L223.1,148.16 L223.6,148.07 L224.1,147.98 L224.6,147.88 L225.1,147.78 L225.6,147.67 L226.1,147.55 L226.6,147.44 L227.1,147.32 L227.6,147.2 L228.1,147.08 L228.6,146.95 L229.1,146.83 L229.6,146.71 L230.1,146.58 L230.6,146.46 L231.1,146.33 L231.6,146.21 L232.1,146.09 L232.6,145.97 L233.1,145.85 L233.6,145.73 L234.1,145.62 L234.6,145.5 L235.1,145.39 L235.6,145.28 L236.1,145.17 L236.6,145.06 L237.1,144.95 L237.6,144.83 L238.1,144.72 L238.6,144.6 L239.1,144.48 L239.6,144.36 L240.1,144.24 L240.6,144.12 L241.1,144.01 L241.6,143.9 L242.1,143.81 L242.6,143.72 L243.1,143.64 L243.6,143.58 L244.1,143.53 L244.6,143.5 L245.1,143.49 L245.6,143.5 L246.1,143.53 L246.6,143.58 L247.1,143.65 L247.6,143.73 L248.1,143.82 L248.6,143.92 L249.1,144.02 L249.6,144.12 L250.1,144.22 L250.6,144.31 L251.1,144.4 L251.6,144.49 L252.1,144.57 L252.6,144.66 L253.1,144.74 L253.6,144.82 L254.1,144.91 L254.6,145 L255.1,145.09 L255.6,145.19 L256.1,145.3 L256.6,145.41 L257.1,145.53 L257.6,145.66 L258.1,145.79 L258.6,145.92 L259.1,146.06 L259.6,146.2 L260.1,146.33 L260.6,146.47 L261.1,146.61 L261.6,146.74 L262.1,146.87 L262.6,147 L263.1,147.12 L263.6,147.24 L264.1,147.36 L264.6,147.47 L265.1,147.59 L265.6,147.7 L266.1,147.81 L266.6,147.92 L267.1,148.03 L267.6,148.14 L268.1,148.25 L268.6,148.37 L269.1,148.49 L269.6,148.61 L270.1,148.73 L270.6,148.85 L271.1,148.98 L271.6,149.1 L272.1,149.22 L272.6,149.35 L273.1,149.47 L273.6,149.59 L274.1,149.71 L274.6,149.82 L275.1,149.94 L275.6,150.05 L276.1,150.15 L276.6,150.26 L277.1,150.36 L277.6,150.46 L278.1,150.56 L278.6,150.65 L279.1,150.74 L279.6,150.83 L280.1,150.92 L280.6,151 L281.1,151.08 L281.6,151.16 L282.1,151.23 L282.6,151.3 L283.1,151.36 L283.6,151.43 L284.1,151.48 L284.6,151.53 L285.1,151.58 L285.6,151.63 L286.1,151.66 L286.6,151.69 L287.1,151.72 L287.6,151.74 L288.1,151.76 L288.6,151.77 L289.1,151.78 L289.6,151.79 L289.9,151.79" stroke="#1c1c30" stroke-width="1.1" fill="none"/>
<circle cx="172.5" cy="173.1" r="1.4" fill="#999" stroke="#000" stroke-width="1.1"/>
<circle cx="184.8" cy="163.6" r="1.4" fill="#999" stroke="#000" stroke-width="1.1"/>
<circle cx="196.7" cy="151.6" r="1.4" fill="#999" stroke="#000" stroke-width="1.1"/>
<circle cx="208.6" cy="149.6" r="1.4" fill="#999" stroke="#000" stroke-width="1.1"/>
<circle cx="221.5" cy="149" r="1.4" fill="#999" stroke="#000" stroke-width="1.1"/>
<circle cx="233.3" cy="146" r="1.4" fill="#999" stroke="#000" stroke-width="1.1"/>
<circle cx="245.6" cy="143.5" r="1.4" fill="#999" stroke="#000" stroke-width="1.1"/>
<circle cx="257.6" cy="145.3" r="1.4" fill="#999" stroke="#000" stroke-width="1.1"/>
<circle cx="270.2" cy="148.3" r="1.4" fill="#999" stroke="#000" stroke-width="1.1"/>
<circle cx="282" cy="151.8" r="1.4" fill="#999" stroke="#000" stroke-width="1.1"/>
<text x="249.0" y="138.1" class="lb">2.7 at.%</text>
<path d="M169.1,228.7 L172.3,226.7 L176.7,225.8 L181,221.5 L188.2,219.8 L195.4,219.8 L199.7,218 L205.5,214 L209.8,215.1 L214.1,212.8 L218.5,212.3 L221.3,209.4 L225.7,211.4 L230,211.1 L235.8,213.1 L241.5,214.6 L245.9,214.3 L250.2,218 L255.9,218 L261.7,216.9 L266,220.3 L270.4,220.3 L274.7,217.4 L279,214.6 L282.8,217.2 L287.7,216.9 L289.9,218.2" stroke="#333" stroke-width="0.9" fill="none" stroke-linejoin="round"/>
<path d="M169.1,280.8 L180,280.6 L195,280.5 L202.6,280.5 L204,279.3 L215,278.7 L228.6,277.6 L238,277.8 L243,278.2 L248.7,276.7 L260,276.3 L275,275.9 L289.9,275.3" stroke="#333" stroke-width="0.9" fill="none" stroke-linejoin="round"/>
<text x="248.7" y="197.9" class="lb">2.0 at.%</text>
<text x="253.6" y="254.9" class="lb">0 at.%</text>
<text x="172.9" y="13" class="lw" fill="#1414e6" stroke="#1414e6">W 4f7/2</text>
<text x="213.6" y="13" class="lw" fill="#ee1c1c" stroke="#ee1c1c">W 4f5/2</text>
<path d="M310.9,62.2 L311.4,62.11 L311.9,62.02 L312.4,61.93 L312.9,61.84 L313.4,61.75 L313.9,61.66 L314.4,61.56 L314.9,61.47 L315.4,61.38 L315.9,61.28 L316.4,61.19 L316.9,61.09 L317.4,60.99 L317.9,60.89 L318.4,60.79 L318.9,60.68 L319.4,60.58 L319.9,60.47 L320.4,60.36 L320.9,60.25 L321.4,60.13 L321.9,60.01 L322.4,59.89 L322.9,59.76 L323.4,59.62 L323.9,59.48 L324.4,59.34 L324.9,59.18 L325.4,59.02 L325.9,58.86 L326.4,58.68 L326.9,58.5 L327.4,58.3 L327.9,58.1 L328.4,57.89 L328.9,57.67 L329.4,57.43 L329.9,57.19 L330.4,56.93 L330.9,56.66 L331.4,56.37 L331.9,56.08 L332.4,55.76 L332.9,55.43 L333.4,55.09 L333.9,54.73 L334.4,54.35 L334.9,53.95 L335.4,53.54 L335.9,53.11 L336.4,52.67 L336.9,52.22 L337.4,51.76 L337.9,51.3 L338.4,50.83 L338.9,50.35 L339.4,49.86 L339.9,49.35 L340.4,48.83 L340.9,48.28 L341.4,47.7 L341.9,47.1 L342.4,46.46 L342.9,45.79 L343.4,45.09 L343.9,44.35 L344.4,43.59 L344.9,42.81 L345.4,42.02 L345.9,41.22 L346.4,40.41 L346.9,39.61 L347.4,38.82 L347.9,38.03 L348.4,37.26 L348.9,36.51 L349.4,35.77 L349.9,35.06 L350.4,34.36 L350.9,33.68 L351.4,33.03 L351.9,32.4 L352.4,31.79 L352.9,31.21 L353.4,30.65 L353.9,30.12 L354.4,29.62 L354.9,29.15 L355.4,28.71 L355.9,28.31 L356.4,27.93 L356.9,27.59 L357.4,27.28 L357.9,27 L358.4,26.76 L358.9,26.55 L359.4,26.37 L359.9,26.23 L360.4,26.12 L360.9,26.04 L361.4,26 L361.9,25.99 L362.4,26.02 L362.9,26.08 L363.4,26.17 L363.9,26.3 L364.4,26.46 L364.9,26.66 L365.4,26.89 L365.9,27.15 L366.4,27.44 L366.9,27.77 L367.4,28.13 L367.9,28.52 L368.4,28.95 L368.9,29.4 L369.4,29.89 L369.9,30.41 L370.4,30.96 L370.9,31.54 L371.4,32.14 L371.9,32.76 L372.4,33.4 L372.9,34.06 L373.4,34.74 L373.9,35.43 L374.4,36.14 L374.9,36.86 L375.4,37.58 L375.9,38.32 L376.4,39.06 L376.9,39.8 L377.4,40.54 L377.9,41.28 L378.4,42.02 L378.9,42.76 L379.4,43.49 L379.9,44.22 L380.4,44.94 L380.9,45.64 L381.4,46.34 L381.9,47.02 L382.4,47.69 L382.9,48.34 L383.4,48.97 L383.9,49.58 L384.4,50.17 L384.9,50.74 L385.4,51.28 L385.9,51.8 L386.4,52.3 L386.9,52.78 L387.4,53.23 L387.9,53.67 L388.4,54.09 L388.9,54.49 L389.4,54.87 L389.9,55.23 L390.4,55.58 L390.9,55.91 L391.4,56.22 L391.9,56.52 L392.4,56.8 L392.9,57.06 L393.4,57.31 L393.9,57.54 L394.4,57.76 L394.9,57.96 L395.4,58.15 L395.9,58.32 L396.4,58.47 L396.9,58.62 L397.4,58.75 L397.9,58.87 L398.4,58.99 L398.9,59.09 L399.4,59.19 L399.9,59.28 L400.4,59.37 L400.9,59.45 L401.4,59.53 L401.9,59.61 L402.4,59.68 L402.9,59.74 L403.4,59.81 L403.9,59.87 L404.4,59.93 L404.9,59.99 L405.4,60.04 L405.9,60.1 L406.4,60.15 L406.9,60.2 L407.4,60.25 L407.9,60.3 L408.4,60.34 L408.9,60.39 L409.4,60.43 L409.9,60.47 L410.4,60.51 L410.9,60.54 L411.4,60.58 L411.9,60.61 L412.4,60.65 L412.9,60.68 L413.4,60.71 L413.9,60.74 L414.4,60.77 L414.9,60.79 L415.4,60.82 L415.9,60.84 L416.4,60.87 L416.9,60.89 L417.4,60.91 L417.9,60.93 L418.4,60.95 L418.9,60.97 L419.4,60.99 L419.9,61 L420.4,61.02 L420.9,61.04 L421.4,61.05 L421.9,61.07 L422.4,61.08 L422.9,61.09 L423.4,61.11 L423.9,61.12 L424.4,61.13 L424.9,61.14 L425.4,61.15 L425.9,61.16 L426.4,61.18 L426.9,61.19 L427.4,61.2 L427.5,61.2" stroke="#ec3030" stroke-width="1.0" fill="none"/>
<path d="M310.9,116.5 L311.4,116.34 L311.9,116.19 L312.4,116.03 L312.9,115.87 L313.4,115.72 L313.9,115.56 L314.4,115.41 L314.9,115.26 L315.4,115.11 L315.9,114.96 L316.4,114.81 L316.9,114.66 L317.4,114.52 L317.9,114.38 L318.4,114.24 L318.9,114.11 L319.4,113.97 L319.9,113.84 L320.4,113.72 L320.9,113.59 L321.4,113.47 L321.9,113.34 L322.4,113.22 L322.9,113.09 L323.4,112.97 L323.9,112.84 L324.4,112.7 L324.9,112.57 L325.4,112.43 L325.9,112.29 L326.4,112.14 L326.9,111.98 L327.4,111.82 L327.9,111.65 L328.4,111.47 L328.9,111.29 L329.4,111.09 L329.9,110.89 L330.4,110.67 L330.9,110.45 L331.4,110.21 L331.9,109.95 L332.4,109.69 L332.9,109.41 L333.4,109.11 L333.9,108.8 L334.4,108.47 L334.9,108.12 L335.4,107.76 L335.9,107.38 L336.4,107 L336.9,106.61 L337.4,106.2 L337.9,105.8 L338.4,105.39 L338.9,104.98 L339.4,104.55 L339.9,104.1 L340.4,103.63 L340.9,103.14 L341.4,102.62 L341.9,102.05 L342.4,101.45 L342.9,100.81 L343.4,100.12 L343.9,99.39 L344.4,98.63 L344.9,97.85 L345.4,97.05 L345.9,96.24 L346.4,95.42 L346.9,94.61 L347.4,93.8 L347.9,93.01 L348.4,92.23 L348.9,91.47 L349.4,90.72 L349.9,89.98 L350.4,89.27 L350.9,88.56 L351.4,87.87 L351.9,87.2 L352.4,86.54 L352.9,85.89 L353.4,85.26 L353.9,84.65 L354.4,84.04 L354.9,83.46 L355.4,82.89 L355.9,82.33 L356.4,81.79 L356.9,81.28 L357.4,80.78 L357.9,80.31 L358.4,79.87 L358.9,79.46 L359.4,79.09 L359.9,78.75 L360.4,78.44 L360.9,78.18 L361.4,77.96 L361.9,77.79 L362.4,77.67 L362.9,77.6 L363.4,77.58 L363.9,77.62 L364.4,77.7 L364.9,77.83 L365.4,78.01 L365.9,78.24 L366.4,78.5 L366.9,78.81 L367.4,79.16 L367.9,79.55 L368.4,79.97 L368.9,80.42 L369.4,80.91 L369.9,81.43 L370.4,81.97 L370.9,82.55 L371.4,83.14 L371.9,83.77 L372.4,84.41 L372.9,85.07 L373.4,85.75 L373.9,86.45 L374.4,87.16 L374.9,87.89 L375.4,88.63 L375.9,89.37 L376.4,90.13 L376.9,90.89 L377.4,91.66 L377.9,92.44 L378.4,93.21 L378.9,93.98 L379.4,94.76 L379.9,95.53 L380.4,96.3 L380.9,97.06 L381.4,97.82 L381.9,98.57 L382.4,99.31 L382.9,100.04 L383.4,100.76 L383.9,101.47 L384.4,102.16 L384.9,102.84 L385.4,103.5 L385.9,104.14 L386.4,104.77 L386.9,105.38 L387.4,105.97 L387.9,106.54 L388.4,107.08 L388.9,107.61 L389.4,108.12 L389.9,108.61 L390.4,109.07 L390.9,109.51 L391.4,109.93 L391.9,110.34 L392.4,110.72 L392.9,111.1 L393.4,111.45 L393.9,111.79 L394.4,112.12 L394.9,112.44 L395.4,112.74 L395.9,113.04 L396.4,113.33 L396.9,113.6 L397.4,113.86 L397.9,114.11 L398.4,114.35 L398.9,114.57 L399.4,114.77 L399.9,114.96 L400.4,115.14 L400.9,115.3 L401.4,115.44 L401.9,115.58 L402.4,115.7 L402.9,115.81 L403.4,115.91 L403.9,116.01 L404.4,116.1 L404.9,116.18 L405.4,116.27 L405.9,116.34 L406.4,116.42 L406.9,116.49 L407.4,116.56 L407.9,116.63 L408.4,116.69 L408.9,116.75 L409.4,116.81 L409.9,116.86 L410.4,116.91 L410.9,116.95 L411.4,117 L411.9,117.04 L412.4,117.07 L412.9,117.1 L413.4,117.13 L413.9,117.16 L414.4,117.18 L414.9,117.2 L415.4,117.21 L415.9,117.22 L416.4,117.23 L416.9,117.23 L417.4,117.23 L417.9,117.23 L418.4,117.22 L418.9,117.22 L419.4,117.2 L419.9,117.19 L420.4,117.18 L420.9,117.16 L421.4,117.14 L421.9,117.12 L422.4,117.1 L422.9,117.07 L423.4,117.04 L423.9,117.02 L424.4,116.99 L424.9,116.96 L425.4,116.93 L425.9,116.9 L426.4,116.87 L426.9,116.84 L427.4,116.81 L427.5,116.8" stroke="#ec3030" stroke-width="1.0" fill="none"/>
<path d="M310.9,182.9 L311.4,182.85 L311.9,182.81 L312.4,182.76 L312.9,182.72 L313.4,182.67 L313.9,182.62 L314.4,182.57 L314.9,182.52 L315.4,182.47 L315.9,182.42 L316.4,182.36 L316.9,182.3 L317.4,182.25 L317.9,182.18 L318.4,182.12 L318.9,182.05 L319.4,181.99 L319.9,181.91 L320.4,181.84 L320.9,181.76 L321.4,181.68 L321.9,181.59 L322.4,181.49 L322.9,181.39 L323.4,181.29 L323.9,181.17 L324.4,181.05 L324.9,180.93 L325.4,180.79 L325.9,180.65 L326.4,180.49 L326.9,180.33 L327.4,180.16 L327.9,179.98 L328.4,179.78 L328.9,179.58 L329.4,179.36 L329.9,179.13 L330.4,178.9 L330.9,178.65 L331.4,178.4 L331.9,178.14 L332.4,177.88 L332.9,177.61 L333.4,177.34 L333.9,177.06 L334.4,176.79 L334.9,176.51 L335.4,176.23 L335.9,175.95 L336.4,175.67 L336.9,175.36 L337.4,175.05 L337.9,174.7 L338.4,174.33 L338.9,173.93 L339.4,173.49 L339.9,173 L340.4,172.47 L340.9,171.89 L341.4,171.28 L341.9,170.63 L342.4,169.96 L342.9,169.26 L343.4,168.55 L343.9,167.83 L344.4,167.1 L344.9,166.37 L345.4,165.64 L345.9,164.91 L346.4,164.18 L346.9,163.44 L347.4,162.7 L347.9,161.95 L348.4,161.19 L348.9,160.43 L349.4,159.67 L349.9,158.9 L350.4,158.13 L350.9,157.37 L351.4,156.61 L351.9,155.86 L352.4,155.12 L352.9,154.38 L353.4,153.67 L353.9,152.96 L354.4,152.28 L354.9,151.62 L355.4,150.97 L355.9,150.35 L356.4,149.76 L356.9,149.19 L357.4,148.65 L357.9,148.14 L358.4,147.65 L358.9,147.2 L359.4,146.78 L359.9,146.38 L360.4,146.02 L360.9,145.69 L361.4,145.4 L361.9,145.14 L362.4,144.92 L362.9,144.72 L363.4,144.56 L363.9,144.44 L364.4,144.34 L364.9,144.26 L365.4,144.22 L365.9,144.2 L366.4,144.21 L366.9,144.24 L367.4,144.3 L367.9,144.39 L368.4,144.51 L368.9,144.66 L369.4,144.85 L369.9,145.07 L370.4,145.33 L370.9,145.62 L371.4,145.96 L371.9,146.34 L372.4,146.76 L372.9,147.22 L373.4,147.72 L373.9,148.26 L374.4,148.84 L374.9,149.45 L375.4,150.08 L375.9,150.75 L376.4,151.44 L376.9,152.15 L377.4,152.89 L377.9,153.64 L378.4,154.41 L378.9,155.19 L379.4,155.98 L379.9,156.78 L380.4,157.58 L380.9,158.39 L381.4,159.19 L381.9,159.98 L382.4,160.77 L382.9,161.54 L383.4,162.3 L383.9,163.05 L384.4,163.77 L384.9,164.46 L385.4,165.13 L385.9,165.77 L386.4,166.39 L386.9,166.98 L387.4,167.55 L387.9,168.1 L388.4,168.64 L388.9,169.17 L389.4,169.68 L389.9,170.2 L390.4,170.71 L390.9,171.22 L391.4,171.72 L391.9,172.21 L392.4,172.7 L392.9,173.17 L393.4,173.63 L393.9,174.08 L394.4,174.51 L394.9,174.92 L395.4,175.31 L395.9,175.68 L396.4,176.03 L396.9,176.36 L397.4,176.67 L397.9,176.97 L398.4,177.24 L398.9,177.5 L399.4,177.74 L399.9,177.96 L400.4,178.16 L400.9,178.35 L401.4,178.53 L401.9,178.69 L402.4,178.85 L402.9,178.99 L403.4,179.12 L403.9,179.25 L404.4,179.36 L404.9,179.48 L405.4,179.59 L405.9,179.69 L406.4,179.79 L406.9,179.89 L407.4,179.98 L407.9,180.08 L408.4,180.16 L408.9,180.25 L409.4,180.33 L409.9,180.4 L410.4,180.47 L410.9,180.54 L411.4,180.61 L411.9,180.67 L412.4,180.73 L412.9,180.79 L413.4,180.85 L413.9,180.9 L414.4,180.95 L414.9,180.99 L415.4,181.03 L415.9,181.07 L416.4,181.11 L416.9,181.15 L417.4,181.18 L417.9,181.21 L418.4,181.24 L418.9,181.26 L419.4,181.29 L419.9,181.31 L420.4,181.33 L420.9,181.35 L421.4,181.36 L421.9,181.38 L422.4,181.4 L422.9,181.41 L423.4,181.42 L423.9,181.43 L424.4,181.44 L424.9,181.45 L425.4,181.46 L425.9,181.47 L426.4,181.48 L426.9,181.49 L427.4,181.5 L427.5,181.5" stroke="#ec3030" stroke-width="1.0" fill="none"/>
<path d="M311,240.3 L311.5,240.18 L312,240.06 L312.5,239.94 L313,239.82 L313.5,239.69 L314,239.56 L314.5,239.43 L315,239.29 L315.5,239.14 L316,238.99 L316.5,238.83 L317,238.65 L317.5,238.47 L318,238.28 L318.5,238.08 L319,237.87 L319.5,237.64 L320,237.4 L320.5,237.15 L321,236.88 L321.5,236.59 L322,236.3 L322.5,235.99 L323,235.67 L323.5,235.34 L324,235 L324.5,234.64 L325,234.28 L325.5,233.91 L326,233.52 L326.5,233.13 L327,232.73 L327.5,232.32 L328,231.9 L328.5,231.48 L329,231.05 L329.5,230.61 L330,230.17 L330.5,229.73 L331,229.29 L331.5,228.85 L332,228.4 L332.5,227.96 L333,227.52 L333.5,227.08 L334,226.65 L334.5,226.22 L335,225.8 L335.5,225.38 L336,224.98 L336.5,224.58 L337,224.19 L337.5,223.81 L338,223.45 L338.5,223.09 L339,222.75 L339.5,222.43 L340,222.12 L340.5,221.83 L341,221.55 L341.5,221.3 L342,221.06 L342.5,220.85 L343,220.66 L343.5,220.48 L344,220.33 L344.5,220.2 L345,220.09 L345.5,220.01 L346,219.95 L346.5,219.91 L347,219.89 L347.5,219.9 L348,219.94 L348.5,219.99 L349,220.07 L349.5,220.17 L350,220.29 L350.5,220.44 L351,220.6 L351.5,220.78 L352,220.99 L352.5,221.22 L353,221.47 L353.5,221.74 L354,222.03 L354.5,222.35 L355,222.7 L355.5,223.07 L356,223.46 L356.5,223.88 L357,224.31 L357.5,224.76 L358,225.22 L358.5,225.69 L359,226.17 L359.5,226.66 L360,227.14 L360.5,227.63 L361,228.11 L361.5,228.59 L362,229.06 L362.5,229.53 L363,229.97 L363.5,230.41 L364,230.82 L364.5,231.21 L365,231.59 L365.5,231.94 L366,232.28 L366.5,232.61 L367,232.92 L367.5,233.22 L368,233.51 L368.5,233.79 L369,234.06 L369.5,234.33 L370,234.6 L370.5,234.87 L371,235.13 L371.5,235.39 L372,235.65 L372.5,235.9 L373,236.15 L373.5,236.4 L374,236.64 L374.5,236.88 L375,237.1 L375.5,237.32 L376,237.54 L376.5,237.74 L377,237.93 L377.5,238.12 L378,238.29 L378.5,238.45 L379,238.6 L379.5,238.74 L380,238.86 L380.5,238.97 L381,239.07 L381.5,239.16 L382,239.25 L382.5,239.32 L383,239.39 L383.5,239.45 L384,239.5 L384.5,239.55 L385,239.59 L385.5,239.63 L386,239.67 L386.5,239.71 L387,239.74 L387.5,239.77 L388,239.81 L388.5,239.84 L389,239.86 L389.5,239.89 L390,239.92 L390.5,239.94 L391,239.96 L391.5,239.98 L392,240 L392.5,240.02 L393,240.04 L393.5,240.05 L394,240.07 L394.5,240.08 L395,240.09 L395.5,240.1 L396,240.11 L396.5,240.11 L397,240.12 L397.5,240.12 L398,240.12 L398.5,240.12 L399,240.12 L399.5,240.12 L400,240.11 L400.5,240.11 L401,240.1 L401.5,240.09 L402,240.09 L402.5,240.08 L403,240.07 L403.5,240.06 L404,240.04 L404.5,240.03 L405,240.02 L405.5,240 L406,239.99 L406.5,239.97 L407,239.96 L407.5,239.94 L408,239.92 L408.5,239.91 L409,239.89 L409.5,239.87 L410,239.85 L410.5,239.83 L411,239.81 L411.5,239.79 L412,239.77 L412.5,239.75 L413,239.73 L413.5,239.72 L414,239.7 L414.5,239.68 L415,239.66 L415.5,239.64 L416,239.62 L416.5,239.6 L417,239.58 L417.5,239.56 L418,239.54 L418.5,239.53 L419,239.51 L419.5,239.49 L420,239.47 L420.5,239.45 L421,239.43 L421.5,239.42 L422,239.4 L422.5,239.38 L423,239.36 L423.5,239.34 L424,239.33 L424.5,239.31 L425,239.29 L425.5,239.27 L426,239.25 L426.5,239.24 L427,239.22 L427.5,239.2" stroke="#2a2af0" stroke-width="0.9" fill="none"/>
<path d="M311,240.3 L311.5,240.26 L312,240.22 L312.5,240.17 L313,240.13 L313.5,240.09 L314,240.04 L314.5,240 L315,239.96 L315.5,239.91 L316,239.87 L316.5,239.82 L317,239.78 L317.5,239.73 L318,239.68 L318.5,239.64 L319,239.59 L319.5,239.54 L320,239.49 L320.5,239.44 L321,239.38 L321.5,239.33 L322,239.28 L322.5,239.22 L323,239.16 L323.5,239.1 L324,239.04 L324.5,238.98 L325,238.92 L325.5,238.86 L326,238.79 L326.5,238.72 L327,238.66 L327.5,238.59 L328,238.51 L328.5,238.44 L329,238.36 L329.5,238.28 L330,238.2 L330.5,238.12 L331,238.03 L331.5,237.94 L332,237.85 L332.5,237.75 L333,237.65 L333.5,237.55 L334,237.44 L334.5,237.32 L335,237.21 L335.5,237.09 L336,236.96 L336.5,236.83 L337,236.69 L337.5,236.55 L338,236.4 L338.5,236.24 L339,236.08 L339.5,235.91 L340,235.74 L340.5,235.55 L341,235.36 L341.5,235.16 L342,234.95 L342.5,234.74 L343,234.51 L343.5,234.27 L344,234.02 L344.5,233.77 L345,233.5 L345.5,233.22 L346,232.92 L346.5,232.62 L347,232.3 L347.5,231.97 L348,231.63 L348.5,231.28 L349,230.91 L349.5,230.53 L350,230.14 L350.5,229.73 L351,229.31 L351.5,228.87 L352,228.42 L352.5,227.95 L353,227.47 L353.5,226.98 L354,226.47 L354.5,225.94 L355,225.4 L355.5,224.84 L356,224.27 L356.5,223.69 L357,223.09 L357.5,222.49 L358,221.87 L358.5,221.26 L359,220.63 L359.5,220.01 L360,219.38 L360.5,218.75 L361,218.13 L361.5,217.51 L362,216.89 L362.5,216.28 L363,215.68 L363.5,215.09 L364,214.51 L364.5,213.95 L365,213.4 L365.5,212.87 L366,212.35 L366.5,211.85 L367,211.36 L367.5,210.9 L368,210.46 L368.5,210.03 L369,209.63 L369.5,209.25 L370,208.9 L370.5,208.57 L371,208.27 L371.5,208.01 L372,207.78 L372.5,207.6 L373,207.47 L373.5,207.4 L374,207.39 L374.5,207.43 L375,207.53 L375.5,207.68 L376,207.87 L376.5,208.11 L377,208.38 L377.5,208.69 L378,209.03 L378.5,209.41 L379,209.8 L379.5,210.22 L380,210.65 L380.5,211.11 L381,211.58 L381.5,212.06 L382,212.57 L382.5,213.09 L383,213.62 L383.5,214.16 L384,214.71 L384.5,215.28 L385,215.85 L385.5,216.44 L386,217.02 L386.5,217.62 L387,218.22 L387.5,218.82 L388,219.43 L388.5,220.04 L389,220.65 L389.5,221.25 L390,221.86 L390.5,222.46 L391,223.06 L391.5,223.66 L392,224.25 L392.5,224.83 L393,225.4 L393.5,225.96 L394,226.52 L394.5,227.06 L395,227.58 L395.5,228.1 L396,228.6 L396.5,229.08 L397,229.55 L397.5,230.01 L398,230.45 L398.5,230.87 L399,231.28 L399.5,231.68 L400,232.06 L400.5,232.43 L401,232.78 L401.5,233.13 L402,233.45 L402.5,233.77 L403,234.07 L403.5,234.36 L404,234.63 L404.5,234.9 L405,235.15 L405.5,235.39 L406,235.61 L406.5,235.83 L407,236.03 L407.5,236.23 L408,236.41 L408.5,236.58 L409,236.75 L409.5,236.9 L410,237.04 L410.5,237.18 L411,237.31 L411.5,237.43 L412,237.54 L412.5,237.64 L413,237.74 L413.5,237.83 L414,237.92 L414.5,238 L415,238.07 L415.5,238.14 L416,238.2 L416.5,238.26 L417,238.31 L417.5,238.36 L418,238.4 L418.5,238.44 L419,238.48 L419.5,238.51 L420,238.54 L420.5,238.56 L421,238.59 L421.5,238.61 L422,238.62 L422.5,238.64 L423,238.65 L423.5,238.66 L424,238.67 L424.5,238.68 L425,238.68 L425.5,238.69 L426,238.69 L426.5,238.69 L427,238.7 L427.5,238.7" stroke="#ee2222" stroke-width="0.9" fill="none"/>
<path d="M311,240.1 L311.5,239.88 L312,239.66 L312.5,239.44 L313,239.22 L313.5,239 L314,238.78 L314.5,238.56 L315,238.33 L315.5,238.1 L316,237.87 L316.5,237.63 L317,237.39 L317.5,237.15 L318,236.9 L318.5,236.65 L319,236.39 L319.5,236.13 L320,235.86 L320.5,235.59 L321,235.3 L321.5,235.02 L322,234.72 L322.5,234.41 L323,234.1 L323.5,233.78 L324,233.45 L324.5,233.1 L325,232.75 L325.5,232.39 L326,232.01 L326.5,231.63 L327,231.23 L327.5,230.82 L328,230.39 L328.5,229.95 L329,229.51 L329.5,229.05 L330,228.58 L330.5,228.1 L331,227.61 L331.5,227.11 L332,226.6 L332.5,226.09 L333,225.57 L333.5,225.05 L334,224.52 L334.5,223.98 L335,223.44 L335.5,222.9 L336,222.36 L336.5,221.81 L337,221.26 L337.5,220.71 L338,220.16 L338.5,219.62 L339,219.07 L339.5,218.53 L340,217.98 L340.5,217.44 L341,216.91 L341.5,216.38 L342,215.86 L342.5,215.34 L343,214.82 L343.5,214.32 L344,213.82 L344.5,213.33 L345,212.85 L345.5,212.38 L346,211.93 L346.5,211.48 L347,211.04 L347.5,210.61 L348,210.2 L348.5,209.8 L349,209.4 L349.5,209.02 L350,208.65 L350.5,208.29 L351,207.95 L351.5,207.61 L352,207.29 L352.5,206.98 L353,206.68 L353.5,206.39 L354,206.11 L354.5,205.85 L355,205.6 L355.5,205.36 L356,205.13 L356.5,204.92 L357,204.71 L357.5,204.52 L358,204.34 L358.5,204.16 L359,204 L359.5,203.85 L360,203.7 L360.5,203.56 L361,203.44 L361.5,203.32 L362,203.2 L362.5,203.1 L363,203 L363.5,202.9 L364,202.82 L364.5,202.74 L365,202.66 L365.5,202.6 L366,202.54 L366.5,202.51 L367,202.48 L367.5,202.48 L368,202.5 L368.5,202.54 L369,202.61 L369.5,202.7 L370,202.81 L370.5,202.95 L371,203.11 L371.5,203.3 L372,203.51 L372.5,203.75 L373,204.01 L373.5,204.3 L374,204.62 L374.5,204.96 L375,205.32 L375.5,205.71 L376,206.11 L376.5,206.54 L377,206.98 L377.5,207.44 L378,207.91 L378.5,208.4 L379,208.9 L379.5,209.41 L380,209.93 L380.5,210.46 L381,211 L381.5,211.55 L382,212.1 L382.5,212.66 L383,213.23 L383.5,213.8 L384,214.38 L384.5,214.96 L385,215.55 L385.5,216.13 L386,216.73 L386.5,217.32 L387,217.91 L387.5,218.51 L388,219.1 L388.5,219.7 L389,220.29 L389.5,220.88 L390,221.46 L390.5,222.04 L391,222.62 L391.5,223.19 L392,223.76 L392.5,224.32 L393,224.87 L393.5,225.42 L394,225.95 L394.5,226.48 L395,227 L395.5,227.5 L396,227.99 L396.5,228.48 L397,228.94 L397.5,229.4 L398,229.85 L398.5,230.28 L399,230.7 L399.5,231.11 L400,231.51 L400.5,231.89 L401,232.26 L401.5,232.62 L402,232.96 L402.5,233.29 L403,233.61 L403.5,233.92 L404,234.21 L404.5,234.49 L405,234.76 L405.5,235.01 L406,235.25 L406.5,235.48 L407,235.7 L407.5,235.9 L408,236.09 L408.5,236.28 L409,236.45 L409.5,236.61 L410,236.77 L410.5,236.91 L411,237.05 L411.5,237.18 L412,237.3 L412.5,237.41 L413,237.52 L413.5,237.62 L414,237.72 L414.5,237.81 L415,237.89 L415.5,237.97 L416,238.05 L416.5,238.11 L417,238.18 L417.5,238.24 L418,238.29 L418.5,238.34 L419,238.39 L419.5,238.43 L420,238.46 L420.5,238.5 L421,238.52 L421.5,238.55 L422,238.57 L422.5,238.59 L423,238.6 L423.5,238.61 L424,238.61 L424.5,238.62 L425,238.62 L425.5,238.62 L426,238.61 L426.5,238.61 L427,238.61 L427.5,238.6" stroke="#333" stroke-width="0.9" fill="none"/>
<circle cx="314.5" cy="238.6" r="1.4" fill="#999" stroke="#000" stroke-width="1.1"/>
<circle cx="323.3" cy="234.6" r="1.4" fill="#999" stroke="#000" stroke-width="1.1"/>
<circle cx="332" cy="226.9" r="1.4" fill="#999" stroke="#000" stroke-width="1.1"/>
<circle cx="340.8" cy="217.2" r="1.4" fill="#999" stroke="#000" stroke-width="1.1"/>
<circle cx="349.8" cy="208.5" r="1.4" fill="#999" stroke="#000" stroke-width="1.1"/>
<circle cx="358.2" cy="203.7" r="1.4" fill="#999" stroke="#000" stroke-width="1.1"/>
<circle cx="367.1" cy="202.5" r="1.4" fill="#999" stroke="#000" stroke-width="1.1"/>
<circle cx="376.3" cy="206.1" r="1.4" fill="#999" stroke="#000" stroke-width="1.1"/>
<circle cx="384.9" cy="215.7" r="1.4" fill="#999" stroke="#000" stroke-width="1.1"/>
<circle cx="393.7" cy="226.3" r="1.4" fill="#999" stroke="#000" stroke-width="1.1"/>
<circle cx="402.5" cy="233.7" r="1.4" fill="#999" stroke="#000" stroke-width="1.1"/>
<circle cx="411.2" cy="237.4" r="1.4" fill="#999" stroke="#000" stroke-width="1.1"/>
<circle cx="420" cy="238.3" r="1.4" fill="#999" stroke="#000" stroke-width="1.1"/>
<path d="M311,297.2 L311.5,297.09 L312,296.98 L312.5,296.87 L313,296.75 L313.5,296.63 L314,296.5 L314.5,296.37 L315,296.23 L315.5,296.08 L316,295.91 L316.5,295.74 L317,295.55 L317.5,295.35 L318,295.14 L318.5,294.91 L319,294.66 L319.5,294.39 L320,294.1 L320.5,293.79 L321,293.46 L321.5,293.11 L322,292.75 L322.5,292.37 L323,291.97 L323.5,291.56 L324,291.14 L324.5,290.7 L325,290.25 L325.5,289.8 L326,289.33 L326.5,288.86 L327,288.39 L327.5,287.9 L328,287.42 L328.5,286.93 L329,286.43 L329.5,285.93 L330,285.42 L330.5,284.91 L331,284.39 L331.5,283.86 L332,283.32 L332.5,282.78 L333,282.22 L333.5,281.66 L334,281.08 L334.5,280.5 L335,279.9 L335.5,279.29 L336,278.66 L336.5,278.03 L337,277.38 L337.5,276.72 L338,276.05 L338.5,275.38 L339,274.7 L339.5,274.02 L340,273.35 L340.5,272.68 L341,272.02 L341.5,271.37 L342,270.74 L342.5,270.12 L343,269.53 L343.5,268.96 L344,268.41 L344.5,267.9 L345,267.42 L345.5,266.97 L346,266.56 L346.5,266.19 L347,265.85 L347.5,265.54 L348,265.26 L348.5,265.01 L349,264.78 L349.5,264.57 L350,264.38 L350.5,264.2 L351,264.03 L351.5,263.88 L352,263.73 L352.5,263.6 L353,263.49 L353.5,263.39 L354,263.32 L354.5,263.26 L355,263.22 L355.5,263.2 L356,263.2 L356.5,263.23 L357,263.29 L357.5,263.37 L358,263.48 L358.5,263.61 L359,263.78 L359.5,263.97 L360,264.2 L360.5,264.46 L361,264.75 L361.5,265.06 L362,265.39 L362.5,265.74 L363,266.1 L363.5,266.46 L364,266.83 L364.5,267.19 L365,267.56 L365.5,267.93 L366,268.32 L366.5,268.72 L367,269.14 L367.5,269.59 L368,270.07 L368.5,270.58 L369,271.14 L369.5,271.74 L370,272.4 L370.5,273.11 L371,273.86 L371.5,274.65 L372,275.46 L372.5,276.28 L373,277.1 L373.5,277.9 L374,278.68 L374.5,279.44 L375,280.17 L375.5,280.88 L376,281.57 L376.5,282.24 L377,282.89 L377.5,283.52 L378,284.13 L378.5,284.72 L379,285.3 L379.5,285.86 L380,286.4 L380.5,286.93 L381,287.43 L381.5,287.92 L382,288.4 L382.5,288.85 L383,289.28 L383.5,289.7 L384,290.09 L384.5,290.47 L385,290.82 L385.5,291.15 L386,291.47 L386.5,291.76 L387,292.02 L387.5,292.27 L388,292.5 L388.5,292.71 L389,292.9 L389.5,293.08 L390,293.24 L390.5,293.39 L391,293.52 L391.5,293.65 L392,293.76 L392.5,293.87 L393,293.97 L393.5,294.06 L394,294.15 L394.5,294.23 L395,294.31 L395.5,294.38 L396,294.46 L396.5,294.54 L397,294.61 L397.5,294.69 L398,294.76 L398.5,294.83 L399,294.9 L399.5,294.96 L400,295.02 L400.5,295.08 L401,295.14 L401.5,295.19 L402,295.24 L402.5,295.28 L403,295.32 L403.5,295.35 L404,295.37 L404.5,295.39 L405,295.41 L405.5,295.41 L406,295.42 L406.5,295.41 L407,295.4 L407.5,295.39 L408,295.37 L408.5,295.35 L409,295.33 L409.5,295.3 L410,295.27 L410.5,295.24 L411,295.2 L411.5,295.17 L412,295.13 L412.5,295.1 L413,295.06 L413.5,295.03 L414,294.99 L414.5,294.96 L415,294.93 L415.5,294.9 L416,294.87 L416.5,294.84 L417,294.81 L417.5,294.79 L418,294.76 L418.5,294.74 L419,294.71 L419.5,294.69 L420,294.67 L420.5,294.65 L421,294.63 L421.5,294.61 L422,294.59 L422.5,294.57 L423,294.55 L423.5,294.53 L424,294.52 L424.5,294.5 L425,294.48 L425.5,294.47 L426,294.45 L426.5,294.43 L427,294.42 L427.5,294.4" stroke="#2a2af0" stroke-width="0.9" fill="none"/>
<path d="M311,297.6 L311.5,297.56 L312,297.52 L312.5,297.48 L313,297.43 L313.5,297.39 L314,297.35 L314.5,297.31 L315,297.27 L315.5,297.23 L316,297.19 L316.5,297.15 L317,297.11 L317.5,297.07 L318,297.03 L318.5,296.99 L319,296.95 L319.5,296.91 L320,296.87 L320.5,296.83 L321,296.79 L321.5,296.75 L322,296.71 L322.5,296.67 L323,296.63 L323.5,296.59 L324,296.55 L324.5,296.52 L325,296.48 L325.5,296.44 L326,296.4 L326.5,296.37 L327,296.33 L327.5,296.29 L328,296.26 L328.5,296.22 L329,296.18 L329.5,296.15 L330,296.11 L330.5,296.08 L331,296.04 L331.5,296 L332,295.97 L332.5,295.93 L333,295.89 L333.5,295.85 L334,295.81 L334.5,295.77 L335,295.73 L335.5,295.68 L336,295.64 L336.5,295.59 L337,295.55 L337.5,295.5 L338,295.45 L338.5,295.4 L339,295.34 L339.5,295.29 L340,295.23 L340.5,295.17 L341,295.11 L341.5,295.04 L342,294.98 L342.5,294.91 L343,294.83 L343.5,294.76 L344,294.68 L344.5,294.6 L345,294.52 L345.5,294.44 L346,294.35 L346.5,294.25 L347,294.16 L347.5,294.06 L348,293.95 L348.5,293.84 L349,293.72 L349.5,293.6 L350,293.47 L350.5,293.33 L351,293.19 L351.5,293.04 L352,292.88 L352.5,292.71 L353,292.53 L353.5,292.34 L354,292.13 L354.5,291.92 L355,291.7 L355.5,291.47 L356,291.22 L356.5,290.96 L357,290.7 L357.5,290.42 L358,290.14 L358.5,289.84 L359,289.54 L359.5,289.23 L360,288.92 L360.5,288.6 L361,288.28 L361.5,287.95 L362,287.62 L362.5,287.28 L363,286.95 L363.5,286.61 L364,286.27 L364.5,285.93 L365,285.58 L365.5,285.24 L366,284.89 L366.5,284.52 L367,284.15 L367.5,283.77 L368,283.37 L368.5,282.96 L369,282.53 L369.5,282.07 L370,281.6 L370.5,281.1 L371,280.58 L371.5,280.02 L372,279.44 L372.5,278.83 L373,278.18 L373.5,277.5 L374,276.79 L374.5,276.04 L375,275.28 L375.5,274.51 L376,273.74 L376.5,272.98 L377,272.24 L377.5,271.52 L378,270.83 L378.5,270.19 L379,269.6 L379.5,269.07 L380,268.59 L380.5,268.17 L381,267.79 L381.5,267.46 L382,267.15 L382.5,266.88 L383,266.64 L383.5,266.41 L384,266.2 L384.5,266 L385,265.81 L385.5,265.62 L386,265.45 L386.5,265.3 L387,265.18 L387.5,265.08 L388,265.02 L388.5,264.99 L389,265 L389.5,265.06 L390,265.15 L390.5,265.27 L391,265.44 L391.5,265.64 L392,265.87 L392.5,266.13 L393,266.43 L393.5,266.76 L394,267.12 L394.5,267.51 L395,267.92 L395.5,268.37 L396,268.84 L396.5,269.33 L397,269.85 L397.5,270.39 L398,270.96 L398.5,271.54 L399,272.15 L399.5,272.78 L400,273.42 L400.5,274.08 L401,274.75 L401.5,275.42 L402,276.1 L402.5,276.78 L403,277.46 L403.5,278.13 L404,278.8 L404.5,279.44 L405,280.08 L405.5,280.69 L406,281.29 L406.5,281.87 L407,282.44 L407.5,282.99 L408,283.52 L408.5,284.03 L409,284.53 L409.5,285.02 L410,285.48 L410.5,285.93 L411,286.37 L411.5,286.79 L412,287.2 L412.5,287.59 L413,287.96 L413.5,288.32 L414,288.67 L414.5,289 L415,289.32 L415.5,289.62 L416,289.91 L416.5,290.18 L417,290.45 L417.5,290.69 L418,290.93 L418.5,291.15 L419,291.36 L419.5,291.56 L420,291.74 L420.5,291.91 L421,292.07 L421.5,292.21 L422,292.35 L422.5,292.47 L423,292.58 L423.5,292.68 L424,292.77 L424.5,292.85 L425,292.92 L425.5,292.98 L426,293.04 L426.5,293.1 L427,293.15 L427.5,293.2" stroke="#ee2222" stroke-width="0.9" fill="none"/>
<path d="M311,297.2 L311.5,297.09 L312,296.98 L312.5,296.86 L313,296.74 L313.5,296.62 L314,296.49 L314.5,296.36 L315,296.21 L315.5,296.06 L316,295.9 L316.5,295.72 L317,295.54 L317.5,295.34 L318,295.12 L318.5,294.89 L319,294.65 L319.5,294.38 L320,294.1 L320.5,293.8 L321,293.47 L321.5,293.13 L322,292.77 L322.5,292.4 L323,292 L323.5,291.6 L324,291.18 L324.5,290.74 L325,290.29 L325.5,289.84 L326,289.37 L326.5,288.89 L327,288.4 L327.5,287.9 L328,287.4 L328.5,286.88 L329,286.36 L329.5,285.84 L330,285.31 L330.5,284.77 L331,284.23 L331.5,283.68 L332,283.13 L332.5,282.57 L333,282.01 L333.5,281.45 L334,280.88 L334.5,280.31 L335,279.74 L335.5,279.17 L336,278.59 L336.5,278.02 L337,277.44 L337.5,276.86 L338,276.28 L338.5,275.7 L339,275.13 L339.5,274.55 L340,273.98 L340.5,273.41 L341,272.84 L341.5,272.28 L342,271.73 L342.5,271.17 L343,270.63 L343.5,270.09 L344,269.55 L344.5,269.03 L345,268.51 L345.5,268 L346,267.5 L346.5,267.01 L347,266.53 L347.5,266.07 L348,265.62 L348.5,265.18 L349,264.76 L349.5,264.37 L350,263.99 L350.5,263.63 L351,263.3 L351.5,262.99 L352,262.71 L352.5,262.44 L353,262.2 L353.5,261.98 L354,261.77 L354.5,261.58 L355,261.4 L355.5,261.24 L356,261.08 L356.5,260.94 L357,260.82 L357.5,260.7 L358,260.6 L358.5,260.51 L359,260.43 L359.5,260.36 L360,260.3 L360.5,260.25 L361,260.22 L361.5,260.19 L362,260.16 L362.5,260.14 L363,260.13 L363.5,260.12 L364,260.1 L364.5,260.09 L365,260.07 L365.5,260.05 L366,260.03 L366.5,260.01 L367,259.99 L367.5,259.96 L368,259.94 L368.5,259.91 L369,259.87 L369.5,259.84 L370,259.8 L370.5,259.76 L371,259.72 L371.5,259.67 L372,259.63 L372.5,259.58 L373,259.54 L373.5,259.5 L374,259.45 L374.5,259.41 L375,259.38 L375.5,259.34 L376,259.32 L376.5,259.29 L377,259.27 L377.5,259.25 L378,259.23 L378.5,259.21 L379,259.19 L379.5,259.15 L380,259.11 L380.5,259.06 L381,259 L381.5,258.92 L382,258.84 L382.5,258.77 L383,258.71 L383.5,258.67 L384,258.67 L384.5,258.72 L385,258.83 L385.5,258.99 L386,259.21 L386.5,259.46 L387,259.75 L387.5,260.06 L388,260.37 L388.5,260.69 L389,261 L389.5,261.31 L390,261.62 L390.5,261.95 L391,262.28 L391.5,262.64 L392,263.01 L392.5,263.41 L393,263.84 L393.5,264.3 L394,264.81 L394.5,265.34 L395,265.92 L395.5,266.52 L396,267.14 L396.5,267.79 L397,268.46 L397.5,269.14 L398,269.83 L398.5,270.52 L399,271.22 L399.5,271.92 L400,272.61 L400.5,273.3 L401,273.98 L401.5,274.65 L402,275.32 L402.5,275.99 L403,276.64 L403.5,277.29 L404,277.92 L404.5,278.55 L405,279.17 L405.5,279.77 L406,280.37 L406.5,280.95 L407,281.52 L407.5,282.08 L408,282.63 L408.5,283.16 L409,283.68 L409.5,284.19 L410,284.68 L410.5,285.16 L411,285.62 L411.5,286.07 L412,286.5 L412.5,286.92 L413,287.32 L413.5,287.7 L414,288.07 L414.5,288.42 L415,288.76 L415.5,289.07 L416,289.37 L416.5,289.66 L417,289.93 L417.5,290.19 L418,290.43 L418.5,290.66 L419,290.88 L419.5,291.08 L420,291.27 L420.5,291.45 L421,291.62 L421.5,291.77 L422,291.92 L422.5,292.05 L423,292.18 L423.5,292.29 L424,292.4 L424.5,292.5 L425,292.59 L425.5,292.68 L426,292.76 L426.5,292.84 L427,292.92 L427.5,293" stroke="#333" stroke-width="0.9" fill="none"/>
<circle cx="314.5" cy="295.7" r="1.4" fill="#999" stroke="#000" stroke-width="1.1"/>
<circle cx="323.3" cy="291.7" r="1.4" fill="#999" stroke="#000" stroke-width="1.1"/>
<circle cx="332" cy="284.3" r="1.4" fill="#999" stroke="#000" stroke-width="1.1"/>
<circle cx="340.8" cy="273.3" r="1.4" fill="#999" stroke="#000" stroke-width="1.1"/>
<circle cx="349.8" cy="264.1" r="1.4" fill="#999" stroke="#000" stroke-width="1.1"/>
<circle cx="358.2" cy="259.5" r="1.4" fill="#999" stroke="#000" stroke-width="1.1"/>
<circle cx="367.1" cy="259.5" r="1.4" fill="#999" stroke="#000" stroke-width="1.1"/>
<circle cx="376.3" cy="259.2" r="1.4" fill="#999" stroke="#000" stroke-width="1.1"/>
<circle cx="384.9" cy="258.6" r="1.4" fill="#999" stroke="#000" stroke-width="1.1"/>
<circle cx="393.7" cy="264.5" r="1.4" fill="#999" stroke="#000" stroke-width="1.1"/>
<circle cx="402.5" cy="275.7" r="1.4" fill="#999" stroke="#000" stroke-width="1.1"/>
<circle cx="411.2" cy="285.6" r="1.4" fill="#999" stroke="#000" stroke-width="1.1"/>
<circle cx="420" cy="291.1" r="1.4" fill="#999" stroke="#000" stroke-width="1.1"/>
<text x="385.2" y="15.9" class="lb">4.7 at.%</text>
<text x="385.8" y="79.9" class="lb">2.9 at.%</text>
<text x="386.3" y="138.4" class="lb">2.7 at.%</text>
<text x="386.5" y="198.4" class="lb">2.0 at.%</text>
<text x="393.6" y="254.6" class="lb">0 at.%</text>
<text x="342.8" y="15.4" class="ls" fill="#ee1c1c" stroke="#ee1c1c">Sn<tspan class="sup" dy="-4.6">4+</tspan></text>
<text x="330.1" y="196.9" class="ls" fill="#1414e6" stroke="#1414e6">Sn<tspan class="sup" dy="-4.6">2+</tspan></text>
<text x="59.7" y="10.2" class="lo" fill="#ee1c1c" stroke="#ee1c1c">O<tspan class="sub" dy="2.4">L</tspan></text>
<text x="75.3" y="10.2" class="lo" fill="#1414e6" stroke="#1414e6">O<tspan class="sub" dy="2.4">M</tspan></text>
<text x="87.6" y="11.4" class="lo" fill="#22dd22" stroke="#22dd22">O<tspan class="sub" dy="2.4">H</tspan></text>
<rect x="24.5" y="2.6" width="122.80" height="297.70" fill="none" stroke="#000" stroke-width="1.4"/>
<rect x="168.6" y="3.5" width="121.80" height="296.80" fill="none" stroke="#000" stroke-width="1.4"/>
<rect x="310.4" y="3.8" width="117.60" height="296.50" fill="none" stroke="#000" stroke-width="1.4"/>
<line x1="428" y1="3" x2="428" y2="300.7" stroke="#000" stroke-width="2"/>
<line x1="41.5" y1="300" x2="41.5" y2="298.4" stroke="#000" stroke-width="1.3"/>
<text x="41.5" y="309.7" text-anchor="middle" class="tk">528</text>
<line x1="88.6" y1="300" x2="88.6" y2="298.4" stroke="#000" stroke-width="1.3"/>
<text x="88.6" y="309.7" text-anchor="middle" class="tk">532</text>
<line x1="135.8" y1="300" x2="135.8" y2="298.4" stroke="#000" stroke-width="1.3"/>
<text x="135.8" y="309.7" text-anchor="middle" class="tk">536</text>
<line x1="189" y1="300" x2="189" y2="298.4" stroke="#000" stroke-width="1.3"/>
<text x="189" y="309.7" text-anchor="middle" class="tk">34</text>
<line x1="229.5" y1="300" x2="229.5" y2="298.4" stroke="#000" stroke-width="1.3"/>
<text x="229.5" y="309.7" text-anchor="middle" class="tk">36</text>
<line x1="270" y1="300" x2="270" y2="298.4" stroke="#000" stroke-width="1.3"/>
<text x="270" y="309.7" text-anchor="middle" class="tk">38</text>
<line x1="317.3" y1="300" x2="317.3" y2="298.4" stroke="#000" stroke-width="1.3"/>
<text x="317.3" y="309.7" text-anchor="middle" class="tk">484</text>
<line x1="346.8" y1="300" x2="346.8" y2="298.4" stroke="#000" stroke-width="1.3"/>
<text x="346.8" y="309.7" text-anchor="middle" class="tk">486</text>
<line x1="376.2" y1="300" x2="376.2" y2="298.4" stroke="#000" stroke-width="1.3"/>
<text x="376.2" y="309.7" text-anchor="middle" class="tk">488</text>
<line x1="405.4" y1="300" x2="405.4" y2="298.4" stroke="#000" stroke-width="1.3"/>
<text x="405.4" y="309.7" text-anchor="middle" class="tk">490</text>
<text x="232.5" y="323.8" text-anchor="middle" class="ax">Binding Energy (eV)</text>
<text transform="translate(10,197.2) rotate(-90)" class="ay">Intensity (a.u.)</text>
<text x="7.6" y="10.9" class="pl">(a)</text>
<text x="150" y="10.7" class="pl">(b)</text>
<text x="294" y="12.2" class="pl">(c)</text>
</svg></body></html>
